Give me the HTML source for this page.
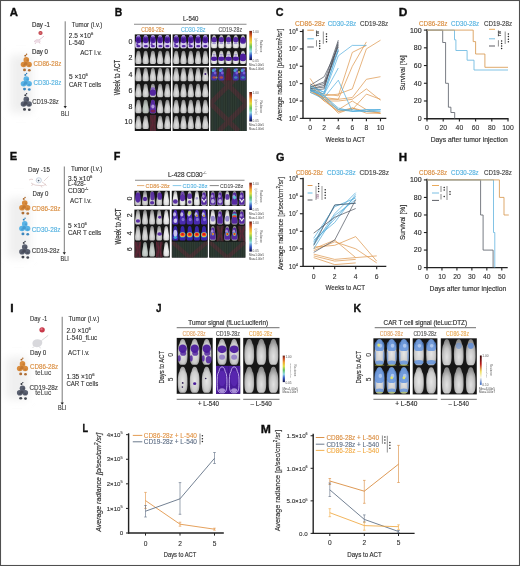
<!DOCTYPE html><html><head><meta charset="utf-8"><style>html,body{margin:0;padding:0;background:#fff;width:520px;height:566px;overflow:hidden;}body{position:relative;font-family:"Liberation Sans",sans-serif;}</style></head><body><svg width="520" height="566" viewBox="0 0 520 566" style="position:absolute;left:0;top:0;will-change:transform">
<defs>
<radialGradient id="mg" cx="0.5" cy="0.68" r="0.62"><stop offset="0" stop-color="#e2e2e2"/><stop offset="0.55" stop-color="#c6c6c6"/><stop offset="1" stop-color="#8c8c8c"/></radialGradient>
<radialGradient id="mgb" cx="0.5" cy="0.6" r="0.6"><stop offset="0" stop-color="#f4f4f4"/><stop offset="0.6" stop-color="#e2e2e2"/><stop offset="1" stop-color="#a0a0a0"/></radialGradient>
<linearGradient id="cb_rainbow" x1="0" y1="0" x2="0" y2="1"><stop offset="0" stop-color="#602010"/><stop offset="0.1" stop-color="#c04020"/><stop offset="0.25" stop-color="#f0a030"/><stop offset="0.4" stop-color="#e0e040"/><stop offset="0.55" stop-color="#60c060"/><stop offset="0.7" stop-color="#90d8e8"/><stop offset="0.85" stop-color="#3050c0"/><stop offset="1" stop-color="#101040"/></linearGradient>
<linearGradient id="cb_heat" x1="0" y1="0" x2="0" y2="1"><stop offset="0" stop-color="#200000"/><stop offset="0.3" stop-color="#c02020"/><stop offset="0.6" stop-color="#f0e060"/><stop offset="0.8" stop-color="#f8f8f8"/><stop offset="1" stop-color="#70a0e0"/></linearGradient>
<radialGradient id="shadow" cx="0.5" cy="0.5" r="0.5"><stop offset="0" stop-color="#f1f1f1"/><stop offset="0.6" stop-color="#f6f6f6"/><stop offset="1" stop-color="#ffffff" stop-opacity="0"/></radialGradient>
<filter id="bl" x="-5%" y="-5%" width="110%" height="110%"><feGaussianBlur stdDeviation="0.4"/></filter>
<filter id="sh" x="-60%" y="-30%" width="220%" height="160%"><feGaussianBlur stdDeviation="4.5"/></filter>
<filter id="gb" x="0" y="0" width="100%" height="100%" filterUnits="userSpaceOnUse"><feGaussianBlur stdDeviation="0.3"/></filter>
<radialGradient id="mgj" cx="0.5" cy="0.55" r="0.62"><stop offset="0" stop-color="#e6e6e6"/><stop offset="0.6" stop-color="#cdcdcd"/><stop offset="1" stop-color="#8e8e8e"/></radialGradient>
</defs>
<g font-family='"Liberation Sans", sans-serif' filter="url(#gb)">
<text x="9.8" y="15.8" font-size="11" fill="#111" stroke="#111" stroke-width="0.35" font-weight="bold" textLength="8.2" lengthAdjust="spacingAndGlyphs" >A</text>
<rect x="10" y="55" width="22" height="58" rx="4" fill="#efefef" filter="url(#sh)"/>
<text x="32" y="26.5" font-size="7" fill="#2e2e2e" stroke="#2e2e2e" stroke-width="0.16" textLength="18" lengthAdjust="spacingAndGlyphs" >Day -1</text>
<ellipse cx="40.50" cy="33.00" rx="2.10" ry="1.90" fill="#c0404a" opacity="1"/>
<ellipse cx="40.50" cy="33.00" rx="1.20" ry="1.00" fill="#d86a70" opacity="1"/>
<path d="M34,42 Q36,39 39,40 Q42,38 44,36 M36,42.5 L35,44 M39,41.5 L40,43.5" stroke="#d8b8c8" stroke-width="0.8" fill="none"/>
<ellipse cx="37.50" cy="41.20" rx="3.20" ry="1.60" fill="#ead6e0" opacity="0.8"/>
<text x="32" y="53.5" font-size="7" fill="#2e2e2e" stroke="#2e2e2e" stroke-width="0.16" textLength="16" lengthAdjust="spacingAndGlyphs" >Day 0</text>
<ellipse cx="25.30" cy="55.70" rx="1.00" ry="0.90" fill="#a86020" opacity="1"/>
<ellipse cx="26.60" cy="54.30" rx="0.70" ry="0.70" fill="#a86020" opacity="1"/>
<ellipse cx="26.30" cy="59.90" rx="2.80" ry="2.80" fill="#d98c3e" opacity="1"/>
<ellipse cx="23.60" cy="64.50" rx="2.90" ry="2.80" fill="#d98c3e" opacity="1"/>
<ellipse cx="29.00" cy="64.50" rx="2.90" ry="2.80" fill="#d98c3e" opacity="1"/>
<ellipse cx="26.30" cy="62.90" rx="2.40" ry="2.30" fill="#d98c3e" opacity="1"/>
<ellipse cx="25.70" cy="63.70" rx="1.80" ry="1.60" fill="#a86020" opacity="0.45"/>
<ellipse cx="27.50" cy="60.30" rx="1.20" ry="1.10" fill="#a86020" opacity="0.35"/>
<ellipse cx="23.80" cy="65.30" rx="1.20" ry="1.10" fill="#a86020" opacity="0.35"/>
<ellipse cx="29.20" cy="65.60" rx="1.20" ry="1.10" fill="#a86020" opacity="0.35"/>
<ellipse cx="24.50" cy="69.90" rx="1.50" ry="1.30" fill="#a86020" opacity="0.9"/>
<ellipse cx="29.30" cy="70.30" rx="1.40" ry="1.30" fill="#a86020" opacity="0.9"/>
<text x="33.5" y="65.6" font-size="7.2" fill="#d98c3e" stroke="#d98c3e" stroke-width="0.16" textLength="27.8" lengthAdjust="spacingAndGlyphs" >CD86-28z</text>
<ellipse cx="25.30" cy="74.90" rx="1.00" ry="0.90" fill="#2a7cb8" opacity="1"/>
<ellipse cx="26.60" cy="73.50" rx="0.70" ry="0.70" fill="#2a7cb8" opacity="1"/>
<ellipse cx="26.30" cy="79.10" rx="2.80" ry="2.80" fill="#5ab4e6" opacity="1"/>
<ellipse cx="23.60" cy="83.70" rx="2.90" ry="2.80" fill="#5ab4e6" opacity="1"/>
<ellipse cx="29.00" cy="83.70" rx="2.90" ry="2.80" fill="#5ab4e6" opacity="1"/>
<ellipse cx="26.30" cy="82.10" rx="2.40" ry="2.30" fill="#5ab4e6" opacity="1"/>
<ellipse cx="25.70" cy="82.90" rx="1.80" ry="1.60" fill="#2a7cb8" opacity="0.45"/>
<ellipse cx="27.50" cy="79.50" rx="1.20" ry="1.10" fill="#2a7cb8" opacity="0.35"/>
<ellipse cx="23.80" cy="84.50" rx="1.20" ry="1.10" fill="#2a7cb8" opacity="0.35"/>
<ellipse cx="29.20" cy="84.80" rx="1.20" ry="1.10" fill="#2a7cb8" opacity="0.35"/>
<ellipse cx="24.50" cy="89.10" rx="1.50" ry="1.30" fill="#2a7cb8" opacity="0.9"/>
<ellipse cx="29.30" cy="89.50" rx="1.40" ry="1.30" fill="#2a7cb8" opacity="0.9"/>
<text x="33.5" y="85.0" font-size="7.2" fill="#55b2e0" stroke="#55b2e0" stroke-width="0.16" textLength="27.8" lengthAdjust="spacingAndGlyphs" >CD30-28z</text>
<ellipse cx="25.30" cy="95.20" rx="1.00" ry="0.90" fill="#30343e" opacity="1"/>
<ellipse cx="26.60" cy="93.80" rx="0.70" ry="0.70" fill="#30343e" opacity="1"/>
<ellipse cx="26.30" cy="99.40" rx="2.80" ry="2.80" fill="#5a6070" opacity="1"/>
<ellipse cx="23.60" cy="104.00" rx="2.90" ry="2.80" fill="#5a6070" opacity="1"/>
<ellipse cx="29.00" cy="104.00" rx="2.90" ry="2.80" fill="#5a6070" opacity="1"/>
<ellipse cx="26.30" cy="102.40" rx="2.40" ry="2.30" fill="#5a6070" opacity="1"/>
<ellipse cx="25.70" cy="103.20" rx="1.80" ry="1.60" fill="#30343e" opacity="0.45"/>
<ellipse cx="27.50" cy="99.80" rx="1.20" ry="1.10" fill="#30343e" opacity="0.35"/>
<ellipse cx="23.80" cy="104.80" rx="1.20" ry="1.10" fill="#30343e" opacity="0.35"/>
<ellipse cx="29.20" cy="105.10" rx="1.20" ry="1.10" fill="#30343e" opacity="0.35"/>
<ellipse cx="24.50" cy="109.40" rx="1.50" ry="1.30" fill="#30343e" opacity="0.9"/>
<ellipse cx="29.30" cy="109.80" rx="1.40" ry="1.30" fill="#30343e" opacity="0.9"/>
<text x="32.3" y="103.8" font-size="7.2" fill="#444" stroke="#444" stroke-width="0.16" textLength="26.5" lengthAdjust="spacingAndGlyphs" >CD19-28z</text>
<line x1="65.2" y1="21.3" x2="65.2" y2="106.6" stroke="#6a6a6a" stroke-width="0.9" />
<path d="M63.6,106.0 L66.8,106.0 L65.2,108.6 Z" fill="#222"/>
<text x="71.7" y="26.7" font-size="6.6" fill="#2e2e2e" stroke="#2e2e2e" stroke-width="0.1" textLength="30.6" lengthAdjust="spacingAndGlyphs" >Tumor (i.v.)</text>
<text x="68.8" y="38.1" font-size="6.6" fill="#2e2e2e" stroke="#2e2e2e" stroke-width="0.1" >2.5 ×10<tspan font-size="4.2" dy="-2.8">6</tspan></text>
<text x="68.8" y="45.1" font-size="6.6" fill="#2e2e2e" stroke="#2e2e2e" stroke-width="0.1" textLength="15.7" lengthAdjust="spacingAndGlyphs" >L-540</text>
<text x="80.2" y="54.9" font-size="6.6" fill="#2e2e2e" stroke="#2e2e2e" stroke-width="0.1" textLength="21.6" lengthAdjust="spacingAndGlyphs" >ACT i.v.</text>
<text x="68.9" y="79.1" font-size="6.6" fill="#2e2e2e" stroke="#2e2e2e" stroke-width="0.1" >5 ×10<tspan font-size="4.2" dy="-2.8">6</tspan></text>
<text x="68.9" y="86.8" font-size="6.6" fill="#2e2e2e" stroke="#2e2e2e" stroke-width="0.1" textLength="32.3" lengthAdjust="spacingAndGlyphs" >CAR T cells</text>
<text x="61" y="115.7" font-size="6.6" fill="#2e2e2e" stroke="#2e2e2e" stroke-width="0.1" textLength="8.2" lengthAdjust="spacingAndGlyphs" >BLI</text>
<text x="114.7" y="16" font-size="11" fill="#111" stroke="#111" stroke-width="0.35" font-weight="bold" textLength="7.5" lengthAdjust="spacingAndGlyphs" >B</text>
<text x="183" y="21.2" font-size="7.2" fill="#2e2e2e" stroke="#2e2e2e" stroke-width="0.16" textLength="15.5" lengthAdjust="spacingAndGlyphs" >L-540</text>
<line x1="134" y1="24.3" x2="246.5" y2="24.3" stroke="#8a8a8a" stroke-width="1.1" />
<text x="141.2" y="31.8" font-size="6.3" fill="#d98c3e" stroke="#d98c3e" stroke-width="0.1" textLength="23" lengthAdjust="spacingAndGlyphs" >CD86-28z</text>
<text x="181" y="31.8" font-size="6.3" fill="#55b2e0" stroke="#55b2e0" stroke-width="0.1" textLength="24.5" lengthAdjust="spacingAndGlyphs" >CD30-28z</text>
<text x="218.5" y="31.8" font-size="6.3" fill="#505050" stroke="#505050" stroke-width="0.1" textLength="23.5" lengthAdjust="spacingAndGlyphs" >CD19-28z</text>
<text x="132.3" y="43.6" font-size="7" fill="#2e2e2e" stroke="#2e2e2e" stroke-width="0.16" text-anchor="end" >0</text>
<text x="132.3" y="60.1" font-size="7" fill="#2e2e2e" stroke="#2e2e2e" stroke-width="0.16" text-anchor="end" >2</text>
<text x="132.3" y="77.19999999999999" font-size="7" fill="#2e2e2e" stroke="#2e2e2e" stroke-width="0.16" text-anchor="end" >4</text>
<text x="132.3" y="93.39999999999999" font-size="7" fill="#2e2e2e" stroke="#2e2e2e" stroke-width="0.16" text-anchor="end" >6</text>
<text x="132.3" y="108.89999999999999" font-size="7" fill="#2e2e2e" stroke="#2e2e2e" stroke-width="0.16" text-anchor="end" >8</text>
<text x="132.3" y="124.39999999999999" font-size="7" fill="#2e2e2e" stroke="#2e2e2e" stroke-width="0.16" text-anchor="end" >10</text>
<text x="120.2" y="77.6" font-size="8.4" fill="#2e2e2e" stroke="#2e2e2e" stroke-width="0.16" text-anchor="middle" textLength="35.5" lengthAdjust="spacingAndGlyphs" transform="rotate(-90 120.2 77.6)" >Week to ACT</text>
<g filter="url(#bl)">
<rect x="134.8" y="34.4" width="36.19999999999999" height="31.500000000000007" fill="#151515" />
<path d="M138.42,35.00 C139.96,35.00 140.34,36.32 140.47,38.31 C140.72,40.95 141.62,43.20 141.62,46.11 Q141.62,48.23 140.34,48.23 L136.50,48.23 Q135.22,48.23 135.22,46.11 C135.22,43.20 136.12,40.95 136.37,38.31 C136.50,36.32 136.88,35.00 138.42,35.00 Z" fill="url(#mg)"/>
<path d="M138.42,35.00 C139.96,35.00 140.34,36.32 140.47,38.31 C140.72,40.95 141.62,43.20 141.62,46.11 Q141.62,48.23 140.34,48.23 L136.50,48.23 Q135.22,48.23 135.22,46.11 C135.22,43.20 136.12,40.95 136.37,38.31 C136.50,36.32 136.88,35.00 138.42,35.00 Z" fill="#d4c8ee"/>
<ellipse cx="138.42" cy="39.76" rx="2.82" ry="3.57" fill="#4b1c9c" opacity="1"/>
<ellipse cx="138.12" cy="39.76" rx="1.41" ry="1.59" fill="#3a1080" opacity="0.8"/>
<ellipse cx="138.42" cy="36.32" rx="1.92" ry="1.06" fill="#8a70c8" opacity="0.8"/>
<ellipse cx="138.42" cy="46.11" rx="2.05" ry="1.19" fill="#4b1c9c" opacity="0.95"/>
<ellipse cx="137.22" cy="44.26" rx="0.96" ry="1.32" fill="#4b1c9c" opacity="0.8"/>
<path d="M145.66,35.00 C147.20,35.00 147.58,36.32 147.71,38.31 C147.96,40.95 148.86,43.20 148.86,46.11 Q148.86,48.23 147.58,48.23 L143.74,48.23 Q142.46,48.23 142.46,46.11 C142.46,43.20 143.36,40.95 143.61,38.31 C143.74,36.32 144.12,35.00 145.66,35.00 Z" fill="url(#mg)"/>
<path d="M145.66,35.00 C147.20,35.00 147.58,36.32 147.71,38.31 C147.96,40.95 148.86,43.20 148.86,46.11 Q148.86,48.23 147.58,48.23 L143.74,48.23 Q142.46,48.23 142.46,46.11 C142.46,43.20 143.36,40.95 143.61,38.31 C143.74,36.32 144.12,35.00 145.66,35.00 Z" fill="#d4c8ee"/>
<ellipse cx="145.66" cy="39.76" rx="2.82" ry="3.57" fill="#4b1c9c" opacity="1"/>
<ellipse cx="145.36" cy="39.76" rx="1.41" ry="1.59" fill="#3a1080" opacity="0.8"/>
<ellipse cx="145.66" cy="36.32" rx="1.92" ry="1.06" fill="#8a70c8" opacity="0.8"/>
<ellipse cx="145.86" cy="46.11" rx="2.05" ry="1.19" fill="#4b1c9c" opacity="0.95"/>
<path d="M152.90,35.00 C154.44,35.00 154.82,36.32 154.95,38.31 C155.20,40.95 156.10,43.20 156.10,46.11 Q156.10,48.23 154.82,48.23 L150.98,48.23 Q149.70,48.23 149.70,46.11 C149.70,43.20 150.60,40.95 150.85,38.31 C150.98,36.32 151.36,35.00 152.90,35.00 Z" fill="url(#mg)"/>
<path d="M152.90,35.00 C154.44,35.00 154.82,36.32 154.95,38.31 C155.20,40.95 156.10,43.20 156.10,46.11 Q156.10,48.23 154.82,48.23 L150.98,48.23 Q149.70,48.23 149.70,46.11 C149.70,43.20 150.60,40.95 150.85,38.31 C150.98,36.32 151.36,35.00 152.90,35.00 Z" fill="#d4c8ee"/>
<ellipse cx="152.90" cy="39.76" rx="2.82" ry="3.57" fill="#4b1c9c" opacity="1"/>
<ellipse cx="152.60" cy="39.76" rx="1.41" ry="1.59" fill="#3a1080" opacity="0.8"/>
<ellipse cx="152.90" cy="36.32" rx="1.92" ry="1.06" fill="#8a70c8" opacity="0.8"/>
<ellipse cx="152.90" cy="46.11" rx="2.05" ry="1.19" fill="#4b1c9c" opacity="0.95"/>
<ellipse cx="151.70" cy="44.26" rx="0.96" ry="1.32" fill="#4b1c9c" opacity="0.8"/>
<path d="M160.14,35.00 C161.68,35.00 162.06,36.32 162.19,38.31 C162.44,40.95 163.34,43.20 163.34,46.11 Q163.34,48.23 162.06,48.23 L158.22,48.23 Q156.94,48.23 156.94,46.11 C156.94,43.20 157.84,40.95 158.09,38.31 C158.22,36.32 158.60,35.00 160.14,35.00 Z" fill="url(#mg)"/>
<path d="M160.14,35.00 C161.68,35.00 162.06,36.32 162.19,38.31 C162.44,40.95 163.34,43.20 163.34,46.11 Q163.34,48.23 162.06,48.23 L158.22,48.23 Q156.94,48.23 156.94,46.11 C156.94,43.20 157.84,40.95 158.09,38.31 C158.22,36.32 158.60,35.00 160.14,35.00 Z" fill="#d4c8ee"/>
<ellipse cx="160.14" cy="39.76" rx="2.82" ry="3.57" fill="#4b1c9c" opacity="1"/>
<ellipse cx="159.84" cy="39.76" rx="1.41" ry="1.59" fill="#3a1080" opacity="0.8"/>
<ellipse cx="160.14" cy="36.32" rx="1.92" ry="1.06" fill="#8a70c8" opacity="0.8"/>
<ellipse cx="160.34" cy="46.11" rx="2.05" ry="1.19" fill="#4b1c9c" opacity="0.95"/>
<path d="M167.38,35.00 C168.92,35.00 169.30,36.32 169.43,38.31 C169.68,40.95 170.58,43.20 170.58,46.11 Q170.58,48.23 169.30,48.23 L165.46,48.23 Q164.18,48.23 164.18,46.11 C164.18,43.20 165.08,40.95 165.33,38.31 C165.46,36.32 165.84,35.00 167.38,35.00 Z" fill="url(#mg)"/>
<path d="M167.38,35.00 C168.92,35.00 169.30,36.32 169.43,38.31 C169.68,40.95 170.58,43.20 170.58,46.11 Q170.58,48.23 169.30,48.23 L165.46,48.23 Q164.18,48.23 164.18,46.11 C164.18,43.20 165.08,40.95 165.33,38.31 C165.46,36.32 165.84,35.00 167.38,35.00 Z" fill="#d4c8ee"/>
<ellipse cx="167.38" cy="39.76" rx="2.82" ry="3.57" fill="#4b1c9c" opacity="1"/>
<ellipse cx="167.08" cy="39.76" rx="1.41" ry="1.59" fill="#3a1080" opacity="0.8"/>
<ellipse cx="167.38" cy="36.32" rx="1.92" ry="1.06" fill="#8a70c8" opacity="0.8"/>
<ellipse cx="167.38" cy="46.11" rx="2.05" ry="1.19" fill="#4b1c9c" opacity="0.95"/>
<path d="M138.42,50.75 C139.96,50.75 140.34,52.07 140.47,54.06 C140.72,56.70 141.62,58.95 141.62,61.86 Q141.62,63.98 140.34,63.98 L136.50,63.98 Q135.22,63.98 135.22,61.86 C135.22,58.95 136.12,56.70 136.37,54.06 C136.50,52.07 136.88,50.75 138.42,50.75 Z" fill="url(#mg)"/>
<path d="M145.66,50.75 C147.20,50.75 147.58,52.07 147.71,54.06 C147.96,56.70 148.86,58.95 148.86,61.86 Q148.86,63.98 147.58,63.98 L143.74,63.98 Q142.46,63.98 142.46,61.86 C142.46,58.95 143.36,56.70 143.61,54.06 C143.74,52.07 144.12,50.75 145.66,50.75 Z" fill="url(#mg)"/>
<path d="M152.90,50.75 C154.44,50.75 154.82,52.07 154.95,54.06 C155.20,56.70 156.10,58.95 156.10,61.86 Q156.10,63.98 154.82,63.98 L150.98,63.98 Q149.70,63.98 149.70,61.86 C149.70,58.95 150.60,56.70 150.85,54.06 C150.98,52.07 151.36,50.75 152.90,50.75 Z" fill="url(#mg)"/>
<path d="M160.14,50.75 C161.68,50.75 162.06,52.07 162.19,54.06 C162.44,56.70 163.34,58.95 163.34,61.86 Q163.34,63.98 162.06,63.98 L158.22,63.98 Q156.94,63.98 156.94,61.86 C156.94,58.95 157.84,56.70 158.09,54.06 C158.22,52.07 158.60,50.75 160.14,50.75 Z" fill="url(#mg)"/>
<path d="M167.38,50.75 C168.92,50.75 169.30,52.07 169.43,54.06 C169.68,56.70 170.58,58.95 170.58,61.86 Q170.58,63.98 169.30,63.98 L165.46,63.98 Q164.18,63.98 164.18,61.86 C164.18,58.95 165.08,56.70 165.33,54.06 C165.46,52.07 165.84,50.75 167.38,50.75 Z" fill="url(#mg)"/>
<rect x="172.6" y="34.4" width="36.400000000000006" height="31.500000000000007" fill="#151515" />
<path d="M176.24,35.00 C177.78,35.00 178.16,36.32 178.29,38.31 C178.54,40.95 179.44,43.20 179.44,46.11 Q179.44,48.23 178.16,48.23 L174.32,48.23 Q173.04,48.23 173.04,46.11 C173.04,43.20 173.94,40.95 174.19,38.31 C174.32,36.32 174.70,35.00 176.24,35.00 Z" fill="url(#mg)"/>
<path d="M176.24,35.00 C177.78,35.00 178.16,36.32 178.29,38.31 C178.54,40.95 179.44,43.20 179.44,46.11 Q179.44,48.23 178.16,48.23 L174.32,48.23 Q173.04,48.23 173.04,46.11 C173.04,43.20 173.94,40.95 174.19,38.31 C174.32,36.32 174.70,35.00 176.24,35.00 Z" fill="#d4c8ee"/>
<ellipse cx="176.24" cy="39.76" rx="2.82" ry="3.57" fill="#4b1c9c" opacity="1"/>
<ellipse cx="175.94" cy="39.76" rx="1.41" ry="1.59" fill="#3a1080" opacity="0.8"/>
<ellipse cx="176.24" cy="36.32" rx="1.92" ry="1.06" fill="#8a70c8" opacity="0.8"/>
<ellipse cx="176.24" cy="46.11" rx="2.05" ry="1.19" fill="#4b1c9c" opacity="0.95"/>
<ellipse cx="175.04" cy="44.26" rx="0.96" ry="1.32" fill="#4b1c9c" opacity="0.8"/>
<path d="M183.52,35.00 C185.06,35.00 185.44,36.32 185.57,38.31 C185.82,40.95 186.72,43.20 186.72,46.11 Q186.72,48.23 185.44,48.23 L181.60,48.23 Q180.32,48.23 180.32,46.11 C180.32,43.20 181.22,40.95 181.47,38.31 C181.60,36.32 181.98,35.00 183.52,35.00 Z" fill="url(#mg)"/>
<path d="M183.52,35.00 C185.06,35.00 185.44,36.32 185.57,38.31 C185.82,40.95 186.72,43.20 186.72,46.11 Q186.72,48.23 185.44,48.23 L181.60,48.23 Q180.32,48.23 180.32,46.11 C180.32,43.20 181.22,40.95 181.47,38.31 C181.60,36.32 181.98,35.00 183.52,35.00 Z" fill="#d4c8ee"/>
<ellipse cx="183.52" cy="39.76" rx="2.82" ry="3.57" fill="#4b1c9c" opacity="1"/>
<ellipse cx="183.22" cy="39.76" rx="1.41" ry="1.59" fill="#3a1080" opacity="0.8"/>
<ellipse cx="183.52" cy="36.32" rx="1.92" ry="1.06" fill="#8a70c8" opacity="0.8"/>
<ellipse cx="183.72" cy="46.11" rx="2.05" ry="1.19" fill="#4b1c9c" opacity="0.95"/>
<path d="M190.80,35.00 C192.34,35.00 192.72,36.32 192.85,38.31 C193.10,40.95 194.00,43.20 194.00,46.11 Q194.00,48.23 192.72,48.23 L188.88,48.23 Q187.60,48.23 187.60,46.11 C187.60,43.20 188.50,40.95 188.75,38.31 C188.88,36.32 189.26,35.00 190.80,35.00 Z" fill="url(#mg)"/>
<path d="M190.80,35.00 C192.34,35.00 192.72,36.32 192.85,38.31 C193.10,40.95 194.00,43.20 194.00,46.11 Q194.00,48.23 192.72,48.23 L188.88,48.23 Q187.60,48.23 187.60,46.11 C187.60,43.20 188.50,40.95 188.75,38.31 C188.88,36.32 189.26,35.00 190.80,35.00 Z" fill="#d4c8ee"/>
<ellipse cx="190.80" cy="39.76" rx="2.82" ry="3.57" fill="#4b1c9c" opacity="1"/>
<ellipse cx="190.50" cy="39.76" rx="1.41" ry="1.59" fill="#3a1080" opacity="0.8"/>
<ellipse cx="190.80" cy="36.32" rx="1.92" ry="1.06" fill="#8a70c8" opacity="0.8"/>
<ellipse cx="190.80" cy="46.11" rx="2.05" ry="1.19" fill="#4b1c9c" opacity="0.95"/>
<ellipse cx="189.60" cy="44.26" rx="0.96" ry="1.32" fill="#4b1c9c" opacity="0.8"/>
<path d="M198.08,35.00 C199.62,35.00 200.00,36.32 200.13,38.31 C200.38,40.95 201.28,43.20 201.28,46.11 Q201.28,48.23 200.00,48.23 L196.16,48.23 Q194.88,48.23 194.88,46.11 C194.88,43.20 195.78,40.95 196.03,38.31 C196.16,36.32 196.54,35.00 198.08,35.00 Z" fill="url(#mg)"/>
<path d="M198.08,35.00 C199.62,35.00 200.00,36.32 200.13,38.31 C200.38,40.95 201.28,43.20 201.28,46.11 Q201.28,48.23 200.00,48.23 L196.16,48.23 Q194.88,48.23 194.88,46.11 C194.88,43.20 195.78,40.95 196.03,38.31 C196.16,36.32 196.54,35.00 198.08,35.00 Z" fill="#d4c8ee"/>
<ellipse cx="198.08" cy="39.76" rx="2.82" ry="3.57" fill="#4b1c9c" opacity="1"/>
<ellipse cx="197.78" cy="39.76" rx="1.41" ry="1.59" fill="#3a1080" opacity="0.8"/>
<ellipse cx="198.08" cy="36.32" rx="1.92" ry="1.06" fill="#8a70c8" opacity="0.8"/>
<ellipse cx="198.28" cy="46.11" rx="2.05" ry="1.19" fill="#4b1c9c" opacity="0.95"/>
<path d="M205.36,35.00 C206.90,35.00 207.28,36.32 207.41,38.31 C207.66,40.95 208.56,43.20 208.56,46.11 Q208.56,48.23 207.28,48.23 L203.44,48.23 Q202.16,48.23 202.16,46.11 C202.16,43.20 203.06,40.95 203.31,38.31 C203.44,36.32 203.82,35.00 205.36,35.00 Z" fill="url(#mg)"/>
<path d="M205.36,35.00 C206.90,35.00 207.28,36.32 207.41,38.31 C207.66,40.95 208.56,43.20 208.56,46.11 Q208.56,48.23 207.28,48.23 L203.44,48.23 Q202.16,48.23 202.16,46.11 C202.16,43.20 203.06,40.95 203.31,38.31 C203.44,36.32 203.82,35.00 205.36,35.00 Z" fill="#d4c8ee"/>
<ellipse cx="205.36" cy="39.76" rx="2.82" ry="3.57" fill="#4b1c9c" opacity="1"/>
<ellipse cx="205.06" cy="39.76" rx="1.41" ry="1.59" fill="#3a1080" opacity="0.8"/>
<ellipse cx="205.36" cy="36.32" rx="1.92" ry="1.06" fill="#8a70c8" opacity="0.8"/>
<ellipse cx="205.36" cy="46.11" rx="2.05" ry="1.19" fill="#4b1c9c" opacity="0.95"/>
<path d="M176.24,50.75 C177.78,50.75 178.16,52.07 178.29,54.06 C178.54,56.70 179.44,58.95 179.44,61.86 Q179.44,63.98 178.16,63.98 L174.32,63.98 Q173.04,63.98 173.04,61.86 C173.04,58.95 173.94,56.70 174.19,54.06 C174.32,52.07 174.70,50.75 176.24,50.75 Z" fill="url(#mg)"/>
<path d="M183.52,50.75 C185.06,50.75 185.44,52.07 185.57,54.06 C185.82,56.70 186.72,58.95 186.72,61.86 Q186.72,63.98 185.44,63.98 L181.60,63.98 Q180.32,63.98 180.32,61.86 C180.32,58.95 181.22,56.70 181.47,54.06 C181.60,52.07 181.98,50.75 183.52,50.75 Z" fill="url(#mg)"/>
<path d="M190.80,50.75 C192.34,50.75 192.72,52.07 192.85,54.06 C193.10,56.70 194.00,58.95 194.00,61.86 Q194.00,63.98 192.72,63.98 L188.88,63.98 Q187.60,63.98 187.60,61.86 C187.60,58.95 188.50,56.70 188.75,54.06 C188.88,52.07 189.26,50.75 190.80,50.75 Z" fill="url(#mg)"/>
<path d="M198.08,50.75 C199.62,50.75 200.00,52.07 200.13,54.06 C200.38,56.70 201.28,58.95 201.28,61.86 Q201.28,63.98 200.00,63.98 L196.16,63.98 Q194.88,63.98 194.88,61.86 C194.88,58.95 195.78,56.70 196.03,54.06 C196.16,52.07 196.54,50.75 198.08,50.75 Z" fill="url(#mg)"/>
<path d="M205.36,50.75 C206.90,50.75 207.28,52.07 207.41,54.06 C207.66,56.70 208.56,58.95 208.56,61.86 Q208.56,63.98 207.28,63.98 L203.44,63.98 Q202.16,63.98 202.16,61.86 C202.16,58.95 203.06,56.70 203.31,54.06 C203.44,52.07 203.82,50.75 205.36,50.75 Z" fill="url(#mg)"/>
<rect x="210.5" y="34.4" width="36.099999999999994" height="31.500000000000007" fill="#151515" />
<path d="M214.11,35.00 C215.65,35.00 216.03,36.32 216.16,38.31 C216.41,40.95 217.31,43.20 217.31,46.11 Q217.31,48.23 216.03,48.23 L212.19,48.23 Q210.91,48.23 210.91,46.11 C210.91,43.20 211.81,40.95 212.06,38.31 C212.19,36.32 212.57,35.00 214.11,35.00 Z" fill="url(#mgb)"/>
<ellipse cx="214.11" cy="39.63" rx="2.69" ry="2.65" fill="#4b1c9c" opacity="0.95"/>
<ellipse cx="214.11" cy="43.20" rx="1.92" ry="1.06" fill="#7060c0" opacity="0.6"/>
<path d="M221.33,35.00 C222.87,35.00 223.25,36.32 223.38,38.31 C223.63,40.95 224.53,43.20 224.53,46.11 Q224.53,48.23 223.25,48.23 L219.41,48.23 Q218.13,48.23 218.13,46.11 C218.13,43.20 219.03,40.95 219.28,38.31 C219.41,36.32 219.79,35.00 221.33,35.00 Z" fill="url(#mgb)"/>
<ellipse cx="221.33" cy="39.63" rx="2.69" ry="2.65" fill="#4b1c9c" opacity="0.95"/>
<ellipse cx="221.33" cy="43.20" rx="1.92" ry="1.06" fill="#7060c0" opacity="0.6"/>
<path d="M228.55,35.00 C230.09,35.00 230.47,36.32 230.60,38.31 C230.85,40.95 231.75,43.20 231.75,46.11 Q231.75,48.23 230.47,48.23 L226.63,48.23 Q225.35,48.23 225.35,46.11 C225.35,43.20 226.25,40.95 226.50,38.31 C226.63,36.32 227.01,35.00 228.55,35.00 Z" fill="url(#mgb)"/>
<ellipse cx="228.55" cy="39.63" rx="2.69" ry="2.65" fill="#4b1c9c" opacity="0.95"/>
<ellipse cx="228.55" cy="43.20" rx="1.92" ry="1.06" fill="#7060c0" opacity="0.6"/>
<path d="M235.77,35.00 C237.31,35.00 237.69,36.32 237.82,38.31 C238.07,40.95 238.97,43.20 238.97,46.11 Q238.97,48.23 237.69,48.23 L233.85,48.23 Q232.57,48.23 232.57,46.11 C232.57,43.20 233.47,40.95 233.72,38.31 C233.85,36.32 234.23,35.00 235.77,35.00 Z" fill="url(#mgb)"/>
<ellipse cx="235.77" cy="39.63" rx="2.69" ry="2.65" fill="#4b1c9c" opacity="0.95"/>
<ellipse cx="235.77" cy="43.20" rx="1.92" ry="1.06" fill="#7060c0" opacity="0.6"/>
<path d="M242.99,35.00 C244.53,35.00 244.91,36.32 245.04,38.31 C245.29,40.95 246.19,43.20 246.19,46.11 Q246.19,48.23 244.91,48.23 L241.07,48.23 Q239.79,48.23 239.79,46.11 C239.79,43.20 240.69,40.95 240.94,38.31 C241.07,36.32 241.45,35.00 242.99,35.00 Z" fill="url(#mgb)"/>
<ellipse cx="242.99" cy="39.63" rx="2.69" ry="2.65" fill="#4b1c9c" opacity="0.95"/>
<ellipse cx="242.99" cy="43.20" rx="1.92" ry="1.06" fill="#7060c0" opacity="0.6"/>
<ellipse cx="242.99" cy="40.95" rx="2.88" ry="2.65" fill="#4b1c9c" opacity="0.95"/>
<path d="M214.11,50.75 C215.65,50.75 216.03,52.07 216.16,54.06 C216.41,56.70 217.31,58.95 217.31,61.86 Q217.31,63.98 216.03,63.98 L212.19,63.98 Q210.91,63.98 210.91,61.86 C210.91,58.95 211.81,56.70 212.06,54.06 C212.19,52.07 212.57,50.75 214.11,50.75 Z" fill="url(#mgb)"/>
<ellipse cx="214.11" cy="58.69" rx="3.20" ry="2.25" fill="#4b1c9c" opacity="1"/>
<ellipse cx="214.11" cy="54.72" rx="1.60" ry="1.06" fill="#8070c0" opacity="0.6"/>
<path d="M221.33,50.75 C222.87,50.75 223.25,52.07 223.38,54.06 C223.63,56.70 224.53,58.95 224.53,61.86 Q224.53,63.98 223.25,63.98 L219.41,63.98 Q218.13,63.98 218.13,61.86 C218.13,58.95 219.03,56.70 219.28,54.06 C219.41,52.07 219.79,50.75 221.33,50.75 Z" fill="url(#mgb)"/>
<ellipse cx="221.33" cy="58.69" rx="3.20" ry="2.25" fill="#4b1c9c" opacity="1"/>
<ellipse cx="221.33" cy="54.72" rx="1.60" ry="1.06" fill="#8070c0" opacity="0.6"/>
<path d="M228.55,50.75 C230.09,50.75 230.47,52.07 230.60,54.06 C230.85,56.70 231.75,58.95 231.75,61.86 Q231.75,63.98 230.47,63.98 L226.63,63.98 Q225.35,63.98 225.35,61.86 C225.35,58.95 226.25,56.70 226.50,54.06 C226.63,52.07 227.01,50.75 228.55,50.75 Z" fill="url(#mgb)"/>
<ellipse cx="228.55" cy="58.69" rx="3.20" ry="2.25" fill="#4b1c9c" opacity="1"/>
<ellipse cx="228.55" cy="54.72" rx="1.60" ry="1.06" fill="#8070c0" opacity="0.6"/>
<path d="M235.77,50.75 C237.31,50.75 237.69,52.07 237.82,54.06 C238.07,56.70 238.97,58.95 238.97,61.86 Q238.97,63.98 237.69,63.98 L233.85,63.98 Q232.57,63.98 232.57,61.86 C232.57,58.95 233.47,56.70 233.72,54.06 C233.85,52.07 234.23,50.75 235.77,50.75 Z" fill="url(#mgb)"/>
<ellipse cx="235.77" cy="58.69" rx="3.20" ry="2.25" fill="#4b1c9c" opacity="1"/>
<ellipse cx="235.77" cy="54.72" rx="1.60" ry="1.06" fill="#8070c0" opacity="0.6"/>
<path d="M242.99,50.75 C244.53,50.75 244.91,52.07 245.04,54.06 C245.29,56.70 246.19,58.95 246.19,61.86 Q246.19,63.98 244.91,63.98 L241.07,63.98 Q239.79,63.98 239.79,61.86 C239.79,58.95 240.69,56.70 240.94,54.06 C241.07,52.07 241.45,50.75 242.99,50.75 Z" fill="url(#mgb)"/>
<ellipse cx="242.99" cy="58.69" rx="3.20" ry="2.25" fill="#4b1c9c" opacity="1"/>
<ellipse cx="242.99" cy="54.72" rx="1.60" ry="1.06" fill="#8070c0" opacity="0.6"/>
<ellipse cx="242.99" cy="57.37" rx="3.20" ry="3.97" fill="#4b1c9c" opacity="1"/>
<rect x="134.8" y="67.3" width="36.19999999999999" height="63.7" fill="#151515" />
<path d="M138.42,67.90 C139.96,67.90 140.34,69.24 140.47,71.24 C140.72,73.92 141.62,76.19 141.62,79.14 Q141.62,81.28 140.34,81.28 L136.50,81.28 Q135.22,81.28 135.22,79.14 C135.22,76.19 136.12,73.92 136.37,71.24 C136.50,69.24 136.88,67.90 138.42,67.90 Z" fill="url(#mg)"/>
<path d="M145.66,67.90 C147.20,67.90 147.58,69.24 147.71,71.24 C147.96,73.92 148.86,76.19 148.86,79.14 Q148.86,81.28 147.58,81.28 L143.74,81.28 Q142.46,81.28 142.46,79.14 C142.46,76.19 143.36,73.92 143.61,71.24 C143.74,69.24 144.12,67.90 145.66,67.90 Z" fill="url(#mg)"/>
<path d="M152.90,67.90 C154.44,67.90 154.82,69.24 154.95,71.24 C155.20,73.92 156.10,76.19 156.10,79.14 Q156.10,81.28 154.82,81.28 L150.98,81.28 Q149.70,81.28 149.70,79.14 C149.70,76.19 150.60,73.92 150.85,71.24 C150.98,69.24 151.36,67.90 152.90,67.90 Z" fill="url(#mg)"/>
<path d="M160.14,67.90 C161.68,67.90 162.06,69.24 162.19,71.24 C162.44,73.92 163.34,76.19 163.34,79.14 Q163.34,81.28 162.06,81.28 L158.22,81.28 Q156.94,81.28 156.94,79.14 C156.94,76.19 157.84,73.92 158.09,71.24 C158.22,69.24 158.60,67.90 160.14,67.90 Z" fill="url(#mg)"/>
<path d="M167.38,67.90 C168.92,67.90 169.30,69.24 169.43,71.24 C169.68,73.92 170.58,76.19 170.58,79.14 Q170.58,81.28 169.30,81.28 L165.46,81.28 Q164.18,81.28 164.18,79.14 C164.18,76.19 165.08,73.92 165.33,71.24 C165.46,69.24 165.84,67.90 167.38,67.90 Z" fill="url(#mg)"/>
<path d="M138.42,83.82 C139.96,83.82 140.34,85.16 140.47,87.17 C140.72,89.84 141.62,92.12 141.62,95.06 Q141.62,97.20 140.34,97.20 L136.50,97.20 Q135.22,97.20 135.22,95.06 C135.22,92.12 136.12,89.84 136.37,87.17 C136.50,85.16 136.88,83.82 138.42,83.82 Z" fill="url(#mg)"/>
<path d="M145.66,83.82 C147.20,83.82 147.58,85.16 147.71,87.17 C147.96,89.84 148.86,92.12 148.86,95.06 Q148.86,97.20 147.58,97.20 L143.74,97.20 Q142.46,97.20 142.46,95.06 C142.46,92.12 143.36,89.84 143.61,87.17 C143.74,85.16 144.12,83.82 145.66,83.82 Z" fill="url(#mg)"/>
<path d="M152.90,83.82 C154.44,83.82 154.82,85.16 154.95,87.17 C155.20,89.84 156.10,92.12 156.10,95.06 Q156.10,97.20 154.82,97.20 L150.98,97.20 Q149.70,97.20 149.70,95.06 C149.70,92.12 150.60,89.84 150.85,87.17 C150.98,85.16 151.36,83.82 152.90,83.82 Z" fill="url(#mg)"/>
<ellipse cx="152.90" cy="92.52" rx="3.20" ry="3.34" fill="#4b1c9c" opacity="0.95"/>
<ellipse cx="152.90" cy="88.51" rx="2.24" ry="1.34" fill="#6a3cc0" opacity="0.7"/>
<path d="M160.14,83.82 C161.68,83.82 162.06,85.16 162.19,87.17 C162.44,89.84 163.34,92.12 163.34,95.06 Q163.34,97.20 162.06,97.20 L158.22,97.20 Q156.94,97.20 156.94,95.06 C156.94,92.12 157.84,89.84 158.09,87.17 C158.22,85.16 158.60,83.82 160.14,83.82 Z" fill="url(#mg)"/>
<path d="M167.38,83.82 C168.92,83.82 169.30,85.16 169.43,87.17 C169.68,89.84 170.58,92.12 170.58,95.06 Q170.58,97.20 169.30,97.20 L165.46,97.20 Q164.18,97.20 164.18,95.06 C164.18,92.12 165.08,89.84 165.33,87.17 C165.46,85.16 165.84,83.82 167.38,83.82 Z" fill="url(#mg)"/>
<path d="M138.42,99.75 C139.96,99.75 140.34,101.09 140.47,103.09 C140.72,105.77 141.62,108.04 141.62,110.99 Q141.62,113.13 140.34,113.13 L136.50,113.13 Q135.22,113.13 135.22,110.99 C135.22,108.04 136.12,105.77 136.37,103.09 C136.50,101.09 136.88,99.75 138.42,99.75 Z" fill="url(#mg)"/>
<path d="M145.66,99.75 C147.20,99.75 147.58,101.09 147.71,103.09 C147.96,105.77 148.86,108.04 148.86,110.99 Q148.86,113.13 147.58,113.13 L143.74,113.13 Q142.46,113.13 142.46,110.99 C142.46,108.04 143.36,105.77 143.61,103.09 C143.74,101.09 144.12,99.75 145.66,99.75 Z" fill="url(#mg)"/>
<path d="M145.66,99.75 C147.20,99.75 147.58,101.09 147.71,103.09 C147.96,105.77 148.86,108.04 148.86,110.99 Q148.86,113.13 147.58,113.13 L143.74,113.13 Q142.46,113.13 142.46,110.99 C142.46,108.04 143.36,105.77 143.61,103.09 C143.74,101.09 144.12,99.75 145.66,99.75 Z" fill="#9ab0a0" opacity="0.35"/>
<path d="M152.90,99.75 C154.44,99.75 154.82,101.09 154.95,103.09 C155.20,105.77 156.10,108.04 156.10,110.99 Q156.10,113.13 154.82,113.13 L150.98,113.13 Q149.70,113.13 149.70,110.99 C149.70,108.04 150.60,105.77 150.85,103.09 C150.98,101.09 151.36,99.75 152.90,99.75 Z" fill="url(#mg)"/>
<path d="M152.90,99.75 C154.44,99.75 154.82,101.09 154.95,103.09 C155.20,105.77 156.10,108.04 156.10,110.99 Q156.10,113.13 154.82,113.13 L150.98,113.13 Q149.70,113.13 149.70,110.99 C149.70,108.04 150.60,105.77 150.85,103.09 C150.98,101.09 151.36,99.75 152.90,99.75 Z" fill="#4b1c9c" opacity="0.9"/>
<ellipse cx="152.90" cy="106.44" rx="1.60" ry="2.01" fill="#c8b8e8" opacity="0.8"/>
<ellipse cx="152.90" cy="111.12" rx="2.56" ry="1.34" fill="#802040" opacity="0.8"/>
<path d="M160.14,99.75 C161.68,99.75 162.06,101.09 162.19,103.09 C162.44,105.77 163.34,108.04 163.34,110.99 Q163.34,113.13 162.06,113.13 L158.22,113.13 Q156.94,113.13 156.94,110.99 C156.94,108.04 157.84,105.77 158.09,103.09 C158.22,101.09 158.60,99.75 160.14,99.75 Z" fill="url(#mg)"/>
<path d="M167.38,99.75 C168.92,99.75 169.30,101.09 169.43,103.09 C169.68,105.77 170.58,108.04 170.58,110.99 Q170.58,113.13 169.30,113.13 L165.46,113.13 Q164.18,113.13 164.18,110.99 C164.18,108.04 165.08,105.77 165.33,103.09 C165.46,101.09 165.84,99.75 167.38,99.75 Z" fill="url(#mg)"/>
<path d="M138.42,115.67 C139.96,115.67 140.34,117.01 140.47,119.02 C140.72,121.69 141.62,123.97 141.62,126.91 Q141.62,129.05 140.34,129.05 L136.50,129.05 Q135.22,129.05 135.22,126.91 C135.22,123.97 136.12,121.69 136.37,119.02 C136.50,117.01 136.88,115.67 138.42,115.67 Z" fill="url(#mg)"/>
<path d="M145.66,115.67 C147.20,115.67 147.58,117.01 147.71,119.02 C147.96,121.69 148.86,123.97 148.86,126.91 Q148.86,129.05 147.58,129.05 L143.74,129.05 Q142.46,129.05 142.46,126.91 C142.46,123.97 143.36,121.69 143.61,119.02 C143.74,117.01 144.12,115.67 145.66,115.67 Z" fill="url(#mg)"/>
<rect x="149.88" y="115.075" width="6.039999999999997" height="15.925" fill="#4a2230" />
<clipPath id="dc1"><rect x="149.88" y="115.08" width="6.04" height="15.93"/></clipPath>
<g clip-path="url(#dc1)">
<rect x="149.88" y="115.075" width="6.039999999999997" height="15.925" fill="#2e3a33" />
<path d="M131.8,115.1 L137.8,131.0 M131.8,115.1 L125.7,131.0 M137.8,115.1 L143.8,131.0 M137.8,115.1 L131.8,131.0 M143.8,115.1 L149.9,131.0 M143.8,115.1 L137.8,131.0 M149.9,115.1 L155.9,131.0 M149.9,115.1 L143.8,131.0 M155.9,115.1 L162.0,131.0 M155.9,115.1 L149.9,131.0 M162.0,115.1 L168.0,131.0 M162.0,115.1 L155.9,131.0 M168.0,115.1 L174.0,131.0 M168.0,115.1 L162.0,131.0 M174.0,115.1 L180.1,131.0 M174.0,115.1 L168.0,131.0" stroke="#74243a" stroke-width="1.60" fill="none" opacity="0.5"/>
<rect x="150.68" y="115.08" width="0.7" height="15.93" fill="#1c2420" opacity="0.45"/>
<rect x="152.98" y="115.08" width="0.7" height="15.93" fill="#1c2420" opacity="0.45"/>
<rect x="155.28" y="115.08" width="0.7" height="15.93" fill="#1c2420" opacity="0.45"/>
</g>
<rect x="149.88" y="115.08" width="6.04" height="15.93" fill="#6a1e34" opacity="0.5"/>
<path d="M160.14,115.67 C161.68,115.67 162.06,117.01 162.19,119.02 C162.44,121.69 163.34,123.97 163.34,126.91 Q163.34,129.05 162.06,129.05 L158.22,129.05 Q156.94,129.05 156.94,126.91 C156.94,123.97 157.84,121.69 158.09,119.02 C158.22,117.01 158.60,115.67 160.14,115.67 Z" fill="url(#mg)"/>
<path d="M167.38,115.67 C168.92,115.67 169.30,117.01 169.43,119.02 C169.68,121.69 170.58,123.97 170.58,126.91 Q170.58,129.05 169.30,129.05 L165.46,129.05 Q164.18,129.05 164.18,126.91 C164.18,123.97 165.08,121.69 165.33,119.02 C165.46,117.01 165.84,115.67 167.38,115.67 Z" fill="url(#mg)"/>
<rect x="172.6" y="67.3" width="36.400000000000006" height="63.7" fill="#151515" />
<path d="M176.24,67.90 C177.78,67.90 178.16,69.24 178.29,71.24 C178.54,73.92 179.44,76.19 179.44,79.14 Q179.44,81.28 178.16,81.28 L174.32,81.28 Q173.04,81.28 173.04,79.14 C173.04,76.19 173.94,73.92 174.19,71.24 C174.32,69.24 174.70,67.90 176.24,67.90 Z" fill="url(#mg)"/>
<path d="M183.52,67.90 C185.06,67.90 185.44,69.24 185.57,71.24 C185.82,73.92 186.72,76.19 186.72,79.14 Q186.72,81.28 185.44,81.28 L181.60,81.28 Q180.32,81.28 180.32,79.14 C180.32,76.19 181.22,73.92 181.47,71.24 C181.60,69.24 181.98,67.90 183.52,67.90 Z" fill="url(#mg)"/>
<path d="M190.80,67.90 C192.34,67.90 192.72,69.24 192.85,71.24 C193.10,73.92 194.00,76.19 194.00,79.14 Q194.00,81.28 192.72,81.28 L188.88,81.28 Q187.60,81.28 187.60,79.14 C187.60,76.19 188.50,73.92 188.75,71.24 C188.88,69.24 189.26,67.90 190.80,67.90 Z" fill="url(#mg)"/>
<path d="M198.08,67.90 C199.62,67.90 200.00,69.24 200.13,71.24 C200.38,73.92 201.28,76.19 201.28,79.14 Q201.28,81.28 200.00,81.28 L196.16,81.28 Q194.88,81.28 194.88,79.14 C194.88,76.19 195.78,73.92 196.03,71.24 C196.16,69.24 196.54,67.90 198.08,67.90 Z" fill="url(#mg)"/>
<path d="M205.36,67.90 C206.90,67.90 207.28,69.24 207.41,71.24 C207.66,73.92 208.56,76.19 208.56,79.14 Q208.56,81.28 207.28,81.28 L203.44,81.28 Q202.16,81.28 202.16,79.14 C202.16,76.19 203.06,73.92 203.31,71.24 C203.44,69.24 203.82,67.90 205.36,67.90 Z" fill="url(#mg)"/>
<ellipse cx="205.36" cy="73.92" rx="1.00" ry="1.00" fill="#3a1a70" opacity="1"/>
<path d="M176.24,83.82 C177.78,83.82 178.16,85.16 178.29,87.17 C178.54,89.84 179.44,92.12 179.44,95.06 Q179.44,97.20 178.16,97.20 L174.32,97.20 Q173.04,97.20 173.04,95.06 C173.04,92.12 173.94,89.84 174.19,87.17 C174.32,85.16 174.70,83.82 176.24,83.82 Z" fill="url(#mg)"/>
<path d="M183.52,83.82 C185.06,83.82 185.44,85.16 185.57,87.17 C185.82,89.84 186.72,92.12 186.72,95.06 Q186.72,97.20 185.44,97.20 L181.60,97.20 Q180.32,97.20 180.32,95.06 C180.32,92.12 181.22,89.84 181.47,87.17 C181.60,85.16 181.98,83.82 183.52,83.82 Z" fill="url(#mg)"/>
<path d="M190.80,83.82 C192.34,83.82 192.72,85.16 192.85,87.17 C193.10,89.84 194.00,92.12 194.00,95.06 Q194.00,97.20 192.72,97.20 L188.88,97.20 Q187.60,97.20 187.60,95.06 C187.60,92.12 188.50,89.84 188.75,87.17 C188.88,85.16 189.26,83.82 190.80,83.82 Z" fill="url(#mg)"/>
<path d="M198.08,83.82 C199.62,83.82 200.00,85.16 200.13,87.17 C200.38,89.84 201.28,92.12 201.28,95.06 Q201.28,97.20 200.00,97.20 L196.16,97.20 Q194.88,97.20 194.88,95.06 C194.88,92.12 195.78,89.84 196.03,87.17 C196.16,85.16 196.54,83.82 198.08,83.82 Z" fill="url(#mg)"/>
<path d="M205.36,83.82 C206.90,83.82 207.28,85.16 207.41,87.17 C207.66,89.84 208.56,92.12 208.56,95.06 Q208.56,97.20 207.28,97.20 L203.44,97.20 Q202.16,97.20 202.16,95.06 C202.16,92.12 203.06,89.84 203.31,87.17 C203.44,85.16 203.82,83.82 205.36,83.82 Z" fill="url(#mg)"/>
<path d="M176.24,99.75 C177.78,99.75 178.16,101.09 178.29,103.09 C178.54,105.77 179.44,108.04 179.44,110.99 Q179.44,113.13 178.16,113.13 L174.32,113.13 Q173.04,113.13 173.04,110.99 C173.04,108.04 173.94,105.77 174.19,103.09 C174.32,101.09 174.70,99.75 176.24,99.75 Z" fill="url(#mg)"/>
<path d="M183.52,99.75 C185.06,99.75 185.44,101.09 185.57,103.09 C185.82,105.77 186.72,108.04 186.72,110.99 Q186.72,113.13 185.44,113.13 L181.60,113.13 Q180.32,113.13 180.32,110.99 C180.32,108.04 181.22,105.77 181.47,103.09 C181.60,101.09 181.98,99.75 183.52,99.75 Z" fill="url(#mg)"/>
<path d="M190.80,99.75 C192.34,99.75 192.72,101.09 192.85,103.09 C193.10,105.77 194.00,108.04 194.00,110.99 Q194.00,113.13 192.72,113.13 L188.88,113.13 Q187.60,113.13 187.60,110.99 C187.60,108.04 188.50,105.77 188.75,103.09 C188.88,101.09 189.26,99.75 190.80,99.75 Z" fill="url(#mg)"/>
<path d="M198.08,99.75 C199.62,99.75 200.00,101.09 200.13,103.09 C200.38,105.77 201.28,108.04 201.28,110.99 Q201.28,113.13 200.00,113.13 L196.16,113.13 Q194.88,113.13 194.88,110.99 C194.88,108.04 195.78,105.77 196.03,103.09 C196.16,101.09 196.54,99.75 198.08,99.75 Z" fill="url(#mg)"/>
<path d="M205.36,99.75 C206.90,99.75 207.28,101.09 207.41,103.09 C207.66,105.77 208.56,108.04 208.56,110.99 Q208.56,113.13 207.28,113.13 L203.44,113.13 Q202.16,113.13 202.16,110.99 C202.16,108.04 203.06,105.77 203.31,103.09 C203.44,101.09 203.82,99.75 205.36,99.75 Z" fill="url(#mg)"/>
<path d="M176.24,115.67 C177.78,115.67 178.16,117.01 178.29,119.02 C178.54,121.69 179.44,123.97 179.44,126.91 Q179.44,129.05 178.16,129.05 L174.32,129.05 Q173.04,129.05 173.04,126.91 C173.04,123.97 173.94,121.69 174.19,119.02 C174.32,117.01 174.70,115.67 176.24,115.67 Z" fill="url(#mg)"/>
<path d="M183.52,115.67 C185.06,115.67 185.44,117.01 185.57,119.02 C185.82,121.69 186.72,123.97 186.72,126.91 Q186.72,129.05 185.44,129.05 L181.60,129.05 Q180.32,129.05 180.32,126.91 C180.32,123.97 181.22,121.69 181.47,119.02 C181.60,117.01 181.98,115.67 183.52,115.67 Z" fill="url(#mg)"/>
<path d="M190.80,115.67 C192.34,115.67 192.72,117.01 192.85,119.02 C193.10,121.69 194.00,123.97 194.00,126.91 Q194.00,129.05 192.72,129.05 L188.88,129.05 Q187.60,129.05 187.60,126.91 C187.60,123.97 188.50,121.69 188.75,119.02 C188.88,117.01 189.26,115.67 190.80,115.67 Z" fill="url(#mg)"/>
<path d="M198.08,115.67 C199.62,115.67 200.00,117.01 200.13,119.02 C200.38,121.69 201.28,123.97 201.28,126.91 Q201.28,129.05 200.00,129.05 L196.16,129.05 Q194.88,129.05 194.88,126.91 C194.88,123.97 195.78,121.69 196.03,119.02 C196.16,117.01 196.54,115.67 198.08,115.67 Z" fill="url(#mg)"/>
<path d="M205.36,115.67 C206.90,115.67 207.28,117.01 207.41,119.02 C207.66,121.69 208.56,123.97 208.56,126.91 Q208.56,129.05 207.28,129.05 L203.44,129.05 Q202.16,129.05 202.16,126.91 C202.16,123.97 203.06,121.69 203.31,119.02 C203.44,117.01 203.82,115.67 205.36,115.67 Z" fill="url(#mg)"/>
<rect x="210.5" y="67.3" width="36.1" height="63.7" fill="#151515" />
<clipPath id="dc2"><rect x="210.50" y="67.30" width="36.10" height="63.70"/></clipPath>
<g clip-path="url(#dc2)">
<rect x="210.5" y="67.3" width="36.1" height="63.7" fill="#2e3a33" />
<path d="M102.2,67.3 L166.1,131.0 M102.2,67.3 L38.3,131.0 M138.3,67.3 L202.2,131.0 M138.3,67.3 L74.4,131.0 M174.4,67.3 L238.3,131.0 M174.4,67.3 L110.5,131.0 M210.5,67.3 L274.4,131.0 M210.5,67.3 L146.6,131.0 M246.6,67.3 L310.5,131.0 M246.6,67.3 L182.7,131.0 M282.7,67.3 L346.6,131.0 M282.7,67.3 L218.8,131.0 M318.8,67.3 L382.7,131.0 M318.8,67.3 L254.9,131.0 M354.9,67.3 L418.8,131.0 M354.9,67.3 L291.0,131.0" stroke="#74243a" stroke-width="5.00" fill="none" opacity="0.38"/>
<rect x="211.30" y="67.30" width="0.7" height="63.70" fill="#1c2420" opacity="0.45"/>
<rect x="213.60" y="67.30" width="0.7" height="63.70" fill="#1c2420" opacity="0.45"/>
<rect x="215.90" y="67.30" width="0.7" height="63.70" fill="#1c2420" opacity="0.45"/>
<rect x="218.20" y="67.30" width="0.7" height="63.70" fill="#1c2420" opacity="0.45"/>
<rect x="220.50" y="67.30" width="0.7" height="63.70" fill="#1c2420" opacity="0.45"/>
<rect x="222.80" y="67.30" width="0.7" height="63.70" fill="#1c2420" opacity="0.45"/>
<rect x="225.10" y="67.30" width="0.7" height="63.70" fill="#1c2420" opacity="0.45"/>
<rect x="227.40" y="67.30" width="0.7" height="63.70" fill="#1c2420" opacity="0.45"/>
<rect x="229.70" y="67.30" width="0.7" height="63.70" fill="#1c2420" opacity="0.45"/>
<rect x="232.00" y="67.30" width="0.7" height="63.70" fill="#1c2420" opacity="0.45"/>
<rect x="234.30" y="67.30" width="0.7" height="63.70" fill="#1c2420" opacity="0.45"/>
<rect x="236.60" y="67.30" width="0.7" height="63.70" fill="#1c2420" opacity="0.45"/>
<rect x="238.90" y="67.30" width="0.7" height="63.70" fill="#1c2420" opacity="0.45"/>
<rect x="241.20" y="67.30" width="0.7" height="63.70" fill="#1c2420" opacity="0.45"/>
<rect x="243.50" y="67.30" width="0.7" height="63.70" fill="#1c2420" opacity="0.45"/>
<rect x="245.80" y="67.30" width="0.7" height="63.70" fill="#1c2420" opacity="0.45"/>
</g>
<path d="M214.11,68.00 C215.60,68.00 215.97,69.25 216.09,71.12 C216.34,73.62 217.21,75.75 217.21,78.50 Q217.21,80.50 215.97,80.50 L212.25,80.50 Q211.01,80.50 211.01,78.50 C211.01,75.75 211.88,73.62 212.13,71.12 C212.25,69.25 212.62,68.00 214.11,68.00 Z" fill="#4030a8" opacity="0.95"/>
<ellipse cx="213.31" cy="70.50" rx="1.50" ry="1.60" fill="#50b8e0" opacity="0.85"/>
<ellipse cx="215.11" cy="73.00" rx="1.40" ry="1.40" fill="#8060d8" opacity="0.9"/>
<ellipse cx="214.11" cy="77.50" rx="1.80" ry="1.20" fill="#d05030" opacity="0.75"/>
<ellipse cx="215.31" cy="69.50" rx="1.00" ry="1.00" fill="#a0a0f0" opacity="0.7"/>
<path d="M221.33,68.00 C222.82,68.00 223.19,69.25 223.31,71.12 C223.56,73.62 224.43,75.75 224.43,78.50 Q224.43,80.50 223.19,80.50 L219.47,80.50 Q218.23,80.50 218.23,78.50 C218.23,75.75 219.10,73.62 219.35,71.12 C219.47,69.25 219.84,68.00 221.33,68.00 Z" fill="#4030a8" opacity="0.95"/>
<ellipse cx="220.53" cy="70.50" rx="1.50" ry="1.60" fill="#50b8e0" opacity="0.85"/>
<ellipse cx="222.33" cy="73.00" rx="1.40" ry="1.40" fill="#8060d8" opacity="0.9"/>
<ellipse cx="221.33" cy="77.50" rx="1.80" ry="1.20" fill="#d05030" opacity="0.75"/>
<ellipse cx="222.53" cy="69.50" rx="1.00" ry="1.00" fill="#a0a0f0" opacity="0.7"/>
<path d="M228.55,68.00 C230.04,68.00 230.41,69.25 230.53,71.12 C230.78,73.62 231.65,75.75 231.65,78.50 Q231.65,80.50 230.41,80.50 L226.69,80.50 Q225.45,80.50 225.45,78.50 C225.45,75.75 226.32,73.62 226.57,71.12 C226.69,69.25 227.06,68.00 228.55,68.00 Z" fill="#6a1a30" opacity="0.8"/>
<path d="M235.77,68.00 C237.26,68.00 237.63,69.25 237.75,71.12 C238.00,73.62 238.87,75.75 238.87,78.50 Q238.87,80.50 237.63,80.50 L233.91,80.50 Q232.67,80.50 232.67,78.50 C232.67,75.75 233.54,73.62 233.79,71.12 C233.91,69.25 234.28,68.00 235.77,68.00 Z" fill="#4030a8" opacity="0.95"/>
<ellipse cx="234.97" cy="70.50" rx="1.50" ry="1.60" fill="#50b8e0" opacity="0.85"/>
<ellipse cx="236.77" cy="73.00" rx="1.40" ry="1.40" fill="#8060d8" opacity="0.9"/>
<ellipse cx="235.77" cy="77.50" rx="1.80" ry="1.20" fill="#40a0c0" opacity="0.75"/>
<ellipse cx="236.97" cy="69.50" rx="1.00" ry="1.00" fill="#a0a0f0" opacity="0.7"/>
<path d="M242.99,68.00 C244.48,68.00 244.85,69.25 244.97,71.12 C245.22,73.62 246.09,75.75 246.09,78.50 Q246.09,80.50 244.85,80.50 L241.13,80.50 Q239.89,80.50 239.89,78.50 C239.89,75.75 240.76,73.62 241.01,71.12 C241.13,69.25 241.50,68.00 242.99,68.00 Z" fill="#4030a8" opacity="0.95"/>
<ellipse cx="242.19" cy="70.50" rx="1.50" ry="1.60" fill="#50b8e0" opacity="0.85"/>
<ellipse cx="243.99" cy="73.00" rx="1.40" ry="1.40" fill="#8060d8" opacity="0.9"/>
<ellipse cx="242.99" cy="77.50" rx="1.80" ry="1.20" fill="#40a0c0" opacity="0.75"/>
<ellipse cx="244.19" cy="69.50" rx="1.00" ry="1.00" fill="#a0a0f0" opacity="0.7"/>
<ellipse cx="216.50" cy="77.50" rx="1.00" ry="1.00" fill="#d0c040" opacity="0.7"/>
<ellipse cx="239.00" cy="72.00" rx="1.00" ry="1.00" fill="#e0e060" opacity="0.7"/>
</g>
<rect x="249.3" y="30.9" width="2.7" height="29.2" fill="url(#cb_rainbow)" />
<rect x="249.3" y="92" width="2.7" height="29.5" fill="url(#cb_rainbow)" />
<text x="252.6" y="33.0" font-size="3.2" fill="#555" >1.00</text>
<text x="252.6" y="61.5" font-size="3.2" fill="#555" >0.05</text>
<text x="259.5" y="46.0" font-size="3.0" fill="#555" text-anchor="middle" transform="rotate(90 259.5 46.0)" >Radiance</text>
<text x="254.5" y="46.0" font-size="2.6" fill="#999" text-anchor="middle" transform="rotate(90 254.5 46.0)" >(p/sec/cm²/sr)</text>
<text x="249" y="65.5" font-size="2.8" fill="#444" textLength="15" lengthAdjust="spacingAndGlyphs" >Min=1.00e5</text>
<text x="249" y="69.5" font-size="2.8" fill="#444" textLength="15" lengthAdjust="spacingAndGlyphs" >Max=1.00e6</text>
<text x="252.6" y="94.0" font-size="3.2" fill="#555" >1.00</text>
<text x="252.6" y="122.0" font-size="3.2" fill="#555" >0.05</text>
<text x="259.5" y="106.75" font-size="3.0" fill="#555" text-anchor="middle" transform="rotate(90 259.5 106.75)" >Radiance</text>
<text x="254.5" y="106.75" font-size="2.6" fill="#999" text-anchor="middle" transform="rotate(90 254.5 106.75)" >(p/sec/cm²/sr)</text>
<text x="249" y="126.0" font-size="2.8" fill="#444" textLength="15" lengthAdjust="spacingAndGlyphs" >Min=1.00e5</text>
<text x="249" y="130.0" font-size="2.8" fill="#444" textLength="15" lengthAdjust="spacingAndGlyphs" >Max=1.00e6</text>
<text x="275.8" y="16.3" font-size="11.5" fill="#111" stroke="#111" stroke-width="0.35" font-weight="bold" textLength="7.8" lengthAdjust="spacingAndGlyphs" >C</text>
<text x="295" y="25.5" font-size="7" fill="#d98c3e" stroke="#d98c3e" stroke-width="0.16" textLength="30" lengthAdjust="spacingAndGlyphs" >CD86-28z</text>
<text x="327.7" y="25.5" font-size="7" fill="#55b2e0" stroke="#55b2e0" stroke-width="0.16" textLength="28.5" lengthAdjust="spacingAndGlyphs" >CD30-28z</text>
<text x="360" y="25.5" font-size="7" fill="#444" stroke="#444" stroke-width="0.16" textLength="28" lengthAdjust="spacingAndGlyphs" >CD19-28z</text>
<line x1="303.0" y1="29.2" x2="303.0" y2="119.1" stroke="#222" stroke-width="1.4" />
<line x1="302.3" y1="118.4" x2="386.3" y2="118.4" stroke="#222" stroke-width="1.4" />
<line x1="299.8" y1="118.4" x2="303.0" y2="118.4" stroke="#222" stroke-width="1.1" />
<text x="297.9" y="120.7" font-size="6.3" fill="#2e2e2e" stroke="#2e2e2e" stroke-width="0.1" text-anchor="end" >10<tspan font-size="3.91" dy="-2.65">3</tspan></text>
<line x1="299.8" y1="101.02000000000001" x2="303.0" y2="101.02000000000001" stroke="#222" stroke-width="1.1" />
<text x="297.9" y="103.32000000000001" font-size="6.3" fill="#2e2e2e" stroke="#2e2e2e" stroke-width="0.1" text-anchor="end" >10<tspan font-size="3.91" dy="-2.65">4</tspan></text>
<line x1="299.8" y1="83.64000000000001" x2="303.0" y2="83.64000000000001" stroke="#222" stroke-width="1.1" />
<text x="297.9" y="85.94000000000001" font-size="6.3" fill="#2e2e2e" stroke="#2e2e2e" stroke-width="0.1" text-anchor="end" >10<tspan font-size="3.91" dy="-2.65">5</tspan></text>
<line x1="299.8" y1="66.26" x2="303.0" y2="66.26" stroke="#222" stroke-width="1.1" />
<text x="297.9" y="68.56" font-size="6.3" fill="#2e2e2e" stroke="#2e2e2e" stroke-width="0.1" text-anchor="end" >10<tspan font-size="3.91" dy="-2.65">6</tspan></text>
<line x1="299.8" y1="48.88000000000001" x2="303.0" y2="48.88000000000001" stroke="#222" stroke-width="1.1" />
<text x="297.9" y="51.18000000000001" font-size="6.3" fill="#2e2e2e" stroke="#2e2e2e" stroke-width="0.1" text-anchor="end" >10<tspan font-size="3.91" dy="-2.65">7</tspan></text>
<line x1="299.8" y1="31.500000000000014" x2="303.0" y2="31.500000000000014" stroke="#222" stroke-width="1.1" />
<text x="297.9" y="33.80000000000001" font-size="6.3" fill="#2e2e2e" stroke="#2e2e2e" stroke-width="0.1" text-anchor="end" >10<tspan font-size="3.91" dy="-2.65">8</tspan></text>
<line x1="310.1" y1="118.4" x2="310.1" y2="121.3" stroke="#222" stroke-width="1.1" />
<text x="310.1" y="130" font-size="6.8" fill="#2e2e2e" stroke="#2e2e2e" stroke-width="0.1" text-anchor="middle" >0</text>
<line x1="324.18" y1="118.4" x2="324.18" y2="121.3" stroke="#222" stroke-width="1.1" />
<text x="324.18" y="130" font-size="6.8" fill="#2e2e2e" stroke="#2e2e2e" stroke-width="0.1" text-anchor="middle" >2</text>
<line x1="338.26000000000005" y1="118.4" x2="338.26000000000005" y2="121.3" stroke="#222" stroke-width="1.1" />
<text x="338.26000000000005" y="130" font-size="6.8" fill="#2e2e2e" stroke="#2e2e2e" stroke-width="0.1" text-anchor="middle" >4</text>
<line x1="352.34000000000003" y1="118.4" x2="352.34000000000003" y2="121.3" stroke="#222" stroke-width="1.1" />
<text x="352.34000000000003" y="130" font-size="6.8" fill="#2e2e2e" stroke="#2e2e2e" stroke-width="0.1" text-anchor="middle" >6</text>
<line x1="366.42" y1="118.4" x2="366.42" y2="121.3" stroke="#222" stroke-width="1.1" />
<text x="366.42" y="130" font-size="6.8" fill="#2e2e2e" stroke="#2e2e2e" stroke-width="0.1" text-anchor="middle" >8</text>
<line x1="380.5" y1="118.4" x2="380.5" y2="121.3" stroke="#222" stroke-width="1.1" />
<text x="380.5" y="130" font-size="6.8" fill="#2e2e2e" stroke="#2e2e2e" stroke-width="0.1" text-anchor="middle" >10</text>
<text x="345.3" y="141.6" font-size="7.6" fill="#2e2e2e" stroke="#2e2e2e" stroke-width="0.16" text-anchor="middle" textLength="39.6" lengthAdjust="spacingAndGlyphs" >Weeks to ACT</text>
<text x="282.3" y="74.8" font-size="7.6" fill="#2e2e2e" stroke="#2e2e2e" stroke-width="0.16" text-anchor="middle" textLength="92" lengthAdjust="spacingAndGlyphs" transform="rotate(-90 282.3 74.8)" >Average radiance [p/sec/cm<tspan font-size="4.8" dy="-2.8">2</tspan><tspan dy="2.8">/sr]</tspan></text>
<polyline points="310.1,78.4 324.2,99.3 338.3,113.2 352.3,108.0 366.4,113.2 380.5,113.2" fill="none" stroke="#dd9448" stroke-width="0.7" stroke-linejoin="round" opacity="1"/>
<polyline points="310.1,85.4 324.2,99.3 338.3,99.3 352.3,97.5 366.4,79.3 380.5,76.7" fill="none" stroke="#dd9448" stroke-width="0.7" stroke-linejoin="round" opacity="1"/>
<polyline points="310.1,90.6 324.2,97.5 338.3,99.3 352.3,66.3 366.4,41.9" fill="none" stroke="#dd9448" stroke-width="0.7" stroke-linejoin="round" opacity="1"/>
<polyline points="310.1,88.9 324.2,94.1 338.3,95.8 352.3,52.4 366.4,45.4" fill="none" stroke="#dd9448" stroke-width="0.7" stroke-linejoin="round" opacity="1"/>
<polyline points="310.1,87.1 324.2,101.0 338.3,101.0 352.3,99.3 366.4,88.9 380.5,100.2" fill="none" stroke="#dd9448" stroke-width="0.7" stroke-linejoin="round" opacity="1"/>
<polyline points="310.1,90.6 324.2,99.3 338.3,111.4 352.3,109.7 366.4,94.1 380.5,99.3" fill="none" stroke="#dd9448" stroke-width="0.7" stroke-linejoin="round" opacity="1"/>
<polyline points="310.1,92.3 324.2,97.5 338.3,109.7 352.3,101.0 366.4,109.7 380.5,113.2" fill="none" stroke="#dd9448" stroke-width="0.7" stroke-linejoin="round" opacity="1"/>
<polyline points="310.1,83.6 324.2,95.8 338.3,94.1 352.3,88.9 366.4,48.9 380.5,40.2" fill="none" stroke="#dd9448" stroke-width="0.7" stroke-linejoin="round" opacity="1"/>
<polyline points="310.1,88.9 324.2,101.0 338.3,111.4 352.3,108.0 366.4,111.4 380.5,113.2" fill="none" stroke="#dd9448" stroke-width="0.7" stroke-linejoin="round" opacity="1"/>
<polyline points="310.1,87.1 324.2,81.9 338.3,40.2" fill="none" stroke="#4a505c" stroke-width="0.7" stroke-linejoin="round" opacity="1"/>
<polyline points="310.1,88.9 324.2,85.4 338.3,43.7" fill="none" stroke="#4a505c" stroke-width="0.7" stroke-linejoin="round" opacity="1"/>
<polyline points="310.1,85.4 324.2,76.7 338.3,47.1" fill="none" stroke="#4a505c" stroke-width="0.7" stroke-linejoin="round" opacity="1"/>
<polyline points="310.1,90.6 324.2,88.9 338.3,41.9" fill="none" stroke="#4a505c" stroke-width="0.7" stroke-linejoin="round" opacity="1"/>
<polyline points="310.1,87.1 324.2,83.6 338.3,50.6" fill="none" stroke="#4a505c" stroke-width="0.7" stroke-linejoin="round" opacity="1"/>
<polyline points="310.1,88.9 324.2,87.1 338.3,45.4" fill="none" stroke="#4a505c" stroke-width="0.7" stroke-linejoin="round" opacity="1"/>
<polyline points="310.1,88.9 324.2,94.1 338.3,55.8 352.3,45.4 366.4,45.4" fill="none" stroke="#52aede" stroke-width="0.7" stroke-linejoin="round" opacity="1"/>
<polyline points="310.1,90.6 324.2,95.8 338.3,109.7 352.3,111.4 366.4,111.4 380.5,109.7" fill="none" stroke="#52aede" stroke-width="0.7" stroke-linejoin="round" opacity="1"/>
<polyline points="310.1,87.1 324.2,92.3 338.3,50.6" fill="none" stroke="#52aede" stroke-width="0.7" stroke-linejoin="round" opacity="1"/>
<polyline points="310.1,90.6 324.2,94.1 338.3,68.0" fill="none" stroke="#52aede" stroke-width="0.7" stroke-linejoin="round" opacity="1"/>
<polyline points="310.1,88.9 324.2,97.5 338.3,80.2 352.3,111.4 366.4,109.7 380.5,109.7" fill="none" stroke="#52aede" stroke-width="0.7" stroke-linejoin="round" opacity="1"/>
<polyline points="310.1,92.3 324.2,99.3 338.3,109.7 352.3,109.7 366.4,111.4 380.5,111.4" fill="none" stroke="#52aede" stroke-width="0.7" stroke-linejoin="round" opacity="1"/>
<polyline points="310.1,90.6 324.2,95.8 338.3,108.0 352.3,111.4 366.4,109.7 380.5,109.7" fill="none" stroke="#52aede" stroke-width="0.7" stroke-linejoin="round" opacity="1"/>
<polyline points="310.1,85.4 324.2,92.3 338.3,48.9" fill="none" stroke="#52aede" stroke-width="0.7" stroke-linejoin="round" opacity="1"/>
<line x1="307.3" y1="30.2" x2="313.8" y2="30.2" stroke="#d98c3e" stroke-width="0.9" />
<line x1="307.3" y1="38.8" x2="313.8" y2="38.8" stroke="#55b2e0" stroke-width="0.9" />
<line x1="307.3" y1="47.0" x2="313.8" y2="47.0" stroke="#4a4d55" stroke-width="0.9" />
<line x1="316.5" y1="30.3" x2="316.5" y2="36.4" stroke="#444" stroke-width="0.6" />
<text x="319.2" y="33.4" font-size="5" fill="#333" stroke="#333" stroke-width="0.1" text-anchor="middle" transform="rotate(-90 319.2 33.4)" >ns</text>
<line x1="316.5" y1="40.2" x2="316.5" y2="46.5" stroke="#444" stroke-width="0.6" />
<circle cx="319.70" cy="41.00" r="0.75" fill="#222"/>
<circle cx="319.70" cy="43.47" r="0.75" fill="#222"/>
<circle cx="319.70" cy="45.93" r="0.75" fill="#222"/>
<circle cx="319.70" cy="48.40" r="0.75" fill="#222"/>
<line x1="323.3" y1="31.5" x2="323.3" y2="43.9" stroke="#444" stroke-width="0.6" />
<circle cx="326.50" cy="34.00" r="0.75" fill="#222"/>
<circle cx="326.50" cy="36.60" r="0.75" fill="#222"/>
<circle cx="326.50" cy="39.20" r="0.75" fill="#222"/>
<circle cx="326.50" cy="41.80" r="0.75" fill="#222"/>
<text x="398.8" y="15.9" font-size="11" fill="#111" stroke="#111" stroke-width="0.35" font-weight="bold" textLength="8.6" lengthAdjust="spacingAndGlyphs" >D</text>
<text x="419" y="25.5" font-size="7" fill="#d98c3e" stroke="#d98c3e" stroke-width="0.16" textLength="28.5" lengthAdjust="spacingAndGlyphs" >CD86-28z</text>
<text x="451" y="25.5" font-size="7" fill="#55b2e0" stroke="#55b2e0" stroke-width="0.16" textLength="28" lengthAdjust="spacingAndGlyphs" >CD30-28z</text>
<text x="484" y="25.5" font-size="7" fill="#444" stroke="#444" stroke-width="0.16" textLength="28" lengthAdjust="spacingAndGlyphs" >CD19-28z</text>
<line x1="427.0" y1="29.3" x2="427.0" y2="119.4" stroke="#222" stroke-width="1.4" />
<line x1="426.3" y1="118.7" x2="508.5" y2="118.7" stroke="#222" stroke-width="1.4" />
<line x1="423.9" y1="118.7" x2="427.0" y2="118.7" stroke="#222" stroke-width="1.1" />
<text x="421.6" y="121.10000000000001" font-size="7" fill="#2e2e2e" stroke="#2e2e2e" stroke-width="0.16" text-anchor="end" >0</text>
<line x1="423.9" y1="100.98" x2="427.0" y2="100.98" stroke="#222" stroke-width="1.1" />
<text x="421.6" y="103.38000000000001" font-size="7" fill="#2e2e2e" stroke="#2e2e2e" stroke-width="0.16" text-anchor="end" >20</text>
<line x1="423.9" y1="83.26" x2="427.0" y2="83.26" stroke="#222" stroke-width="1.1" />
<text x="421.6" y="85.66000000000001" font-size="7" fill="#2e2e2e" stroke="#2e2e2e" stroke-width="0.16" text-anchor="end" >40</text>
<line x1="423.9" y1="65.53999999999999" x2="427.0" y2="65.53999999999999" stroke="#222" stroke-width="1.1" />
<text x="421.6" y="67.94" font-size="7" fill="#2e2e2e" stroke="#2e2e2e" stroke-width="0.16" text-anchor="end" >60</text>
<line x1="423.9" y1="47.82000000000001" x2="427.0" y2="47.82000000000001" stroke="#222" stroke-width="1.1" />
<text x="421.6" y="50.220000000000006" font-size="7" fill="#2e2e2e" stroke="#2e2e2e" stroke-width="0.16" text-anchor="end" >80</text>
<line x1="423.9" y1="30.10000000000001" x2="427.0" y2="30.10000000000001" stroke="#222" stroke-width="1.1" />
<text x="421.6" y="32.50000000000001" font-size="7" fill="#2e2e2e" stroke="#2e2e2e" stroke-width="0.16" text-anchor="end" >100</text>
<line x1="427.0" y1="118.6" x2="427.0" y2="121.5" stroke="#222" stroke-width="1.1" />
<text x="427.0" y="130" font-size="6.8" fill="#2e2e2e" stroke="#2e2e2e" stroke-width="0.1" text-anchor="middle" >0</text>
<line x1="443.2" y1="118.6" x2="443.2" y2="121.5" stroke="#222" stroke-width="1.1" />
<text x="443.2" y="130" font-size="6.8" fill="#2e2e2e" stroke="#2e2e2e" stroke-width="0.1" text-anchor="middle" >20</text>
<line x1="459.4" y1="118.6" x2="459.4" y2="121.5" stroke="#222" stroke-width="1.1" />
<text x="459.4" y="130" font-size="6.8" fill="#2e2e2e" stroke="#2e2e2e" stroke-width="0.1" text-anchor="middle" >40</text>
<line x1="475.6" y1="118.6" x2="475.6" y2="121.5" stroke="#222" stroke-width="1.1" />
<text x="475.6" y="130" font-size="6.8" fill="#2e2e2e" stroke="#2e2e2e" stroke-width="0.1" text-anchor="middle" >60</text>
<line x1="491.8" y1="118.6" x2="491.8" y2="121.5" stroke="#222" stroke-width="1.1" />
<text x="491.8" y="130" font-size="6.8" fill="#2e2e2e" stroke="#2e2e2e" stroke-width="0.1" text-anchor="middle" >80</text>
<line x1="508.0" y1="118.6" x2="508.0" y2="121.5" stroke="#222" stroke-width="1.1" />
<text x="508.0" y="130" font-size="6.8" fill="#2e2e2e" stroke="#2e2e2e" stroke-width="0.1" text-anchor="middle" >100</text>
<text x="469.2" y="141.7" font-size="7.8" fill="#2e2e2e" stroke="#2e2e2e" stroke-width="0.16" text-anchor="middle" textLength="77" lengthAdjust="spacingAndGlyphs" >Days after tumor injection</text>
<text x="405.2" y="73" font-size="7.8" fill="#2e2e2e" stroke="#2e2e2e" stroke-width="0.16" text-anchor="middle" textLength="35.2" lengthAdjust="spacingAndGlyphs" transform="rotate(-90 405.2 73)" >Survival [%]</text>
<polyline points="427.0,30.1 442.7,30.1 442.7,30.1 442.7,30.1 442.7,42.5 445.6,42.5 445.6,83.3 448.4,83.3 448.4,107.2 450.9,107.2 450.9,112.5 454.7,112.5 454.7,118.7" fill="none" stroke="#61656e" stroke-width="0.85" stroke-linejoin="round" />
<polyline points="427.0,30.1 454.5,30.1 454.5,30.1 454.5,30.1 454.5,39.8 455.9,39.8 455.9,50.5 467.1,50.5 467.1,60.2 474.0,60.2 474.0,70.0 508.0,70.0 508.0,70.0" fill="none" stroke="#6bb8e0" stroke-width="0.85" stroke-linejoin="round" />
<polyline points="427.0,30.1 472.0,30.1 472.0,30.1 472.0,30.1 472.0,30.1 473.2,30.1 473.2,41.6 475.6,41.6 475.6,54.0 484.9,54.0 484.9,67.3 508.0,67.3 508.0,67.3" fill="none" stroke="#d89a52" stroke-width="0.85" stroke-linejoin="round" />
<line x1="489" y1="29.3" x2="495" y2="29.3" stroke="#e8a04a" stroke-width="0.9" />
<line x1="489" y1="38.8" x2="495" y2="38.8" stroke="#6bb8e0" stroke-width="0.9" />
<line x1="489" y1="46.0" x2="495" y2="46.0" stroke="#4a4d55" stroke-width="0.9" />
<line x1="498.4" y1="30.3" x2="498.4" y2="36.4" stroke="#444" stroke-width="0.6" />
<text x="501.1" y="33.4" font-size="5" fill="#333" stroke="#333" stroke-width="0.1" text-anchor="middle" transform="rotate(-90 501.1 33.4)" >ns</text>
<line x1="498.4" y1="40.2" x2="498.4" y2="46.5" stroke="#444" stroke-width="0.6" />
<circle cx="501.60" cy="41.00" r="0.75" fill="#222"/>
<circle cx="501.60" cy="43.47" r="0.75" fill="#222"/>
<circle cx="501.60" cy="45.93" r="0.75" fill="#222"/>
<circle cx="501.60" cy="48.40" r="0.75" fill="#222"/>
<line x1="505.2" y1="31.5" x2="505.2" y2="43.9" stroke="#444" stroke-width="0.6" />
<circle cx="508.40" cy="34.00" r="0.75" fill="#222"/>
<circle cx="508.40" cy="36.60" r="0.75" fill="#222"/>
<circle cx="508.40" cy="39.20" r="0.75" fill="#222"/>
<circle cx="508.40" cy="41.80" r="0.75" fill="#222"/>
<text x="9.8" y="160.4" font-size="11" fill="#111" stroke="#111" stroke-width="0.35" font-weight="bold" textLength="7.4" lengthAdjust="spacingAndGlyphs" >E</text>
<rect x="8" y="198" width="22" height="60" rx="4" fill="#efefef" filter="url(#sh)"/>
<text x="28" y="171.5" font-size="6.6" fill="#2e2e2e" stroke="#2e2e2e" stroke-width="0.1" textLength="21.9" lengthAdjust="spacingAndGlyphs" >Day -15</text>
<path d="M29,180 Q31,178.5 33,179.5 M31,183 Q35,186 40,185.5 Q44,186.5 46,184 M42,182 Q45,183.5 46.5,186 M33,184 L31.5,186 M41,186 L42,187.5" stroke="#d8c0c0" stroke-width="0.7" fill="none"/>
<path d="M44,181 L48.5,176.5" stroke="#d8c8c8" stroke-width="0.7" fill="none"/>
<circle cx="38.8" cy="180.3" r="2.6" fill="#f6f9fc" stroke="#a8b8cc" stroke-width="0.6"/>
<ellipse cx="38.60" cy="180.60" rx="0.90" ry="0.80" fill="#556070" opacity="1"/>
<text x="32.6" y="196.3" font-size="6.6" fill="#2e2e2e" stroke="#2e2e2e" stroke-width="0.1" textLength="15.8" lengthAdjust="spacingAndGlyphs" >Day 0</text>
<ellipse cx="23.75" cy="198.90" rx="1.00" ry="0.90" fill="#a86020" opacity="1"/>
<ellipse cx="25.05" cy="197.50" rx="0.70" ry="0.70" fill="#a86020" opacity="1"/>
<ellipse cx="24.75" cy="203.10" rx="2.80" ry="2.80" fill="#d98c3e" opacity="1"/>
<ellipse cx="22.05" cy="207.70" rx="2.90" ry="2.80" fill="#d98c3e" opacity="1"/>
<ellipse cx="27.45" cy="207.70" rx="2.90" ry="2.80" fill="#d98c3e" opacity="1"/>
<ellipse cx="24.75" cy="206.10" rx="2.40" ry="2.30" fill="#d98c3e" opacity="1"/>
<ellipse cx="24.15" cy="206.90" rx="1.80" ry="1.60" fill="#a86020" opacity="0.45"/>
<ellipse cx="25.95" cy="203.50" rx="1.20" ry="1.10" fill="#a86020" opacity="0.35"/>
<ellipse cx="22.25" cy="208.50" rx="1.20" ry="1.10" fill="#a86020" opacity="0.35"/>
<ellipse cx="27.65" cy="208.80" rx="1.20" ry="1.10" fill="#a86020" opacity="0.35"/>
<ellipse cx="22.95" cy="213.10" rx="1.50" ry="1.30" fill="#a86020" opacity="0.9"/>
<ellipse cx="27.75" cy="213.50" rx="1.40" ry="1.30" fill="#a86020" opacity="0.9"/>
<text x="31.7" y="210.6" font-size="7.2" fill="#d98c3e" stroke="#d98c3e" stroke-width="0.16" textLength="28.8" lengthAdjust="spacingAndGlyphs" >CD86-28z</text>
<ellipse cx="23.75" cy="219.70" rx="1.00" ry="0.90" fill="#2a7cb8" opacity="1"/>
<ellipse cx="25.05" cy="218.30" rx="0.70" ry="0.70" fill="#2a7cb8" opacity="1"/>
<ellipse cx="24.75" cy="223.90" rx="2.80" ry="2.80" fill="#5ab4e6" opacity="1"/>
<ellipse cx="22.05" cy="228.50" rx="2.90" ry="2.80" fill="#5ab4e6" opacity="1"/>
<ellipse cx="27.45" cy="228.50" rx="2.90" ry="2.80" fill="#5ab4e6" opacity="1"/>
<ellipse cx="24.75" cy="226.90" rx="2.40" ry="2.30" fill="#5ab4e6" opacity="1"/>
<ellipse cx="24.15" cy="227.70" rx="1.80" ry="1.60" fill="#2a7cb8" opacity="0.45"/>
<ellipse cx="25.95" cy="224.30" rx="1.20" ry="1.10" fill="#2a7cb8" opacity="0.35"/>
<ellipse cx="22.25" cy="229.30" rx="1.20" ry="1.10" fill="#2a7cb8" opacity="0.35"/>
<ellipse cx="27.65" cy="229.60" rx="1.20" ry="1.10" fill="#2a7cb8" opacity="0.35"/>
<ellipse cx="22.95" cy="233.90" rx="1.50" ry="1.30" fill="#2a7cb8" opacity="0.9"/>
<ellipse cx="27.75" cy="234.30" rx="1.40" ry="1.30" fill="#2a7cb8" opacity="0.9"/>
<text x="31.7" y="232.1" font-size="7.2" fill="#55b2e0" stroke="#55b2e0" stroke-width="0.16" textLength="28.8" lengthAdjust="spacingAndGlyphs" >CD30-28z</text>
<ellipse cx="23.75" cy="242.90" rx="1.00" ry="0.90" fill="#30343e" opacity="1"/>
<ellipse cx="25.05" cy="241.50" rx="0.70" ry="0.70" fill="#30343e" opacity="1"/>
<ellipse cx="24.75" cy="247.10" rx="2.80" ry="2.80" fill="#5a6070" opacity="1"/>
<ellipse cx="22.05" cy="251.70" rx="2.90" ry="2.80" fill="#5a6070" opacity="1"/>
<ellipse cx="27.45" cy="251.70" rx="2.90" ry="2.80" fill="#5a6070" opacity="1"/>
<ellipse cx="24.75" cy="250.10" rx="2.40" ry="2.30" fill="#5a6070" opacity="1"/>
<ellipse cx="24.15" cy="250.90" rx="1.80" ry="1.60" fill="#30343e" opacity="0.45"/>
<ellipse cx="25.95" cy="247.50" rx="1.20" ry="1.10" fill="#30343e" opacity="0.35"/>
<ellipse cx="22.25" cy="252.50" rx="1.20" ry="1.10" fill="#30343e" opacity="0.35"/>
<ellipse cx="27.65" cy="252.80" rx="1.20" ry="1.10" fill="#30343e" opacity="0.35"/>
<ellipse cx="22.95" cy="257.10" rx="1.50" ry="1.30" fill="#30343e" opacity="0.9"/>
<ellipse cx="27.75" cy="257.50" rx="1.40" ry="1.30" fill="#30343e" opacity="0.9"/>
<text x="31.7" y="252.9" font-size="7.2" fill="#444" stroke="#444" stroke-width="0.16" textLength="27.8" lengthAdjust="spacingAndGlyphs" >CD19-28z</text>
<line x1="64.3" y1="166.5" x2="64.3" y2="252.8" stroke="#6a6a6a" stroke-width="0.9" />
<path d="M62.699999999999996,252.20000000000002 L65.89999999999999,252.20000000000002 L64.3,254.8 Z" fill="#222"/>
<text x="71" y="170.9" font-size="6.6" fill="#2e2e2e" stroke="#2e2e2e" stroke-width="0.1" textLength="31.3" lengthAdjust="spacingAndGlyphs" >Tumor (i.v.)</text>
<text x="67.9" y="180.7" font-size="6.6" fill="#2e2e2e" stroke="#2e2e2e" stroke-width="0.1" >3.5 ×10<tspan font-size="4.2" dy="-2.8">6</tspan></text>
<text x="67.9" y="186.4" font-size="6.6" fill="#2e2e2e" stroke="#2e2e2e" stroke-width="0.1" textLength="18" lengthAdjust="spacingAndGlyphs" >L-428-</text>
<text x="67.9" y="193.2" font-size="6.6" fill="#2e2e2e" stroke="#2e2e2e" stroke-width="0.1" >CD30<tspan font-size="3.8" dy="-3">-/-</tspan></text>
<text x="70.1" y="202.8" font-size="6.6" fill="#2e2e2e" stroke="#2e2e2e" stroke-width="0.1" textLength="21.6" lengthAdjust="spacingAndGlyphs" >ACT i.v.</text>
<text x="67.9" y="228.2" font-size="6.6" fill="#2e2e2e" stroke="#2e2e2e" stroke-width="0.1" >5 ×10<tspan font-size="4.2" dy="-2.8">6</tspan></text>
<text x="67.9" y="234.8" font-size="6.6" fill="#2e2e2e" stroke="#2e2e2e" stroke-width="0.1" textLength="33.3" lengthAdjust="spacingAndGlyphs" >CAR T cells</text>
<text x="60.5" y="261.0" font-size="6.6" fill="#2e2e2e" stroke="#2e2e2e" stroke-width="0.1" textLength="8.3" lengthAdjust="spacingAndGlyphs" >BLI</text>
<text x="113.8" y="160.4" font-size="11" fill="#111" stroke="#111" stroke-width="0.35" font-weight="bold" textLength="6.6" lengthAdjust="spacingAndGlyphs" >F</text>
<text x="168" y="177.3" font-size="7.0" fill="#2e2e2e" stroke="#2e2e2e" stroke-width="0.16" textLength="34.7" lengthAdjust="spacingAndGlyphs" >L-428 CD30</text>
<text x="203" y="174.3" font-size="3.8" fill="#2e2e2e" >-/-</text>
<line x1="135" y1="180.2" x2="244.5" y2="180.2" stroke="#8a8a8a" stroke-width="1.1" />
<line x1="137" y1="185.6" x2="144.3" y2="185.6" stroke="#d98c3e" stroke-width="0.7" />
<text x="145.5" y="187.6" font-size="6.0" fill="#d98c3e" stroke="#d98c3e" stroke-width="0.1" textLength="24.199999999999978" lengthAdjust="spacingAndGlyphs" >CD86-28z</text>
<line x1="172.7" y1="185.6" x2="181.3" y2="185.6" stroke="#55b2e0" stroke-width="0.7" />
<text x="182.5" y="187.6" font-size="6.0" fill="#55b2e0" stroke="#55b2e0" stroke-width="0.1" textLength="24.899999999999995" lengthAdjust="spacingAndGlyphs" >CD30-28z</text>
<line x1="209.7" y1="185.6" x2="218.9" y2="185.6" stroke="#505050" stroke-width="0.7" />
<text x="220.1" y="187.6" font-size="6.0" fill="#505050" stroke="#505050" stroke-width="0.1" textLength="23.099999999999984" lengthAdjust="spacingAndGlyphs" >CD19-28z</text>
<text x="131.6" y="198.6" font-size="7" fill="#2e2e2e" stroke="#2e2e2e" stroke-width="0.16" text-anchor="middle" transform="rotate(-90 131.6 198.6)" >0</text>
<text x="131.6" y="215.3" font-size="7" fill="#2e2e2e" stroke="#2e2e2e" stroke-width="0.16" text-anchor="middle" transform="rotate(-90 131.6 215.3)" >2</text>
<text x="131.6" y="233.2" font-size="7" fill="#2e2e2e" stroke="#2e2e2e" stroke-width="0.16" text-anchor="middle" transform="rotate(-90 131.6 233.2)" >4</text>
<text x="131.6" y="249.3" font-size="7" fill="#2e2e2e" stroke="#2e2e2e" stroke-width="0.16" text-anchor="middle" transform="rotate(-90 131.6 249.3)" >6</text>
<text x="121.5" y="226.4" font-size="8.2" fill="#2e2e2e" stroke="#2e2e2e" stroke-width="0.16" text-anchor="middle" textLength="36" lengthAdjust="spacingAndGlyphs" transform="rotate(-90 121.5 226.4)" >Week to ACT</text>
<g filter="url(#bl)">
<rect x="134.4" y="190.8" width="35.400000000000006" height="15.199999999999989" fill="#151515" />
<path d="M137.94,191.10 C139.38,191.10 139.74,192.54 139.86,194.71 C140.10,197.60 140.94,200.05 140.94,203.23 Q140.94,205.54 139.74,205.54 L136.14,205.54 Q134.94,205.54 134.94,203.23 C134.94,200.05 135.78,197.60 136.02,194.71 C136.14,192.54 136.50,191.10 137.94,191.10 Z" fill="url(#mg)"/>
<ellipse cx="137.94" cy="197.60" rx="2.70" ry="5.05" fill="#4b1c9c" opacity="0.92"/>
<path d="M145.02,191.10 C146.46,191.10 146.82,192.54 146.94,194.71 C147.18,197.60 148.02,200.05 148.02,203.23 Q148.02,205.54 146.82,205.54 L143.22,205.54 Q142.02,205.54 142.02,203.23 C142.02,200.05 142.86,197.60 143.10,194.71 C143.22,192.54 143.58,191.10 145.02,191.10 Z" fill="url(#mg)"/>
<ellipse cx="145.02" cy="199.04" rx="2.10" ry="2.31" fill="#4b1c9c" opacity="0.9"/>
<path d="M152.10,191.10 C153.54,191.10 153.90,192.54 154.02,194.71 C154.26,197.60 155.10,200.05 155.10,203.23 Q155.10,205.54 153.90,205.54 L150.30,205.54 Q149.10,205.54 149.10,203.23 C149.10,200.05 149.94,197.60 150.18,194.71 C150.30,192.54 150.66,191.10 152.10,191.10 Z" fill="url(#mg)"/>
<ellipse cx="152.40" cy="196.15" rx="2.10" ry="4.33" fill="#4b1c9c" opacity="0.85"/>
<ellipse cx="152.10" cy="202.65" rx="2.10" ry="1.73" fill="#4b1c9c" opacity="0.9"/>
<path d="M159.18,191.10 C160.62,191.10 160.98,192.54 161.10,194.71 C161.34,197.60 162.18,200.05 162.18,203.23 Q162.18,205.54 160.98,205.54 L157.38,205.54 Q156.18,205.54 156.18,203.23 C156.18,200.05 157.02,197.60 157.26,194.71 C157.38,192.54 157.74,191.10 159.18,191.10 Z" fill="url(#mg)"/>
<ellipse cx="159.68" cy="196.15" rx="2.40" ry="3.61" fill="#4b1c9c" opacity="0.9"/>
<path d="M166.26,191.10 C167.70,191.10 168.06,192.54 168.18,194.71 C168.42,197.60 169.26,200.05 169.26,203.23 Q169.26,205.54 168.06,205.54 L164.46,205.54 Q163.26,205.54 163.26,203.23 C163.26,200.05 164.10,197.60 164.34,194.71 C164.46,192.54 164.82,191.10 166.26,191.10 Z" fill="url(#mgb)"/>
<rect x="134.4" y="209.6" width="35.400000000000006" height="48.00000000000003" fill="#151515" />
<path d="M137.94,210.10 C139.38,210.10 139.74,211.54 139.86,213.70 C140.10,216.58 140.94,219.03 140.94,222.20 Q140.94,224.50 139.74,224.50 L136.14,224.50 Q134.94,224.50 134.94,222.20 C134.94,219.03 135.78,216.58 136.02,213.70 C136.14,211.54 136.50,210.10 137.94,210.10 Z" fill="url(#mg)"/>
<ellipse cx="137.94" cy="220.90" rx="2.10" ry="1.73" fill="#4b1c9c" opacity="0.9"/>
<path d="M145.02,210.10 C146.46,210.10 146.82,211.54 146.94,213.70 C147.18,216.58 148.02,219.03 148.02,222.20 Q148.02,224.50 146.82,224.50 L143.22,224.50 Q142.02,224.50 142.02,222.20 C142.02,219.03 142.86,216.58 143.10,213.70 C143.22,211.54 143.58,210.10 145.02,210.10 Z" fill="url(#mg)"/>
<path d="M152.10,210.10 C153.54,210.10 153.90,211.54 154.02,213.70 C154.26,216.58 155.10,219.03 155.10,222.20 Q155.10,224.50 153.90,224.50 L150.30,224.50 Q149.10,224.50 149.10,222.20 C149.10,219.03 149.94,216.58 150.18,213.70 C150.30,211.54 150.66,210.10 152.10,210.10 Z" fill="url(#mg)"/>
<path d="M159.18,210.10 C160.62,210.10 160.98,211.54 161.10,213.70 C161.34,216.58 162.18,219.03 162.18,222.20 Q162.18,224.50 160.98,224.50 L157.38,224.50 Q156.18,224.50 156.18,222.20 C156.18,219.03 157.02,216.58 157.26,213.70 C157.38,211.54 157.74,210.10 159.18,210.10 Z" fill="url(#mg)"/>
<ellipse cx="159.68" cy="217.30" rx="1.50" ry="1.44" fill="#4b1c9c" opacity="0.9"/>
<path d="M166.26,210.10 C167.70,210.10 168.06,211.54 168.18,213.70 C168.42,216.58 169.26,219.03 169.26,222.20 Q169.26,224.50 168.06,224.50 L164.46,224.50 Q163.26,224.50 163.26,222.20 C163.26,219.03 164.10,216.58 164.34,213.70 C164.46,211.54 164.82,210.10 166.26,210.10 Z" fill="url(#mgb)"/>
<path d="M137.94,226.10 C139.38,226.10 139.74,227.54 139.86,229.70 C140.10,232.58 140.94,235.03 140.94,238.20 Q140.94,240.50 139.74,240.50 L136.14,240.50 Q134.94,240.50 134.94,238.20 C134.94,235.03 135.78,232.58 136.02,229.70 C136.14,227.54 136.50,226.10 137.94,226.10 Z" fill="url(#mg)"/>
<path d="M145.02,226.10 C146.46,226.10 146.82,227.54 146.94,229.70 C147.18,232.58 148.02,235.03 148.02,238.20 Q148.02,240.50 146.82,240.50 L143.22,240.50 Q142.02,240.50 142.02,238.20 C142.02,235.03 142.86,232.58 143.10,229.70 C143.22,227.54 143.58,226.10 145.02,226.10 Z" fill="url(#mg)"/>
<path d="M152.10,226.10 C153.54,226.10 153.90,227.54 154.02,229.70 C154.26,232.58 155.10,235.03 155.10,238.20 Q155.10,240.50 153.90,240.50 L150.30,240.50 Q149.10,240.50 149.10,238.20 C149.10,235.03 149.94,232.58 150.18,229.70 C150.30,227.54 150.66,226.10 152.10,226.10 Z" fill="url(#mg)"/>
<path d="M159.18,226.10 C160.62,226.10 160.98,227.54 161.10,229.70 C161.34,232.58 162.18,235.03 162.18,238.20 Q162.18,240.50 160.98,240.50 L157.38,240.50 Q156.18,240.50 156.18,238.20 C156.18,235.03 157.02,232.58 157.26,229.70 C157.38,227.54 157.74,226.10 159.18,226.10 Z" fill="url(#mg)"/>
<ellipse cx="159.58" cy="234.02" rx="2.28" ry="1.73" fill="#4b1c9c" opacity="0.9"/>
<path d="M166.26,226.10 C167.70,226.10 168.06,227.54 168.18,229.70 C168.42,232.58 169.26,235.03 169.26,238.20 Q169.26,240.50 168.06,240.50 L164.46,240.50 Q163.26,240.50 163.26,238.20 C163.26,235.03 164.10,232.58 164.34,229.70 C164.46,227.54 164.82,226.10 166.26,226.10 Z" fill="url(#mgb)"/>
<clipPath id="dc3"><rect x="134.70" y="241.60" width="6.48" height="16.00"/></clipPath>
<g clip-path="url(#dc3)">
<rect x="134.70000000000002" y="241.60000000000002" width="6.480000000000001" height="16.00000000000001" fill="#4a2a34" />
<path d="M115.3,241.6 L121.7,257.6 M115.3,241.6 L108.8,257.6 M121.7,241.6 L128.2,257.6 M121.7,241.6 L115.3,257.6 M128.2,241.6 L134.7,257.6 M128.2,241.6 L121.7,257.6 M134.7,241.6 L141.2,257.6 M134.7,241.6 L128.2,257.6 M141.2,241.6 L147.7,257.6 M141.2,241.6 L134.7,257.6 M147.7,241.6 L154.1,257.6 M147.7,241.6 L141.2,257.6 M154.1,241.6 L160.6,257.6 M154.1,241.6 L147.7,257.6 M160.6,241.6 L167.1,257.6 M160.6,241.6 L154.1,257.6" stroke="#74243a" stroke-width="2.00" fill="none" opacity="0.6"/>
<rect x="135.50" y="241.60" width="0.7" height="16.00" fill="#1c2420" opacity="0.45"/>
<rect x="137.80" y="241.60" width="0.7" height="16.00" fill="#1c2420" opacity="0.45"/>
<rect x="140.10" y="241.60" width="0.7" height="16.00" fill="#1c2420" opacity="0.45"/>
</g>
<path d="M145.02,242.10 C146.46,242.10 146.82,243.54 146.94,245.70 C147.18,248.58 148.02,251.03 148.02,254.20 Q148.02,256.50 146.82,256.50 L143.22,256.50 Q142.02,256.50 142.02,254.20 C142.02,251.03 142.86,248.58 143.10,245.70 C143.22,243.54 143.58,242.10 145.02,242.10 Z" fill="url(#mg)"/>
<path d="M145.02,242.10 C146.46,242.10 146.82,243.54 146.94,245.70 C147.18,248.58 148.02,251.03 148.02,254.20 Q148.02,256.50 146.82,256.50 L143.22,256.50 Q142.02,256.50 142.02,254.20 C142.02,251.03 142.86,248.58 143.10,245.70 C143.22,243.54 143.58,242.10 145.02,242.10 Z" fill="#a0c0b0" opacity="0.25"/>
<path d="M152.10,242.10 C153.54,242.10 153.90,243.54 154.02,245.70 C154.26,248.58 155.10,251.03 155.10,254.20 Q155.10,256.50 153.90,256.50 L150.30,256.50 Q149.10,256.50 149.10,254.20 C149.10,251.03 149.94,248.58 150.18,245.70 C150.30,243.54 150.66,242.10 152.10,242.10 Z" fill="url(#mg)"/>
<path d="M152.10,242.10 C153.54,242.10 153.90,243.54 154.02,245.70 C154.26,248.58 155.10,251.03 155.10,254.20 Q155.10,256.50 153.90,256.50 L150.30,256.50 Q149.10,256.50 149.10,254.20 C149.10,251.03 149.94,248.58 150.18,245.70 C150.30,243.54 150.66,242.10 152.10,242.10 Z" fill="#a0c0b0" opacity="0.25"/>
<clipPath id="dc4"><rect x="155.94" y="241.60" width="6.48" height="16.00"/></clipPath>
<g clip-path="url(#dc4)">
<rect x="155.94000000000003" y="241.60000000000002" width="6.480000000000001" height="16.00000000000001" fill="#4a2a34" />
<path d="M136.5,241.6 L143.0,257.6 M136.5,241.6 L130.0,257.6 M143.0,241.6 L149.5,257.6 M143.0,241.6 L136.5,257.6 M149.5,241.6 L155.9,257.6 M149.5,241.6 L143.0,257.6 M155.9,241.6 L162.4,257.6 M155.9,241.6 L149.5,257.6 M162.4,241.6 L168.9,257.6 M162.4,241.6 L155.9,257.6 M168.9,241.6 L175.4,257.6 M168.9,241.6 L162.4,257.6 M175.4,241.6 L181.9,257.6 M175.4,241.6 L168.9,257.6 M181.9,241.6 L188.3,257.6 M181.9,241.6 L175.4,257.6" stroke="#74243a" stroke-width="2.00" fill="none" opacity="0.6"/>
<rect x="156.74" y="241.60" width="0.7" height="16.00" fill="#1c2420" opacity="0.45"/>
<rect x="159.04" y="241.60" width="0.7" height="16.00" fill="#1c2420" opacity="0.45"/>
<rect x="161.34" y="241.60" width="0.7" height="16.00" fill="#1c2420" opacity="0.45"/>
</g>
<path d="M166.26,242.10 C167.70,242.10 168.06,243.54 168.18,245.70 C168.42,248.58 169.26,251.03 169.26,254.20 Q169.26,256.50 168.06,256.50 L164.46,256.50 Q163.26,256.50 163.26,254.20 C163.26,251.03 164.10,248.58 164.34,245.70 C164.46,243.54 164.82,242.10 166.26,242.10 Z" fill="url(#mgb)"/>
<rect x="171.8" y="190.8" width="35.79999999999998" height="15.199999999999989" fill="#151515" />
<path d="M175.38,191.10 C176.82,191.10 177.18,192.54 177.30,194.71 C177.54,197.60 178.38,200.05 178.38,203.23 Q178.38,205.54 177.18,205.54 L173.58,205.54 Q172.38,205.54 172.38,203.23 C172.38,200.05 173.22,197.60 173.46,194.71 C173.58,192.54 173.94,191.10 175.38,191.10 Z" fill="url(#mgb)"/>
<ellipse cx="175.38" cy="201.50" rx="2.40" ry="2.31" fill="#4b1c9c" opacity="0.9"/>
<path d="M182.54,191.10 C183.98,191.10 184.34,192.54 184.46,194.71 C184.70,197.60 185.54,200.05 185.54,203.23 Q185.54,205.54 184.34,205.54 L180.74,205.54 Q179.54,205.54 179.54,203.23 C179.54,200.05 180.38,197.60 180.62,194.71 C180.74,192.54 181.10,191.10 182.54,191.10 Z" fill="url(#mgb)"/>
<ellipse cx="182.54" cy="197.60" rx="2.70" ry="3.61" fill="#4b1c9c" opacity="0.9"/>
<ellipse cx="182.54" cy="193.27" rx="1.80" ry="1.44" fill="#4b1c9c" opacity="0.7"/>
<path d="M189.70,191.10 C191.14,191.10 191.50,192.54 191.62,194.71 C191.86,197.60 192.70,200.05 192.70,203.23 Q192.70,205.54 191.50,205.54 L187.90,205.54 Q186.70,205.54 186.70,203.23 C186.70,200.05 187.54,197.60 187.78,194.71 C187.90,192.54 188.26,191.10 189.70,191.10 Z" fill="url(#mgb)"/>
<ellipse cx="189.70" cy="196.15" rx="2.40" ry="2.89" fill="#4b1c9c" opacity="0.85"/>
<ellipse cx="189.70" cy="201.93" rx="1.80" ry="1.73" fill="#4b1c9c" opacity="0.8"/>
<path d="M196.86,191.10 C198.30,191.10 198.66,192.54 198.78,194.71 C199.02,197.60 199.86,200.05 199.86,203.23 Q199.86,205.54 198.66,205.54 L195.06,205.54 Q193.86,205.54 193.86,203.23 C193.86,200.05 194.70,197.60 194.94,194.71 C195.06,192.54 195.42,191.10 196.86,191.10 Z" fill="url(#mgb)"/>
<ellipse cx="196.86" cy="198.32" rx="1.20" ry="1.44" fill="#8070c0" opacity="0.6"/>
<path d="M204.02,191.10 C205.46,191.10 205.82,192.54 205.94,194.71 C206.18,197.60 207.02,200.05 207.02,203.23 Q207.02,205.54 205.82,205.54 L202.22,205.54 Q201.02,205.54 201.02,203.23 C201.02,200.05 201.86,197.60 202.10,194.71 C202.22,192.54 202.58,191.10 204.02,191.10 Z" fill="url(#mgb)"/>
<path d="M204.02,191.10 C205.46,191.10 205.82,192.54 205.94,194.71 C206.18,197.60 207.02,200.05 207.02,203.23 Q207.02,205.54 205.82,205.54 L202.22,205.54 Q201.02,205.54 201.02,203.23 C201.02,200.05 201.86,197.60 202.10,194.71 C202.22,192.54 202.58,191.10 204.02,191.10 Z" fill="url(#mg)"/>
<path d="M204.02,192.54 C205.39,192.54 205.73,193.77 205.84,195.61 C206.07,198.07 206.87,200.15 206.87,202.85 Q206.87,204.82 205.73,204.82 L202.31,204.82 Q201.17,204.82 201.17,202.85 C201.17,200.15 201.97,198.07 202.20,195.61 C202.31,193.77 202.65,192.54 204.02,192.54 Z" fill="#4b1c9c" opacity="0.92"/>
<ellipse cx="203.42" cy="196.15" rx="1.20" ry="1.73" fill="#c8b8e8" opacity="0.7"/>
<path d="M202.01999999999998,199.04200000000003 L204.01999999999998,201.93 L206.01999999999998,199.04200000000003" stroke="#f0f0f0" stroke-width="1.1" fill="none"/>
<rect x="171.8" y="209.6" width="35.8" height="32.0" fill="#2a1a70" />
<rect x="171.8" y="209.6" width="35.79999999999998" height="48.00000000000003" fill="#151515" />
<path d="M175.38,210.10 C176.89,210.10 177.27,211.54 177.40,213.70 C177.65,216.58 178.53,219.03 178.53,222.20 Q178.53,224.50 177.27,224.50 L173.49,224.50 Q172.23,224.50 172.23,222.20 C172.23,219.03 173.11,216.58 173.36,213.70 C173.49,211.54 173.87,210.10 175.38,210.10 Z" fill="#4a2cb0"/>
<ellipse cx="174.58" cy="214.42" rx="1.50" ry="2.16" fill="#d8d0f0" opacity="0.85"/>
<ellipse cx="175.88" cy="219.46" rx="1.50" ry="1.73" fill="#9080e0" opacity="0.8"/>
<ellipse cx="175.38" cy="220.90" rx="1.80" ry="2.16" fill="#e8e8f8" opacity="0.8"/>
<path d="M182.54,210.10 C184.05,210.10 184.43,211.54 184.56,213.70 C184.81,216.58 185.69,219.03 185.69,222.20 Q185.69,224.50 184.43,224.50 L180.65,224.50 Q179.39,224.50 179.39,222.20 C179.39,219.03 180.27,216.58 180.52,213.70 C180.65,211.54 181.03,210.10 182.54,210.10 Z" fill="#4a2cb0"/>
<ellipse cx="181.74" cy="214.42" rx="1.50" ry="2.16" fill="#d8d0f0" opacity="0.85"/>
<ellipse cx="183.04" cy="219.46" rx="1.50" ry="1.73" fill="#9080e0" opacity="0.8"/>
<path d="M189.70,210.10 C191.21,210.10 191.59,211.54 191.72,213.70 C191.97,216.58 192.85,219.03 192.85,222.20 Q192.85,224.50 191.59,224.50 L187.81,224.50 Q186.55,224.50 186.55,222.20 C186.55,219.03 187.43,216.58 187.68,213.70 C187.81,211.54 188.19,210.10 189.70,210.10 Z" fill="#4a2cb0"/>
<ellipse cx="188.90" cy="214.42" rx="1.50" ry="2.16" fill="#d8d0f0" opacity="0.85"/>
<ellipse cx="190.20" cy="219.46" rx="1.50" ry="1.73" fill="#9080e0" opacity="0.8"/>
<ellipse cx="189.70" cy="212.98" rx="1.80" ry="2.16" fill="#c0e060" opacity="0.85"/>
<path d="M196.86,210.10 C198.37,210.10 198.75,211.54 198.88,213.70 C199.13,216.58 200.01,219.03 200.01,222.20 Q200.01,224.50 198.75,224.50 L194.97,224.50 Q193.71,224.50 193.71,222.20 C193.71,219.03 194.59,216.58 194.84,213.70 C194.97,211.54 195.35,210.10 196.86,210.10 Z" fill="#4a2cb0"/>
<ellipse cx="196.06" cy="214.42" rx="1.50" ry="2.16" fill="#d8d0f0" opacity="0.85"/>
<ellipse cx="197.36" cy="219.46" rx="1.50" ry="1.73" fill="#9080e0" opacity="0.8"/>
<ellipse cx="196.86" cy="215.86" rx="1.21" ry="1.32" fill="#30a0d0" opacity="0.9"/>
<ellipse cx="196.86" cy="215.86" rx="0.94" ry="1.04" fill="#e0d040" opacity="0.95"/>
<ellipse cx="196.86" cy="215.86" rx="0.66" ry="0.72" fill="#e03020" opacity="1"/>
<path d="M204.02,210.10 C205.53,210.10 205.91,211.54 206.04,213.70 C206.29,216.58 207.17,219.03 207.17,222.20 Q207.17,224.50 205.91,224.50 L202.13,224.50 Q200.87,224.50 200.87,222.20 C200.87,219.03 201.75,216.58 202.00,213.70 C202.13,211.54 202.51,210.10 204.02,210.10 Z" fill="#4a2cb0"/>
<ellipse cx="203.22" cy="214.42" rx="1.50" ry="2.16" fill="#d8d0f0" opacity="0.85"/>
<ellipse cx="204.52" cy="219.46" rx="1.50" ry="1.73" fill="#9080e0" opacity="0.8"/>
<ellipse cx="204.02" cy="215.86" rx="1.21" ry="1.32" fill="#30a0d0" opacity="0.9"/>
<ellipse cx="204.02" cy="215.86" rx="0.94" ry="1.04" fill="#e0d040" opacity="0.95"/>
<ellipse cx="204.02" cy="215.86" rx="0.66" ry="0.72" fill="#e03020" opacity="1"/>
<path d="M175.38,226.10 C176.89,226.10 177.27,227.54 177.40,229.70 C177.65,232.58 178.53,235.03 178.53,238.20 Q178.53,240.50 177.27,240.50 L173.49,240.50 Q172.23,240.50 172.23,238.20 C172.23,235.03 173.11,232.58 173.36,229.70 C173.49,227.54 173.87,226.10 175.38,226.10 Z" fill="#3828a8"/>
<ellipse cx="175.38" cy="233.30" rx="1.80" ry="3.60" fill="#e0e0f8" opacity="0.85"/>
<ellipse cx="175.38" cy="237.62" rx="1.80" ry="1.44" fill="#40c0e0" opacity="0.8"/>
<path d="M182.54,226.10 C184.05,226.10 184.43,227.54 184.56,229.70 C184.81,232.58 185.69,235.03 185.69,238.20 Q185.69,240.50 184.43,240.50 L180.65,240.50 Q179.39,240.50 179.39,238.20 C179.39,235.03 180.27,232.58 180.52,229.70 C180.65,227.54 181.03,226.10 182.54,226.10 Z" fill="#3828a8"/>
<ellipse cx="182.54" cy="234.74" rx="3.00" ry="2.80" fill="#40b0d0" opacity="0.9"/>
<ellipse cx="182.54" cy="234.74" rx="2.60" ry="2.30" fill="#f0d040" opacity="0.95"/>
<ellipse cx="182.54" cy="234.45" rx="2.20" ry="1.90" fill="#f05020" opacity="1"/>
<ellipse cx="182.54" cy="234.16" rx="1.20" ry="1.10" fill="#e01818" opacity="1"/>
<path d="M189.70,226.10 C191.21,226.10 191.59,227.54 191.72,229.70 C191.97,232.58 192.85,235.03 192.85,238.20 Q192.85,240.50 191.59,240.50 L187.81,240.50 Q186.55,240.50 186.55,238.20 C186.55,235.03 187.43,232.58 187.68,229.70 C187.81,227.54 188.19,226.10 189.70,226.10 Z" fill="#3828a8"/>
<ellipse cx="189.70" cy="234.74" rx="3.00" ry="2.80" fill="#40b0d0" opacity="0.9"/>
<ellipse cx="189.70" cy="234.74" rx="2.60" ry="2.30" fill="#f0d040" opacity="0.95"/>
<ellipse cx="189.70" cy="234.45" rx="2.20" ry="1.90" fill="#f05020" opacity="1"/>
<ellipse cx="189.70" cy="234.16" rx="1.20" ry="1.10" fill="#e01818" opacity="1"/>
<path d="M196.86,226.10 C198.37,226.10 198.75,227.54 198.88,229.70 C199.13,232.58 200.01,235.03 200.01,238.20 Q200.01,240.50 198.75,240.50 L194.97,240.50 Q193.71,240.50 193.71,238.20 C193.71,235.03 194.59,232.58 194.84,229.70 C194.97,227.54 195.35,226.10 196.86,226.10 Z" fill="#3828a8"/>
<ellipse cx="196.86" cy="234.74" rx="3.00" ry="2.80" fill="#40b0d0" opacity="0.9"/>
<ellipse cx="196.86" cy="234.74" rx="2.60" ry="2.30" fill="#f0d040" opacity="0.95"/>
<ellipse cx="196.86" cy="234.45" rx="2.20" ry="1.90" fill="#f05020" opacity="1"/>
<ellipse cx="196.86" cy="234.16" rx="1.20" ry="1.10" fill="#e01818" opacity="1"/>
<path d="M204.02,226.10 C205.53,226.10 205.91,227.54 206.04,229.70 C206.29,232.58 207.17,235.03 207.17,238.20 Q207.17,240.50 205.91,240.50 L202.13,240.50 Q200.87,240.50 200.87,238.20 C200.87,235.03 201.75,232.58 202.00,229.70 C202.13,227.54 202.51,226.10 204.02,226.10 Z" fill="#3828a8"/>
<ellipse cx="204.02" cy="234.74" rx="3.00" ry="2.80" fill="#40b0d0" opacity="0.9"/>
<ellipse cx="204.02" cy="234.74" rx="2.60" ry="2.30" fill="#f0d040" opacity="0.95"/>
<ellipse cx="204.02" cy="234.45" rx="2.20" ry="1.90" fill="#f05020" opacity="1"/>
<ellipse cx="204.02" cy="234.16" rx="1.20" ry="1.10" fill="#e01818" opacity="1"/>
<clipPath id="dc5"><rect x="171.80" y="241.60" width="35.80" height="16.00"/></clipPath>
<g clip-path="url(#dc5)">
<rect x="171.8" y="241.6" width="35.8" height="16.0" fill="#2e3a33" />
<path d="M100.2,241.6 L118.1,257.6 M100.2,241.6 L82.3,257.6 M136.0,241.6 L153.9,257.6 M136.0,241.6 L118.1,257.6 M171.8,241.6 L189.7,257.6 M171.8,241.6 L153.9,257.6 M207.6,241.6 L225.5,257.6 M207.6,241.6 L189.7,257.6 M243.4,241.6 L261.3,257.6 M243.4,241.6 L225.5,257.6 M279.2,241.6 L297.1,257.6 M279.2,241.6 L261.3,257.6" stroke="#74243a" stroke-width="4.00" fill="none" opacity="0.38"/>
<rect x="172.60" y="241.60" width="0.7" height="16.00" fill="#1c2420" opacity="0.45"/>
<rect x="174.90" y="241.60" width="0.7" height="16.00" fill="#1c2420" opacity="0.45"/>
<rect x="177.20" y="241.60" width="0.7" height="16.00" fill="#1c2420" opacity="0.45"/>
<rect x="179.50" y="241.60" width="0.7" height="16.00" fill="#1c2420" opacity="0.45"/>
<rect x="181.80" y="241.60" width="0.7" height="16.00" fill="#1c2420" opacity="0.45"/>
<rect x="184.10" y="241.60" width="0.7" height="16.00" fill="#1c2420" opacity="0.45"/>
<rect x="186.40" y="241.60" width="0.7" height="16.00" fill="#1c2420" opacity="0.45"/>
<rect x="188.70" y="241.60" width="0.7" height="16.00" fill="#1c2420" opacity="0.45"/>
<rect x="191.00" y="241.60" width="0.7" height="16.00" fill="#1c2420" opacity="0.45"/>
<rect x="193.30" y="241.60" width="0.7" height="16.00" fill="#1c2420" opacity="0.45"/>
<rect x="195.60" y="241.60" width="0.7" height="16.00" fill="#1c2420" opacity="0.45"/>
<rect x="197.90" y="241.60" width="0.7" height="16.00" fill="#1c2420" opacity="0.45"/>
<rect x="200.20" y="241.60" width="0.7" height="16.00" fill="#1c2420" opacity="0.45"/>
<rect x="202.50" y="241.60" width="0.7" height="16.00" fill="#1c2420" opacity="0.45"/>
<rect x="204.80" y="241.60" width="0.7" height="16.00" fill="#1c2420" opacity="0.45"/>
<rect x="207.10" y="241.60" width="0.7" height="16.00" fill="#1c2420" opacity="0.45"/>
</g>
<rect x="209.2" y="190.8" width="36.20000000000002" height="15.199999999999989" fill="#151515" />
<path d="M212.82,191.10 C214.26,191.10 214.62,192.54 214.74,194.71 C214.98,197.60 215.82,200.05 215.82,203.23 Q215.82,205.54 214.62,205.54 L211.02,205.54 Q209.82,205.54 209.82,203.23 C209.82,200.05 210.66,197.60 210.90,194.71 C211.02,192.54 211.38,191.10 212.82,191.10 Z" fill="url(#mg)"/>
<path d="M212.82,192.54 C214.19,192.54 214.53,193.77 214.64,195.61 C214.87,198.07 215.67,200.15 215.67,202.85 Q215.67,204.82 214.53,204.82 L211.11,204.82 Q209.97,204.82 209.97,202.85 C209.97,200.15 210.77,198.07 211.00,195.61 C211.11,193.77 211.45,192.54 212.82,192.54 Z" fill="#4b1c9c" opacity="0.92"/>
<ellipse cx="212.22" cy="196.15" rx="1.20" ry="1.73" fill="#c8b8e8" opacity="0.7"/>
<ellipse cx="212.82" cy="201.21" rx="1.80" ry="2.17" fill="#c8c0e0" opacity="0.9"/>
<path d="M220.06,191.10 C221.50,191.10 221.86,192.54 221.98,194.71 C222.22,197.60 223.06,200.05 223.06,203.23 Q223.06,205.54 221.86,205.54 L218.26,205.54 Q217.06,205.54 217.06,203.23 C217.06,200.05 217.90,197.60 218.14,194.71 C218.26,192.54 218.62,191.10 220.06,191.10 Z" fill="url(#mg)"/>
<path d="M220.06,192.54 C221.43,192.54 221.77,193.77 221.88,195.61 C222.11,198.07 222.91,200.15 222.91,202.85 Q222.91,204.82 221.77,204.82 L218.35,204.82 Q217.21,204.82 217.21,202.85 C217.21,200.15 218.01,198.07 218.24,195.61 C218.35,193.77 218.69,192.54 220.06,192.54 Z" fill="#4b1c9c" opacity="0.92"/>
<ellipse cx="219.46" cy="196.15" rx="1.20" ry="1.73" fill="#c8b8e8" opacity="0.7"/>
<ellipse cx="220.06" cy="201.21" rx="1.80" ry="2.17" fill="#c8c0e0" opacity="0.9"/>
<path d="M227.30,191.10 C228.74,191.10 229.10,192.54 229.22,194.71 C229.46,197.60 230.30,200.05 230.30,203.23 Q230.30,205.54 229.10,205.54 L225.50,205.54 Q224.30,205.54 224.30,203.23 C224.30,200.05 225.14,197.60 225.38,194.71 C225.50,192.54 225.86,191.10 227.30,191.10 Z" fill="url(#mgb)"/>
<ellipse cx="227.30" cy="196.88" rx="2.10" ry="2.89" fill="#4b1c9c" opacity="0.85"/>
<path d="M234.54,191.10 C235.98,191.10 236.34,192.54 236.46,194.71 C236.70,197.60 237.54,200.05 237.54,203.23 Q237.54,205.54 236.34,205.54 L232.74,205.54 Q231.54,205.54 231.54,203.23 C231.54,200.05 232.38,197.60 232.62,194.71 C232.74,192.54 233.10,191.10 234.54,191.10 Z" fill="url(#mg)"/>
<path d="M234.54,192.54 C235.91,192.54 236.25,193.77 236.36,195.61 C236.59,198.07 237.39,200.15 237.39,202.85 Q237.39,204.82 236.25,204.82 L232.83,204.82 Q231.69,204.82 231.69,202.85 C231.69,200.15 232.49,198.07 232.72,195.61 C232.83,193.77 233.17,192.54 234.54,192.54 Z" fill="#4b1c9c" opacity="0.92"/>
<ellipse cx="233.94" cy="196.15" rx="1.20" ry="1.73" fill="#c8b8e8" opacity="0.7"/>
<ellipse cx="234.54" cy="197.60" rx="1.60" ry="1.80" fill="#60c8d8" opacity="0.9"/>
<path d="M241.78,191.10 C243.22,191.10 243.58,192.54 243.70,194.71 C243.94,197.60 244.78,200.05 244.78,203.23 Q244.78,205.54 243.58,205.54 L239.98,205.54 Q238.78,205.54 238.78,203.23 C238.78,200.05 239.62,197.60 239.86,194.71 C239.98,192.54 240.34,191.10 241.78,191.10 Z" fill="url(#mg)"/>
<path d="M241.78,192.54 C243.15,192.54 243.49,193.77 243.60,195.61 C243.83,198.07 244.63,200.15 244.63,202.85 Q244.63,204.82 243.49,204.82 L240.07,204.82 Q238.93,204.82 238.93,202.85 C238.93,200.15 239.73,198.07 239.96,195.61 C240.07,193.77 240.41,192.54 241.78,192.54 Z" fill="#4b1c9c" opacity="0.92"/>
<ellipse cx="241.18" cy="196.15" rx="1.20" ry="1.73" fill="#c8b8e8" opacity="0.7"/>
<path d="M239.78,199.04200000000003 L241.78,201.93 L243.78,199.04200000000003" stroke="#f0f0f0" stroke-width="1.1" fill="none"/>
<rect x="209.2" y="209.6" width="36.20000000000002" height="48.00000000000003" fill="#151515" />
<path d="M212.82,210.10 C214.26,210.10 214.62,211.54 214.74,213.70 C214.98,216.58 215.82,219.03 215.82,222.20 Q215.82,224.50 214.62,224.50 L211.02,224.50 Q209.82,224.50 209.82,222.20 C209.82,219.03 210.66,216.58 210.90,213.70 C211.02,211.54 211.38,210.10 212.82,210.10 Z" fill="url(#mgb)"/>
<ellipse cx="212.82" cy="218.74" rx="2.10" ry="2.88" fill="#7060c0" opacity="0.7"/>
<path d="M220.06,210.10 C221.50,210.10 221.86,211.54 221.98,213.70 C222.22,216.58 223.06,219.03 223.06,222.20 Q223.06,224.50 221.86,224.50 L218.26,224.50 Q217.06,224.50 217.06,222.20 C217.06,219.03 217.90,216.58 218.14,213.70 C218.26,211.54 218.62,210.10 220.06,210.10 Z" fill="url(#mg)"/>
<path d="M220.06,211.54 C221.43,211.54 221.77,212.76 221.88,214.60 C222.11,217.05 222.91,219.13 222.91,221.82 Q222.91,223.78 221.77,223.78 L218.35,223.78 Q217.21,223.78 217.21,221.82 C217.21,219.13 218.01,217.05 218.24,214.60 C218.35,212.76 218.69,211.54 220.06,211.54 Z" fill="#4b1c9c" opacity="0.92"/>
<ellipse cx="219.46" cy="215.14" rx="1.20" ry="1.73" fill="#c8b8e8" opacity="0.7"/>
<path d="M227.30,210.10 C228.74,210.10 229.10,211.54 229.22,213.70 C229.46,216.58 230.30,219.03 230.30,222.20 Q230.30,224.50 229.10,224.50 L225.50,224.50 Q224.30,224.50 224.30,222.20 C224.30,219.03 225.14,216.58 225.38,213.70 C225.50,211.54 225.86,210.10 227.30,210.10 Z" fill="url(#mgb)"/>
<ellipse cx="227.30" cy="218.74" rx="2.10" ry="2.88" fill="#7060c0" opacity="0.7"/>
<path d="M234.54,210.10 C235.98,210.10 236.34,211.54 236.46,213.70 C236.70,216.58 237.54,219.03 237.54,222.20 Q237.54,224.50 236.34,224.50 L232.74,224.50 Q231.54,224.50 231.54,222.20 C231.54,219.03 232.38,216.58 232.62,213.70 C232.74,211.54 233.10,210.10 234.54,210.10 Z" fill="url(#mg)"/>
<path d="M234.54,211.54 C235.91,211.54 236.25,212.76 236.36,214.60 C236.59,217.05 237.39,219.13 237.39,221.82 Q237.39,223.78 236.25,223.78 L232.83,223.78 Q231.69,223.78 231.69,221.82 C231.69,219.13 232.49,217.05 232.72,214.60 C232.83,212.76 233.17,211.54 234.54,211.54 Z" fill="#4b1c9c" opacity="0.92"/>
<ellipse cx="233.94" cy="215.14" rx="1.20" ry="1.73" fill="#c8b8e8" opacity="0.7"/>
<ellipse cx="234.54" cy="215.14" rx="2.60" ry="1.60" fill="#40c0d0" opacity="0.9"/>
<ellipse cx="234.54" cy="216.15" rx="2.20" ry="1.00" fill="#f04020" opacity="0.95"/>
<path d="M241.78,210.10 C243.22,210.10 243.58,211.54 243.70,213.70 C243.94,216.58 244.78,219.03 244.78,222.20 Q244.78,224.50 243.58,224.50 L239.98,224.50 Q238.78,224.50 238.78,222.20 C238.78,219.03 239.62,216.58 239.86,213.70 C239.98,211.54 240.34,210.10 241.78,210.10 Z" fill="url(#mg)"/>
<path d="M241.78,211.54 C243.15,211.54 243.49,212.76 243.60,214.60 C243.83,217.05 244.63,219.13 244.63,221.82 Q244.63,223.78 243.49,223.78 L240.07,223.78 Q238.93,223.78 238.93,221.82 C238.93,219.13 239.73,217.05 239.96,214.60 C240.07,212.76 240.41,211.54 241.78,211.54 Z" fill="#4b1c9c" opacity="0.92"/>
<ellipse cx="241.18" cy="215.14" rx="1.20" ry="1.73" fill="#c8b8e8" opacity="0.7"/>
<path d="M239.78,218.02 L241.78,220.9 L243.78,218.02" stroke="#f0f0f0" stroke-width="1.1" fill="none"/>
<path d="M212.82,226.10 C214.26,226.10 214.62,227.54 214.74,229.70 C214.98,232.58 215.82,235.03 215.82,238.20 Q215.82,240.50 214.62,240.50 L211.02,240.50 Q209.82,240.50 209.82,238.20 C209.82,235.03 210.66,232.58 210.90,229.70 C211.02,227.54 211.38,226.10 212.82,226.10 Z" fill="url(#mg)"/>
<path d="M212.82,227.54 C214.19,227.54 214.53,228.76 214.64,230.60 C214.87,233.05 215.67,235.13 215.67,237.82 Q215.67,239.78 214.53,239.78 L211.11,239.78 Q209.97,239.78 209.97,237.82 C209.97,235.13 210.77,233.05 211.00,230.60 C211.11,228.76 211.45,227.54 212.82,227.54 Z" fill="#4b1c9c" opacity="0.92"/>
<ellipse cx="212.22" cy="231.14" rx="1.20" ry="1.73" fill="#c8b8e8" opacity="0.7"/>
<ellipse cx="212.82" cy="234.02" rx="1.43" ry="1.56" fill="#30a0d0" opacity="0.9"/>
<ellipse cx="212.82" cy="234.02" rx="1.10" ry="1.23" fill="#e0d040" opacity="0.95"/>
<ellipse cx="212.82" cy="234.02" rx="0.78" ry="0.85" fill="#e03020" opacity="1"/>
<clipPath id="dc6"><rect x="216.74" y="225.60" width="6.64" height="16.00"/></clipPath>
<g clip-path="url(#dc6)">
<rect x="216.74" y="225.6" width="6.640000000000004" height="16.00000000000001" fill="#3e3036" />
<path d="M196.8,225.6 L203.5,241.6 M196.8,225.6 L190.2,241.6 M203.5,225.6 L210.1,241.6 M203.5,225.6 L196.8,241.6 M210.1,225.6 L216.7,241.6 M210.1,225.6 L203.5,241.6 M216.7,225.6 L223.4,241.6 M216.7,225.6 L210.1,241.6 M223.4,225.6 L230.0,241.6 M223.4,225.6 L216.7,241.6 M230.0,225.6 L236.7,241.6 M230.0,225.6 L223.4,241.6 M236.7,225.6 L243.3,241.6 M236.7,225.6 L230.0,241.6 M243.3,225.6 L249.9,241.6 M243.3,225.6 L236.7,241.6" stroke="#74243a" stroke-width="2.00" fill="none" opacity="0.6"/>
<rect x="217.54" y="225.60" width="0.7" height="16.00" fill="#1c2420" opacity="0.45"/>
<rect x="219.84" y="225.60" width="0.7" height="16.00" fill="#1c2420" opacity="0.45"/>
<rect x="222.14" y="225.60" width="0.7" height="16.00" fill="#1c2420" opacity="0.45"/>
</g>
<path d="M227.30,226.10 C228.74,226.10 229.10,227.54 229.22,229.70 C229.46,232.58 230.30,235.03 230.30,238.20 Q230.30,240.50 229.10,240.50 L225.50,240.50 Q224.30,240.50 224.30,238.20 C224.30,235.03 225.14,232.58 225.38,229.70 C225.50,227.54 225.86,226.10 227.30,226.10 Z" fill="url(#mg)"/>
<path d="M227.30,227.54 C228.67,227.54 229.01,228.76 229.12,230.60 C229.35,233.05 230.15,235.13 230.15,237.82 Q230.15,239.78 229.01,239.78 L225.59,239.78 Q224.45,239.78 224.45,237.82 C224.45,235.13 225.25,233.05 225.48,230.60 C225.59,228.76 225.93,227.54 227.30,227.54 Z" fill="#4b1c9c" opacity="0.92"/>
<ellipse cx="226.70" cy="231.14" rx="1.20" ry="1.73" fill="#c8b8e8" opacity="0.7"/>
<ellipse cx="227.30" cy="234.02" rx="1.87" ry="2.04" fill="#30a0d0" opacity="0.9"/>
<ellipse cx="227.30" cy="234.02" rx="1.44" ry="1.61" fill="#e0d040" opacity="0.95"/>
<ellipse cx="227.30" cy="234.02" rx="1.02" ry="1.10" fill="#e03020" opacity="1"/>
<path d="M234.54,226.10 C235.98,226.10 236.34,227.54 236.46,229.70 C236.70,232.58 237.54,235.03 237.54,238.20 Q237.54,240.50 236.34,240.50 L232.74,240.50 Q231.54,240.50 231.54,238.20 C231.54,235.03 232.38,232.58 232.62,229.70 C232.74,227.54 233.10,226.10 234.54,226.10 Z" fill="url(#mg)"/>
<path d="M234.54,227.54 C235.91,227.54 236.25,228.76 236.36,230.60 C236.59,233.05 237.39,235.13 237.39,237.82 Q237.39,239.78 236.25,239.78 L232.83,239.78 Q231.69,239.78 231.69,237.82 C231.69,235.13 232.49,233.05 232.72,230.60 C232.83,228.76 233.17,227.54 234.54,227.54 Z" fill="#4b1c9c" opacity="0.92"/>
<ellipse cx="233.94" cy="231.14" rx="1.20" ry="1.73" fill="#c8b8e8" opacity="0.7"/>
<ellipse cx="234.54" cy="234.02" rx="1.87" ry="2.04" fill="#30a0d0" opacity="0.9"/>
<ellipse cx="234.54" cy="234.02" rx="1.44" ry="1.61" fill="#e0d040" opacity="0.95"/>
<ellipse cx="234.54" cy="234.02" rx="1.02" ry="1.10" fill="#e03020" opacity="1"/>
<clipPath id="dc7"><rect x="238.46" y="225.60" width="6.64" height="16.00"/></clipPath>
<g clip-path="url(#dc7)">
<rect x="238.46" y="225.6" width="6.640000000000004" height="16.00000000000001" fill="#3e3036" />
<path d="M218.5,225.6 L225.2,241.6 M218.5,225.6 L211.9,241.6 M225.2,225.6 L231.8,241.6 M225.2,225.6 L218.5,241.6 M231.8,225.6 L238.5,241.6 M231.8,225.6 L225.2,241.6 M238.5,225.6 L245.1,241.6 M238.5,225.6 L231.8,241.6 M245.1,225.6 L251.7,241.6 M245.1,225.6 L238.5,241.6 M251.7,225.6 L258.4,241.6 M251.7,225.6 L245.1,241.6 M258.4,225.6 L265.0,241.6 M258.4,225.6 L251.7,241.6 M265.0,225.6 L271.7,241.6 M265.0,225.6 L258.4,241.6" stroke="#74243a" stroke-width="2.00" fill="none" opacity="0.6"/>
<rect x="239.26" y="225.60" width="0.7" height="16.00" fill="#1c2420" opacity="0.45"/>
<rect x="241.56" y="225.60" width="0.7" height="16.00" fill="#1c2420" opacity="0.45"/>
<rect x="243.86" y="225.60" width="0.7" height="16.00" fill="#1c2420" opacity="0.45"/>
</g>
<clipPath id="dc8"><rect x="209.20" y="241.60" width="36.20" height="16.00"/></clipPath>
<g clip-path="url(#dc8)">
<rect x="209.2" y="241.6" width="36.2" height="16.0" fill="#2e3a33" />
<path d="M136.8,241.6 L154.9,257.6 M136.8,241.6 L118.7,257.6 M173.0,241.6 L191.1,257.6 M173.0,241.6 L154.9,257.6 M209.2,241.6 L227.3,257.6 M209.2,241.6 L191.1,257.6 M245.4,241.6 L263.5,257.6 M245.4,241.6 L227.3,257.6 M281.6,241.6 L299.7,257.6 M281.6,241.6 L263.5,257.6 M317.8,241.6 L335.9,257.6 M317.8,241.6 L299.7,257.6" stroke="#74243a" stroke-width="4.00" fill="none" opacity="0.38"/>
<rect x="210.00" y="241.60" width="0.7" height="16.00" fill="#1c2420" opacity="0.45"/>
<rect x="212.30" y="241.60" width="0.7" height="16.00" fill="#1c2420" opacity="0.45"/>
<rect x="214.60" y="241.60" width="0.7" height="16.00" fill="#1c2420" opacity="0.45"/>
<rect x="216.90" y="241.60" width="0.7" height="16.00" fill="#1c2420" opacity="0.45"/>
<rect x="219.20" y="241.60" width="0.7" height="16.00" fill="#1c2420" opacity="0.45"/>
<rect x="221.50" y="241.60" width="0.7" height="16.00" fill="#1c2420" opacity="0.45"/>
<rect x="223.80" y="241.60" width="0.7" height="16.00" fill="#1c2420" opacity="0.45"/>
<rect x="226.10" y="241.60" width="0.7" height="16.00" fill="#1c2420" opacity="0.45"/>
<rect x="228.40" y="241.60" width="0.7" height="16.00" fill="#1c2420" opacity="0.45"/>
<rect x="230.70" y="241.60" width="0.7" height="16.00" fill="#1c2420" opacity="0.45"/>
<rect x="233.00" y="241.60" width="0.7" height="16.00" fill="#1c2420" opacity="0.45"/>
<rect x="235.30" y="241.60" width="0.7" height="16.00" fill="#1c2420" opacity="0.45"/>
<rect x="237.60" y="241.60" width="0.7" height="16.00" fill="#1c2420" opacity="0.45"/>
<rect x="239.90" y="241.60" width="0.7" height="16.00" fill="#1c2420" opacity="0.45"/>
<rect x="242.20" y="241.60" width="0.7" height="16.00" fill="#1c2420" opacity="0.45"/>
<rect x="244.50" y="241.60" width="0.7" height="16.00" fill="#1c2420" opacity="0.45"/>
</g>
</g>
<rect x="249.3" y="182.7" width="2.6" height="27.3" fill="url(#cb_rainbow)" />
<rect x="249.3" y="221.5" width="2.6" height="30.1" fill="url(#cb_rainbow)" />
<text x="252.6" y="184.7" font-size="3.2" fill="#555" >1.00</text>
<text x="252.6" y="210.5" font-size="3.2" fill="#555" >0.05</text>
<text x="259.5" y="196.35" font-size="3.0" fill="#555" text-anchor="middle" transform="rotate(90 259.5 196.35)" >Radiance</text>
<text x="254.5" y="196.35" font-size="2.6" fill="#999" text-anchor="middle" transform="rotate(90 254.5 196.35)" >(p/sec/cm²/sr)</text>
<text x="249" y="214.5" font-size="2.8" fill="#444" textLength="15" lengthAdjust="spacingAndGlyphs" >Min=1.00e5</text>
<text x="249" y="218.5" font-size="2.8" fill="#444" textLength="15" lengthAdjust="spacingAndGlyphs" >Max=1.00e7</text>
<text x="252.6" y="223.5" font-size="3.2" fill="#555" >1.00</text>
<text x="252.6" y="252.1" font-size="3.2" fill="#555" >0.05</text>
<text x="259.5" y="236.55" font-size="3.0" fill="#555" text-anchor="middle" transform="rotate(90 259.5 236.55)" >Radiance</text>
<text x="254.5" y="236.55" font-size="2.6" fill="#999" text-anchor="middle" transform="rotate(90 254.5 236.55)" >(p/sec/cm²/sr)</text>
<text x="249" y="256.1" font-size="2.8" fill="#444" textLength="15" lengthAdjust="spacingAndGlyphs" >Min=1.00e5</text>
<text x="249" y="260.1" font-size="2.8" fill="#444" textLength="15" lengthAdjust="spacingAndGlyphs" >Max=1.00e7</text>
<text x="275.9" y="160.6" font-size="11.5" fill="#111" stroke="#111" stroke-width="0.35" font-weight="bold" textLength="8.4" lengthAdjust="spacingAndGlyphs" >G</text>
<text x="296" y="175.2" font-size="7" fill="#d98c3e" stroke="#d98c3e" stroke-width="0.16" textLength="27" lengthAdjust="spacingAndGlyphs" >CD86-28z</text>
<text x="327" y="175.2" font-size="7" fill="#55b2e0" stroke="#55b2e0" stroke-width="0.16" textLength="28.6" lengthAdjust="spacingAndGlyphs" >CD30-28z</text>
<text x="359.6" y="175.2" font-size="7" fill="#444" stroke="#444" stroke-width="0.16" textLength="29.4" lengthAdjust="spacingAndGlyphs" >CD19-28z</text>
<line x1="303.1" y1="177.8" x2="303.1" y2="267.1" stroke="#222" stroke-width="1.4" />
<line x1="302.4" y1="266.4" x2="386.3" y2="266.4" stroke="#222" stroke-width="1.4" />
<line x1="299.9" y1="266.4" x2="303.1" y2="266.4" stroke="#222" stroke-width="1.1" />
<text x="297.9" y="268.7" font-size="6.3" fill="#2e2e2e" stroke="#2e2e2e" stroke-width="0.1" text-anchor="end" >10<tspan font-size="3.91" dy="-2.65">4</tspan></text>
<line x1="299.9" y1="248.84999999999997" x2="303.1" y2="248.84999999999997" stroke="#222" stroke-width="1.1" />
<text x="297.9" y="251.14999999999998" font-size="6.3" fill="#2e2e2e" stroke="#2e2e2e" stroke-width="0.1" text-anchor="end" >10<tspan font-size="3.91" dy="-2.65">5</tspan></text>
<line x1="299.9" y1="231.29999999999998" x2="303.1" y2="231.29999999999998" stroke="#222" stroke-width="1.1" />
<text x="297.9" y="233.6" font-size="6.3" fill="#2e2e2e" stroke="#2e2e2e" stroke-width="0.1" text-anchor="end" >10<tspan font-size="3.91" dy="-2.65">6</tspan></text>
<line x1="299.9" y1="213.74999999999997" x2="303.1" y2="213.74999999999997" stroke="#222" stroke-width="1.1" />
<text x="297.9" y="216.04999999999998" font-size="6.3" fill="#2e2e2e" stroke="#2e2e2e" stroke-width="0.1" text-anchor="end" >10<tspan font-size="3.91" dy="-2.65">7</tspan></text>
<line x1="299.9" y1="196.2" x2="303.1" y2="196.2" stroke="#222" stroke-width="1.1" />
<text x="297.9" y="198.5" font-size="6.3" fill="#2e2e2e" stroke="#2e2e2e" stroke-width="0.1" text-anchor="end" >10<tspan font-size="3.91" dy="-2.65">8</tspan></text>
<line x1="299.9" y1="178.64999999999998" x2="303.1" y2="178.64999999999998" stroke="#222" stroke-width="1.1" />
<text x="297.9" y="180.95" font-size="6.3" fill="#2e2e2e" stroke="#2e2e2e" stroke-width="0.1" text-anchor="end" >10<tspan font-size="3.91" dy="-2.65">9</tspan></text>
<line x1="313.7" y1="266.4" x2="313.7" y2="269.3" stroke="#222" stroke-width="1.1" />
<text x="313.7" y="279.3" font-size="6.8" fill="#2e2e2e" stroke="#2e2e2e" stroke-width="0.1" text-anchor="middle" >0</text>
<line x1="334.7" y1="266.4" x2="334.7" y2="269.3" stroke="#222" stroke-width="1.1" />
<text x="334.7" y="279.3" font-size="6.8" fill="#2e2e2e" stroke="#2e2e2e" stroke-width="0.1" text-anchor="middle" >2</text>
<line x1="355.7" y1="266.4" x2="355.7" y2="269.3" stroke="#222" stroke-width="1.1" />
<text x="355.7" y="279.3" font-size="6.8" fill="#2e2e2e" stroke="#2e2e2e" stroke-width="0.1" text-anchor="middle" >4</text>
<line x1="376.7" y1="266.4" x2="376.7" y2="269.3" stroke="#222" stroke-width="1.1" />
<text x="376.7" y="279.3" font-size="6.8" fill="#2e2e2e" stroke="#2e2e2e" stroke-width="0.1" text-anchor="middle" >6</text>
<text x="345.3" y="290.3" font-size="7.6" fill="#2e2e2e" stroke="#2e2e2e" stroke-width="0.16" text-anchor="middle" textLength="39.6" lengthAdjust="spacingAndGlyphs" >Weeks to ACT</text>
<text x="282.5" y="223.5" font-size="7.6" fill="#2e2e2e" stroke="#2e2e2e" stroke-width="0.16" text-anchor="middle" textLength="93" lengthAdjust="spacingAndGlyphs" transform="rotate(-90 282.5 223.5)" >Average radiance [p/sec/cm<tspan font-size="4.8" dy="-2.8">2</tspan><tspan dy="2.8">/sr]</tspan></text>
<polyline points="313.7,248.8 334.7,240.1 355.7,257.6" fill="none" stroke="#dd9448" stroke-width="0.7" stroke-linejoin="round" opacity="1"/>
<polyline points="313.7,247.1 334.7,245.3 355.7,236.6 376.7,261.1" fill="none" stroke="#dd9448" stroke-width="0.7" stroke-linejoin="round" opacity="1"/>
<polyline points="313.7,254.1 334.7,259.4 355.7,257.6 376.7,255.9" fill="none" stroke="#dd9448" stroke-width="0.7" stroke-linejoin="round" opacity="1"/>
<polyline points="313.7,257.6 334.7,264.6 355.7,262.9" fill="none" stroke="#dd9448" stroke-width="0.7" stroke-linejoin="round" opacity="1"/>
<polyline points="313.7,255.9 334.7,261.1 355.7,259.4" fill="none" stroke="#dd9448" stroke-width="0.7" stroke-linejoin="round" opacity="1"/>
<polyline points="313.7,250.6 334.7,241.8 355.7,248.8 376.7,262.9" fill="none" stroke="#dd9448" stroke-width="0.7" stroke-linejoin="round" opacity="1"/>
<polyline points="313.7,243.6 334.7,205.0 355.7,203.2" fill="none" stroke="#4aa8d8" stroke-width="0.7" stroke-linejoin="round" opacity="1"/>
<polyline points="313.7,245.3 334.7,213.7 355.7,192.7" fill="none" stroke="#4aa8d8" stroke-width="0.7" stroke-linejoin="round" opacity="1"/>
<polyline points="313.7,241.8 334.7,219.0 355.7,196.2" fill="none" stroke="#4aa8d8" stroke-width="0.7" stroke-linejoin="round" opacity="1"/>
<polyline points="313.7,238.3 334.7,206.7 355.7,198.0" fill="none" stroke="#4aa8d8" stroke-width="0.7" stroke-linejoin="round" opacity="1"/>
<polyline points="313.7,248.8 334.7,215.5 355.7,199.7" fill="none" stroke="#4aa8d8" stroke-width="0.7" stroke-linejoin="round" opacity="1"/>
<polyline points="313.7,240.1 334.7,222.5 355.7,194.4" fill="none" stroke="#4aa8d8" stroke-width="0.7" stroke-linejoin="round" opacity="1"/>
<polyline points="313.7,233.1 334.7,217.3 355.7,208.5" fill="none" stroke="#4a505c" stroke-width="0.7" stroke-linejoin="round" opacity="1"/>
<polyline points="313.7,252.4 334.7,240.1 355.7,199.7" fill="none" stroke="#4a505c" stroke-width="0.7" stroke-linejoin="round" opacity="1"/>
<polyline points="313.7,245.3 334.7,205.0 355.7,203.2" fill="none" stroke="#4a505c" stroke-width="0.7" stroke-linejoin="round" opacity="1"/>
<line x1="307.6" y1="185.5" x2="312.5" y2="185.5" stroke="#d98c3e" stroke-width="0.9" />
<line x1="307.6" y1="193.0" x2="312.5" y2="193.0" stroke="#55b2e0" stroke-width="0.9" />
<line x1="307.6" y1="200.0" x2="312.5" y2="200.0" stroke="#4a4d55" stroke-width="0.9" />
<line x1="316" y1="186" x2="316" y2="200" stroke="#555" stroke-width="0.6" />
<circle cx="318.60" cy="183.80" r="0.75" fill="#222"/>
<circle cx="318.60" cy="186.33" r="0.75" fill="#222"/>
<circle cx="318.60" cy="188.87" r="0.75" fill="#222"/>
<circle cx="318.60" cy="191.40" r="0.75" fill="#222"/>
<text x="318.9" y="196.2" font-size="4.5" fill="#8a5a7a" text-anchor="middle" transform="rotate(-90 318.9 196.2)" >ns</text>
<line x1="322" y1="186" x2="322" y2="200" stroke="#555" stroke-width="0.6" />
<circle cx="325.20" cy="189.80" r="0.75" fill="#222"/>
<circle cx="325.20" cy="192.50" r="0.75" fill="#222"/>
<circle cx="325.20" cy="195.20" r="0.75" fill="#222"/>
<circle cx="325.20" cy="197.90" r="0.75" fill="#222"/>
<text x="398.8" y="160.6" font-size="11" fill="#111" stroke="#111" stroke-width="0.35" font-weight="bold" textLength="8.4" lengthAdjust="spacingAndGlyphs" >H</text>
<text x="419" y="174.6" font-size="7" fill="#d98c3e" stroke="#d98c3e" stroke-width="0.16" textLength="28" lengthAdjust="spacingAndGlyphs" >CD86-28z</text>
<text x="451" y="174.6" font-size="7" fill="#55b2e0" stroke="#55b2e0" stroke-width="0.16" textLength="27.7" lengthAdjust="spacingAndGlyphs" >CD30-28z</text>
<text x="484" y="174.6" font-size="7" fill="#444" stroke="#444" stroke-width="0.16" textLength="27.8" lengthAdjust="spacingAndGlyphs" >CD19-28z</text>
<line x1="427.0" y1="178.8" x2="427.0" y2="268.3" stroke="#222" stroke-width="1.4" />
<line x1="426.3" y1="267.6" x2="507.7" y2="267.6" stroke="#222" stroke-width="1.4" />
<line x1="423.9" y1="267.6" x2="427.0" y2="267.6" stroke="#222" stroke-width="1.1" />
<text x="421.6" y="270.0" font-size="7" fill="#2e2e2e" stroke="#2e2e2e" stroke-width="0.16" text-anchor="end" >0</text>
<line x1="423.9" y1="250.06000000000003" x2="427.0" y2="250.06000000000003" stroke="#222" stroke-width="1.1" />
<text x="421.6" y="252.46000000000004" font-size="7" fill="#2e2e2e" stroke="#2e2e2e" stroke-width="0.16" text-anchor="end" >20</text>
<line x1="423.9" y1="232.52000000000004" x2="427.0" y2="232.52000000000004" stroke="#222" stroke-width="1.1" />
<text x="421.6" y="234.92000000000004" font-size="7" fill="#2e2e2e" stroke="#2e2e2e" stroke-width="0.16" text-anchor="end" >40</text>
<line x1="423.9" y1="214.98000000000002" x2="427.0" y2="214.98000000000002" stroke="#222" stroke-width="1.1" />
<text x="421.6" y="217.38000000000002" font-size="7" fill="#2e2e2e" stroke="#2e2e2e" stroke-width="0.16" text-anchor="end" >60</text>
<line x1="423.9" y1="197.44000000000003" x2="427.0" y2="197.44000000000003" stroke="#222" stroke-width="1.1" />
<text x="421.6" y="199.84000000000003" font-size="7" fill="#2e2e2e" stroke="#2e2e2e" stroke-width="0.16" text-anchor="end" >80</text>
<line x1="423.9" y1="179.90000000000003" x2="427.0" y2="179.90000000000003" stroke="#222" stroke-width="1.1" />
<text x="421.6" y="182.30000000000004" font-size="7" fill="#2e2e2e" stroke="#2e2e2e" stroke-width="0.16" text-anchor="end" >100</text>
<line x1="427.0" y1="267.6" x2="427.0" y2="270.5" stroke="#222" stroke-width="1.1" />
<text x="427.0" y="279" font-size="6.8" fill="#2e2e2e" stroke="#2e2e2e" stroke-width="0.1" text-anchor="middle" >0</text>
<line x1="441.96" y1="267.6" x2="441.96" y2="270.5" stroke="#222" stroke-width="1.1" />
<text x="441.96" y="279" font-size="6.8" fill="#2e2e2e" stroke="#2e2e2e" stroke-width="0.1" text-anchor="middle" >10</text>
<line x1="456.92" y1="267.6" x2="456.92" y2="270.5" stroke="#222" stroke-width="1.1" />
<text x="456.92" y="279" font-size="6.8" fill="#2e2e2e" stroke="#2e2e2e" stroke-width="0.1" text-anchor="middle" >20</text>
<line x1="471.88" y1="267.6" x2="471.88" y2="270.5" stroke="#222" stroke-width="1.1" />
<text x="471.88" y="279" font-size="6.8" fill="#2e2e2e" stroke="#2e2e2e" stroke-width="0.1" text-anchor="middle" >30</text>
<line x1="486.84000000000003" y1="267.6" x2="486.84000000000003" y2="270.5" stroke="#222" stroke-width="1.1" />
<text x="486.84000000000003" y="279" font-size="6.8" fill="#2e2e2e" stroke="#2e2e2e" stroke-width="0.1" text-anchor="middle" >40</text>
<line x1="501.8" y1="267.6" x2="501.8" y2="270.5" stroke="#222" stroke-width="1.1" />
<text x="501.8" y="279" font-size="6.8" fill="#2e2e2e" stroke="#2e2e2e" stroke-width="0.1" text-anchor="middle" >50</text>
<text x="467.9" y="290.8" font-size="7.8" fill="#2e2e2e" stroke="#2e2e2e" stroke-width="0.16" text-anchor="middle" textLength="76.8" lengthAdjust="spacingAndGlyphs" >Days after tumor injection</text>
<text x="405.2" y="222.5" font-size="7.8" fill="#2e2e2e" stroke="#2e2e2e" stroke-width="0.16" text-anchor="middle" textLength="35.2" lengthAdjust="spacingAndGlyphs" transform="rotate(-90 405.2 222.5)" >Survival [%]</text>
<polyline points="427.0,179.9 480.6,179.9 480.6,179.9 480.6,179.9 480.6,215.0 483.1,215.0 483.1,250.1 493.1,250.1 493.1,267.6" fill="none" stroke="#61656e" stroke-width="0.85" stroke-linejoin="round" />
<polyline points="427.0,179.9 493.5,179.9 493.5,179.9 493.5,179.9 493.5,232.5 494.8,232.5 494.8,267.6" fill="none" stroke="#6bb8e0" stroke-width="0.85" stroke-linejoin="round" />
<polyline points="427.0,179.9 499.4,179.9 499.4,179.9 499.4,179.9 499.4,197.4 504.0,197.4 504.0,215.0 508.8,215.0 508.8,215.0" fill="none" stroke="#d89a52" stroke-width="0.85" stroke-linejoin="round" />
<line x1="432" y1="185.5" x2="439" y2="185.5" stroke="#e8a04a" stroke-width="0.9" />
<line x1="432" y1="193.0" x2="439" y2="193.0" stroke="#6bb8e0" stroke-width="0.9" />
<line x1="432" y1="200.4" x2="439" y2="200.4" stroke="#4a4d55" stroke-width="0.9" />
<line x1="441" y1="186" x2="441" y2="192" stroke="#444" stroke-width="0.6" />
<line x1="441" y1="194" x2="441" y2="199.5" stroke="#444" stroke-width="0.6" />
<circle cx="444.20" cy="187.60" r="0.75" fill="#222"/>
<circle cx="444.20" cy="190.00" r="0.75" fill="#222"/>
<circle cx="444.20" cy="196.50" r="0.75" fill="#222"/>
<line x1="447" y1="186" x2="447" y2="200" stroke="#444" stroke-width="0.6" />
<circle cx="450.00" cy="191.80" r="0.75" fill="#222"/>
<circle cx="450.00" cy="194.20" r="0.75" fill="#222"/>
<text x="10.2" y="311.8" font-size="11" fill="#111" stroke="#111" stroke-width="0.35" font-weight="bold" textLength="3.4" lengthAdjust="spacingAndGlyphs" >I</text>
<rect x="6" y="357" width="22" height="42" rx="4" fill="#efefef" filter="url(#sh)"/>
<text x="30" y="321.3" font-size="6.6" fill="#2e2e2e" stroke="#2e2e2e" stroke-width="0.1" textLength="17.4" lengthAdjust="spacingAndGlyphs" >Day -1</text>
<ellipse cx="42.10" cy="329.80" rx="2.70" ry="2.60" fill="#c83848" opacity="1"/>
<ellipse cx="41.50" cy="329.20" rx="1.20" ry="1.10" fill="#e07080" opacity="1"/>
<path d="M33,346 Q31,341 35.5,339.5 Q40,338.5 42,341 Q43,344 40,346.5 Q36,348 33,346 Z" fill="#d8d8dc"/>
<path d="M41.5,340.5 Q45,338 48.2,335.3 M34,346.5 L32.5,348 M39.5,346.8 L40.5,348.3" stroke="#c8c8cc" stroke-width="0.7" fill="none"/>
<text x="30" y="355.2" font-size="6.6" fill="#2e2e2e" stroke="#2e2e2e" stroke-width="0.1" textLength="16.3" lengthAdjust="spacingAndGlyphs" >Day 0</text>
<ellipse cx="21.50" cy="359.70" rx="1.00" ry="0.90" fill="#a86020" opacity="1"/>
<ellipse cx="22.80" cy="358.30" rx="0.70" ry="0.70" fill="#a86020" opacity="1"/>
<ellipse cx="22.50" cy="363.90" rx="2.80" ry="2.80" fill="#d98c3e" opacity="1"/>
<ellipse cx="19.80" cy="368.50" rx="2.90" ry="2.80" fill="#d98c3e" opacity="1"/>
<ellipse cx="25.20" cy="368.50" rx="2.90" ry="2.80" fill="#d98c3e" opacity="1"/>
<ellipse cx="22.50" cy="366.90" rx="2.40" ry="2.30" fill="#d98c3e" opacity="1"/>
<ellipse cx="21.90" cy="367.70" rx="1.80" ry="1.60" fill="#a86020" opacity="0.45"/>
<ellipse cx="23.70" cy="364.30" rx="1.20" ry="1.10" fill="#a86020" opacity="0.35"/>
<ellipse cx="20.00" cy="369.30" rx="1.20" ry="1.10" fill="#a86020" opacity="0.35"/>
<ellipse cx="25.40" cy="369.60" rx="1.20" ry="1.10" fill="#a86020" opacity="0.35"/>
<ellipse cx="20.70" cy="373.90" rx="1.50" ry="1.30" fill="#a86020" opacity="0.9"/>
<ellipse cx="25.50" cy="374.30" rx="1.40" ry="1.30" fill="#a86020" opacity="0.9"/>
<text x="30" y="369" font-size="7" fill="#d98c3e" stroke="#d98c3e" stroke-width="0.16" textLength="28" lengthAdjust="spacingAndGlyphs" >CD86-28z</text>
<text x="35.3" y="374.9" font-size="6.6" fill="#444" stroke="#444" stroke-width="0.1" textLength="15.9" lengthAdjust="spacingAndGlyphs" >teLuc</text>
<ellipse cx="21.50" cy="384.00" rx="1.00" ry="0.90" fill="#30343e" opacity="1"/>
<ellipse cx="22.80" cy="382.60" rx="0.70" ry="0.70" fill="#30343e" opacity="1"/>
<ellipse cx="22.50" cy="388.20" rx="2.80" ry="2.80" fill="#5a6070" opacity="1"/>
<ellipse cx="19.80" cy="392.80" rx="2.90" ry="2.80" fill="#5a6070" opacity="1"/>
<ellipse cx="25.20" cy="392.80" rx="2.90" ry="2.80" fill="#5a6070" opacity="1"/>
<ellipse cx="22.50" cy="391.20" rx="2.40" ry="2.30" fill="#5a6070" opacity="1"/>
<ellipse cx="21.90" cy="392.00" rx="1.80" ry="1.60" fill="#30343e" opacity="0.45"/>
<ellipse cx="23.70" cy="388.60" rx="1.20" ry="1.10" fill="#30343e" opacity="0.35"/>
<ellipse cx="20.00" cy="393.60" rx="1.20" ry="1.10" fill="#30343e" opacity="0.35"/>
<ellipse cx="25.40" cy="393.90" rx="1.20" ry="1.10" fill="#30343e" opacity="0.35"/>
<ellipse cx="20.70" cy="398.20" rx="1.50" ry="1.30" fill="#30343e" opacity="0.9"/>
<ellipse cx="25.50" cy="398.60" rx="1.40" ry="1.30" fill="#30343e" opacity="0.9"/>
<text x="29.4" y="389.6" font-size="7" fill="#444" stroke="#444" stroke-width="0.16" textLength="28.6" lengthAdjust="spacingAndGlyphs" >CD19-28z</text>
<text x="35.3" y="395.3" font-size="6.6" fill="#444" stroke="#444" stroke-width="0.1" textLength="15.9" lengthAdjust="spacingAndGlyphs" >teLuc</text>
<line x1="62.2" y1="316.8" x2="62.2" y2="403" stroke="#6a6a6a" stroke-width="0.9" />
<path d="M60.6,402.4 L63.800000000000004,402.4 L62.2,405 Z" fill="#222"/>
<text x="68.6" y="321.3" font-size="6.6" fill="#2e2e2e" stroke="#2e2e2e" stroke-width="0.1" textLength="30.7" lengthAdjust="spacingAndGlyphs" >Tumor (i.v.)</text>
<text x="66.4" y="333.1" font-size="6.6" fill="#2e2e2e" stroke="#2e2e2e" stroke-width="0.1" >2.0 ×10<tspan font-size="4.2" dy="-2.8">6</tspan></text>
<text x="66.4" y="340.2" font-size="6.6" fill="#2e2e2e" stroke="#2e2e2e" stroke-width="0.1" textLength="30.8" lengthAdjust="spacingAndGlyphs" >L-540_fLuc</text>
<text x="68.1" y="355.2" font-size="6.6" fill="#2e2e2e" stroke="#2e2e2e" stroke-width="0.1" textLength="21.5" lengthAdjust="spacingAndGlyphs" >ACT i.v.</text>
<text x="66.4" y="378.9" font-size="6.6" fill="#2e2e2e" stroke="#2e2e2e" stroke-width="0.1" >1.35 ×10<tspan font-size="4.2" dy="-2.8">6</tspan></text>
<text x="66.4" y="386.0" font-size="6.6" fill="#2e2e2e" stroke="#2e2e2e" stroke-width="0.1" textLength="31.8" lengthAdjust="spacingAndGlyphs" >CAR T cells</text>
<text x="58" y="410.4" font-size="6.6" fill="#2e2e2e" stroke="#2e2e2e" stroke-width="0.1" textLength="8.4" lengthAdjust="spacingAndGlyphs" >BLI</text>
<text x="156" y="312" font-size="11" fill="#111" stroke="#111" stroke-width="0.35" font-weight="bold" textLength="5.5" lengthAdjust="spacingAndGlyphs" >J</text>
<text x="188.3" y="325.2" font-size="7" fill="#2e2e2e" stroke="#2e2e2e" stroke-width="0.16" textLength="79.7" lengthAdjust="spacingAndGlyphs" >Tumor signal (fLuc:Luciferin)</text>
<line x1="176.7" y1="327.6" x2="279.5" y2="327.6" stroke="#8a8a8a" stroke-width="1.1" />
<text x="182.5" y="335.6" font-size="6.4" fill="#e0a060" stroke="#e0a060" stroke-width="0.1" textLength="23.1" lengthAdjust="spacingAndGlyphs" >CD86-28z</text>
<text x="216" y="335.6" font-size="6.4" fill="#4a4a4a" stroke="#4a4a4a" stroke-width="0.1" textLength="24" lengthAdjust="spacingAndGlyphs" >CD19-28z</text>
<text x="249" y="335.6" font-size="6.4" fill="#e8a850" stroke="#e8a850" stroke-width="0.1" textLength="23.3" lengthAdjust="spacingAndGlyphs" >CD86-28z</text>
<text x="164.3" y="367.3" font-size="7.6" fill="#2e2e2e" stroke="#2e2e2e" stroke-width="0.16" text-anchor="middle" textLength="32.5" lengthAdjust="spacingAndGlyphs" transform="rotate(-90 164.3 367.3)" >Days to ACT</text>
<text x="173.4" y="354.8" font-size="6.8" fill="#2e2e2e" stroke="#2e2e2e" stroke-width="0.1" text-anchor="middle" transform="rotate(-90 173.4 354.8)" >0</text>
<text x="173.4" y="379.3" font-size="6.8" fill="#2e2e2e" stroke="#2e2e2e" stroke-width="0.1" text-anchor="middle" transform="rotate(-90 173.4 379.3)" >5</text>
<line x1="176.7" y1="399.4" x2="240.2" y2="399.4" stroke="#8a8a8a" stroke-width="1.1" />
<text x="198" y="406.4" font-size="7" fill="#2e2e2e" stroke="#2e2e2e" stroke-width="0.16" textLength="21" lengthAdjust="spacingAndGlyphs" >+ L-540</text>
<line x1="243.2" y1="399.4" x2="279.5" y2="399.4" stroke="#8a8a8a" stroke-width="1.1" />
<text x="250.4" y="406.4" font-size="7" fill="#2e2e2e" stroke="#2e2e2e" stroke-width="0.16" textLength="21.3" lengthAdjust="spacingAndGlyphs" >– L-540</text>
<g filter="url(#bl)">
<rect x="176.7" y="337.9" width="36.0" height="55.900000000000034" fill="#181818" />
<path d="M182.70,338.90 C184.47,338.90 185.26,340.98 185.85,343.57 C187.42,345.65 187.62,350.58 187.52,355.77 C187.42,360.96 186.83,364.07 184.67,364.85 L180.73,364.85 C178.57,364.07 177.98,360.96 177.88,355.77 C177.78,350.58 177.98,345.65 179.55,343.57 C180.14,340.98 180.93,338.90 182.70,338.90 Z" fill="url(#mgj)"/>
<ellipse cx="182.70" cy="348.76" rx="4.13" ry="4.15" fill="#4b1c9c" opacity="0.95"/>
<ellipse cx="183.20" cy="353.17" rx="2.95" ry="2.60" fill="#4b1c9c" opacity="0.8"/>
<ellipse cx="179.26" cy="358.36" rx="1.48" ry="3.11" fill="#4b1c9c" opacity="0.8"/>
<path d="M194.70,338.90 C196.47,338.90 197.26,340.98 197.85,343.57 C199.42,345.65 199.62,350.58 199.52,355.77 C199.42,360.96 198.83,364.07 196.67,364.85 L192.73,364.85 C190.57,364.07 189.98,360.96 189.88,355.77 C189.78,350.58 189.98,345.65 191.55,343.57 C192.14,340.98 192.93,338.90 194.70,338.90 Z" fill="url(#mgj)"/>
<ellipse cx="194.70" cy="348.76" rx="4.13" ry="4.15" fill="#4b1c9c" opacity="0.95"/>
<ellipse cx="195.20" cy="353.17" rx="2.95" ry="2.60" fill="#4b1c9c" opacity="0.8"/>
<ellipse cx="191.26" cy="358.36" rx="1.48" ry="3.11" fill="#4b1c9c" opacity="0.8"/>
<path d="M206.70,338.90 C208.47,338.90 209.26,340.98 209.85,343.57 C211.42,345.65 211.62,350.58 211.52,355.77 C211.42,360.96 210.83,364.07 208.67,364.85 L204.73,364.85 C202.57,364.07 201.98,360.96 201.88,355.77 C201.78,350.58 201.98,345.65 203.55,343.57 C204.14,340.98 204.93,338.90 206.70,338.90 Z" fill="url(#mgj)"/>
<ellipse cx="206.70" cy="348.76" rx="4.13" ry="4.15" fill="#4b1c9c" opacity="0.95"/>
<ellipse cx="207.20" cy="353.17" rx="2.95" ry="2.60" fill="#4b1c9c" opacity="0.8"/>
<ellipse cx="203.26" cy="358.36" rx="1.48" ry="3.11" fill="#4b1c9c" opacity="0.8"/>
<ellipse cx="208.67" cy="359.66" rx="2.95" ry="3.63" fill="#4b1c9c" opacity="0.85"/>
<path d="M182.70,366.85 C184.47,366.85 185.26,368.93 185.85,371.52 C187.42,373.60 187.62,378.53 187.52,383.72 C187.42,388.91 186.83,392.02 184.67,392.80 L180.73,392.80 C178.57,392.02 177.98,388.91 177.88,383.72 C177.78,378.53 177.98,373.60 179.55,371.52 C180.14,368.93 180.93,366.85 182.70,366.85 Z" fill="url(#mgj)"/>
<ellipse cx="182.70" cy="382.94" rx="0.90" ry="0.90" fill="#302050" opacity="1"/>
<ellipse cx="182.40" cy="387.09" rx="0.80" ry="0.80" fill="#302050" opacity="1"/>
<path d="M194.70,366.85 C196.47,366.85 197.26,368.93 197.85,371.52 C199.42,373.60 199.62,378.53 199.52,383.72 C199.42,388.91 198.83,392.02 196.67,392.80 L192.73,392.80 C190.57,392.02 189.98,388.91 189.88,383.72 C189.78,378.53 189.98,373.60 191.55,371.52 C192.14,368.93 192.93,366.85 194.70,366.85 Z" fill="url(#mgj)"/>
<ellipse cx="194.70" cy="383.72" rx="1.60" ry="1.40" fill="#4b1c9c" opacity="1"/>
<path d="M206.70,366.85 C208.47,366.85 209.26,368.93 209.85,371.52 C211.42,373.60 211.62,378.53 211.52,383.72 C211.42,388.91 210.83,392.02 208.67,392.80 L204.73,392.80 C202.57,392.02 201.98,388.91 201.88,383.72 C201.78,378.53 201.98,373.60 203.55,371.52 C204.14,368.93 204.93,366.85 206.70,366.85 Z" fill="url(#mgj)"/>
<ellipse cx="205.70" cy="378.53" rx="0.80" ry="0.80" fill="#302050" opacity="1"/>
<rect x="216" y="337.9" width="24.19999999999999" height="55.900000000000034" fill="#181818" />
<path d="M222.05,338.90 C223.84,338.90 224.63,340.98 225.23,343.57 C226.81,345.65 227.01,350.58 226.91,355.77 C226.81,360.96 226.22,364.07 224.03,364.85 L220.07,364.85 C217.88,364.07 217.29,360.96 217.19,355.77 C217.09,350.58 217.29,345.65 218.87,343.57 C219.47,340.98 220.26,338.90 222.05,338.90 Z" fill="url(#mgj)"/>
<ellipse cx="222.05" cy="349.28" rx="4.46" ry="3.89" fill="#4b1c9c" opacity="0.95"/>
<ellipse cx="222.05" cy="357.06" rx="2.98" ry="2.60" fill="#7050c0" opacity="0.6"/>
<path d="M234.15,338.90 C235.94,338.90 236.73,340.98 237.33,343.57 C238.91,345.65 239.11,350.58 239.01,355.77 C238.91,360.96 238.32,364.07 236.13,364.85 L232.17,364.85 C229.98,364.07 229.39,360.96 229.29,355.77 C229.19,350.58 229.39,345.65 230.97,343.57 C231.57,340.98 232.36,338.90 234.15,338.90 Z" fill="url(#mgj)"/>
<ellipse cx="234.15" cy="349.28" rx="4.46" ry="3.89" fill="#4b1c9c" opacity="0.95"/>
<ellipse cx="234.15" cy="357.06" rx="2.98" ry="2.60" fill="#7050c0" opacity="0.6"/>
<rect x="216.0" y="365.85" width="12.099999999999994" height="27.950000000000017" fill="#4a1a9a" />
<path d="M222.05,366.85 C223.84,366.85 224.63,368.93 225.23,371.52 C226.81,373.60 227.01,378.53 226.91,383.72 C226.81,388.91 226.22,392.02 224.03,392.80 L220.07,392.80 C217.88,392.02 217.29,388.91 217.19,383.72 C217.09,378.53 217.29,373.60 218.87,371.52 C219.47,368.93 220.26,366.85 222.05,366.85 Z" fill="none" stroke="#c8b8f0" stroke-width="0.9"/>
<ellipse cx="222.05" cy="378.53" rx="3.77" ry="7.79" fill="#5828b0" opacity="0.95"/>
<ellipse cx="222.05" cy="390.21" rx="2.98" ry="2.08" fill="#d0c0f0" opacity="0.7"/>
<rect x="228.1" y="365.85" width="12.099999999999994" height="27.950000000000017" fill="#4a1a9a" />
<path d="M234.15,366.85 C235.94,366.85 236.73,368.93 237.33,371.52 C238.91,373.60 239.11,378.53 239.01,383.72 C238.91,388.91 238.32,392.02 236.13,392.80 L232.17,392.80 C229.98,392.02 229.39,388.91 229.29,383.72 C229.19,378.53 229.39,373.60 230.97,371.52 C231.57,368.93 232.36,366.85 234.15,366.85 Z" fill="none" stroke="#c8b8f0" stroke-width="0.9"/>
<ellipse cx="234.15" cy="378.53" rx="3.77" ry="7.79" fill="#5828b0" opacity="0.95"/>
<ellipse cx="234.15" cy="390.21" rx="2.98" ry="2.08" fill="#d0c0f0" opacity="0.7"/>
<rect x="243.2" y="337.9" width="36.30000000000001" height="55.900000000000034" fill="#181818" />
<path d="M249.25,338.90 C251.04,338.90 251.83,340.98 252.43,343.57 C254.01,345.65 254.21,350.58 254.11,355.77 C254.01,360.96 253.42,364.07 251.23,364.85 L247.27,364.85 C245.08,364.07 244.49,360.96 244.39,355.77 C244.29,350.58 244.49,345.65 246.07,343.57 C246.67,340.98 247.46,338.90 249.25,338.90 Z" fill="url(#mg)"/>
<path d="M261.35,338.90 C263.14,338.90 263.93,340.98 264.53,343.57 C266.11,345.65 266.31,350.58 266.21,355.77 C266.11,360.96 265.52,364.07 263.33,364.85 L259.37,364.85 C257.18,364.07 256.59,360.96 256.49,355.77 C256.39,350.58 256.59,345.65 258.17,343.57 C258.77,340.98 259.56,338.90 261.35,338.90 Z" fill="url(#mg)"/>
<path d="M273.45,338.90 C275.24,338.90 276.03,340.98 276.63,343.57 C278.21,345.65 278.41,350.58 278.31,355.77 C278.21,360.96 277.62,364.07 275.43,364.85 L271.47,364.85 C269.28,364.07 268.69,360.96 268.59,355.77 C268.49,350.58 268.69,345.65 270.27,343.57 C270.87,340.98 271.66,338.90 273.45,338.90 Z" fill="url(#mg)"/>
<path d="M249.25,366.85 C251.04,366.85 251.83,368.93 252.43,371.52 C254.01,373.60 254.21,378.53 254.11,383.72 C254.01,388.91 253.42,392.02 251.23,392.80 L247.27,392.80 C245.08,392.02 244.49,388.91 244.39,383.72 C244.29,378.53 244.49,373.60 246.07,371.52 C246.67,368.93 247.46,366.85 249.25,366.85 Z" fill="url(#mg)"/>
<path d="M261.35,366.85 C263.14,366.85 263.93,368.93 264.53,371.52 C266.11,373.60 266.31,378.53 266.21,383.72 C266.11,388.91 265.52,392.02 263.33,392.80 L259.37,392.80 C257.18,392.02 256.59,388.91 256.49,383.72 C256.39,378.53 256.59,373.60 258.17,371.52 C258.77,368.93 259.56,366.85 261.35,366.85 Z" fill="url(#mg)"/>
<path d="M273.45,366.85 C275.24,366.85 276.03,368.93 276.63,371.52 C278.21,373.60 278.41,378.53 278.31,383.72 C278.21,388.91 277.62,392.02 275.43,392.80 L271.47,392.80 C269.28,392.02 268.69,388.91 268.59,383.72 C268.49,378.53 268.69,373.60 270.27,371.52 C270.87,368.93 271.66,366.85 273.45,366.85 Z" fill="url(#mg)"/>
</g>
<rect x="282.7" y="355.6" width="2.2" height="26.5" fill="url(#cb_rainbow)" />
<text x="285.4" y="357.5" font-size="3.2" fill="#555" >1.00</text>
<text x="285.4" y="383.5" font-size="3.2" fill="#555" >0.05</text>
<text x="293.5" y="370.5" font-size="2.8" fill="#666" text-anchor="middle" transform="rotate(90 293.5 370.5)" >Radiance</text>
<text x="289.5" y="370.5" font-size="2.5" fill="#888" text-anchor="middle" transform="rotate(90 289.5 370.5)" >(p/sec/cm²/sr)</text>
<text x="282.5" y="389.5" font-size="2.8" fill="#444" textLength="15.5" lengthAdjust="spacingAndGlyphs" >Min=1.00e5</text>
<text x="282.5" y="393.3" font-size="2.8" fill="#444" textLength="15.5" lengthAdjust="spacingAndGlyphs" >Max=1.00e7</text>
<text x="353.5" y="312" font-size="11" fill="#111" stroke="#111" stroke-width="0.35" font-weight="bold" textLength="7.6" lengthAdjust="spacingAndGlyphs" >K</text>
<text x="383.6" y="325.2" font-size="7" fill="#2e2e2e" stroke="#2e2e2e" stroke-width="0.16" textLength="83.4" lengthAdjust="spacingAndGlyphs" >CAR T cell signal (teLuc:DTZ)</text>
<line x1="374.7" y1="327.6" x2="476" y2="327.6" stroke="#8a8a8a" stroke-width="1.1" />
<text x="379.7" y="335.6" font-size="6.4" fill="#e0a060" stroke="#e0a060" stroke-width="0.1" textLength="23.3" lengthAdjust="spacingAndGlyphs" >CD86-28z</text>
<text x="413.4" y="335.6" font-size="6.4" fill="#4a4a4a" stroke="#4a4a4a" stroke-width="0.1" textLength="23.1" lengthAdjust="spacingAndGlyphs" >CD19-28z</text>
<text x="446" y="335.6" font-size="6.4" fill="#e8a850" stroke="#e8a850" stroke-width="0.1" textLength="23" lengthAdjust="spacingAndGlyphs" >CD86-28z</text>
<text x="361.0" y="367.3" font-size="7.6" fill="#2e2e2e" stroke="#2e2e2e" stroke-width="0.16" text-anchor="middle" textLength="32.5" lengthAdjust="spacingAndGlyphs" transform="rotate(-90 361.0 367.3)" >Days to ACT</text>
<text x="371.3" y="354.8" font-size="6.8" fill="#2e2e2e" stroke="#2e2e2e" stroke-width="0.1" text-anchor="middle" transform="rotate(-90 371.3 354.8)" >0</text>
<text x="371.3" y="379.3" font-size="6.8" fill="#2e2e2e" stroke="#2e2e2e" stroke-width="0.1" text-anchor="middle" transform="rotate(-90 371.3 379.3)" >5</text>
<line x1="373.4" y1="399.4" x2="437.4" y2="399.4" stroke="#8a8a8a" stroke-width="1.1" />
<text x="395.2" y="406.4" font-size="7" fill="#2e2e2e" stroke="#2e2e2e" stroke-width="0.16" textLength="22.3" lengthAdjust="spacingAndGlyphs" >+ L-540</text>
<line x1="440.8" y1="399.4" x2="476.8" y2="399.4" stroke="#8a8a8a" stroke-width="1.1" />
<text x="448.5" y="406.4" font-size="7" fill="#2e2e2e" stroke="#2e2e2e" stroke-width="0.16" textLength="20.3" lengthAdjust="spacingAndGlyphs" >– L-540</text>
<g filter="url(#bl)">
<rect x="373.4" y="338.3" width="36.60000000000002" height="56.099999999999966" fill="#181818" />
<path d="M379.50,339.30 C381.30,339.30 382.10,341.38 382.70,343.99 C384.30,346.07 384.50,351.02 384.40,356.23 C384.30,361.44 383.70,364.57 381.50,365.35 L377.50,365.35 C375.30,364.57 374.70,361.44 374.60,356.23 C374.50,351.02 374.70,346.07 376.30,343.99 C376.90,341.38 377.70,339.30 379.50,339.30 Z" fill="url(#mgj)"/>
<path d="M379.50,339.30 C381.30,339.30 382.10,340.24 382.70,341.41 C384.30,342.35 384.50,344.58 384.40,346.92 C384.30,349.26 383.70,350.67 381.50,351.02 L377.50,351.02 C375.30,350.67 374.70,349.26 374.60,346.92 C374.50,344.58 374.70,342.35 376.30,341.41 C376.90,340.24 377.70,339.30 379.50,339.30 Z" fill="#5a8ede" opacity="0.8"/>
<ellipse cx="380.30" cy="345.75" rx="1.80" ry="2.08" fill="#c8d8f4" opacity="0.7"/>
<ellipse cx="379.50" cy="362.75" rx="4.20" ry="2.34" fill="#5a8ede" opacity="0.75"/>
<ellipse cx="375.30" cy="356.23" rx="0.80" ry="5.21" fill="#5a8ede" opacity="0.6"/>
<ellipse cx="383.70" cy="356.23" rx="0.80" ry="5.21" fill="#5a8ede" opacity="0.6"/>
<ellipse cx="378.70" cy="345.03" rx="1.40" ry="1.60" fill="#e8e860" opacity="0.9"/>
<ellipse cx="379.50" cy="365.09" rx="5.00" ry="0.60" fill="#d8d840" opacity="0.7"/>
<path d="M391.70,339.30 C393.50,339.30 394.30,341.38 394.90,343.99 C396.50,346.07 396.70,351.02 396.60,356.23 C396.50,361.44 395.90,364.57 393.70,365.35 L389.70,365.35 C387.50,364.57 386.90,361.44 386.80,356.23 C386.70,351.02 386.90,346.07 388.50,343.99 C389.10,341.38 389.90,339.30 391.70,339.30 Z" fill="url(#mgj)"/>
<path d="M391.70,339.30 C393.50,339.30 394.30,340.24 394.90,341.41 C396.50,342.35 396.70,344.58 396.60,346.92 C396.50,349.26 395.90,350.67 393.70,351.02 L389.70,351.02 C387.50,350.67 386.90,349.26 386.80,346.92 C386.70,344.58 386.90,342.35 388.50,341.41 C389.10,340.24 389.90,339.30 391.70,339.30 Z" fill="#5a8ede" opacity="0.8"/>
<ellipse cx="392.50" cy="345.75" rx="1.80" ry="2.08" fill="#c8d8f4" opacity="0.7"/>
<ellipse cx="391.70" cy="362.75" rx="4.20" ry="2.34" fill="#5a8ede" opacity="0.75"/>
<ellipse cx="387.50" cy="356.23" rx="0.80" ry="5.21" fill="#5a8ede" opacity="0.6"/>
<ellipse cx="395.90" cy="356.23" rx="0.80" ry="5.21" fill="#5a8ede" opacity="0.6"/>
<ellipse cx="391.70" cy="365.09" rx="5.00" ry="0.60" fill="#d8d840" opacity="0.7"/>
<path d="M403.90,339.30 C405.70,339.30 406.50,341.38 407.10,343.99 C408.70,346.07 408.90,351.02 408.80,356.23 C408.70,361.44 408.10,364.57 405.90,365.35 L401.90,365.35 C399.70,364.57 399.10,361.44 399.00,356.23 C398.90,351.02 399.10,346.07 400.70,343.99 C401.30,341.38 402.10,339.30 403.90,339.30 Z" fill="url(#mgj)"/>
<path d="M403.90,339.30 C405.70,339.30 406.50,340.24 407.10,341.41 C408.70,342.35 408.90,344.58 408.80,346.92 C408.70,349.26 408.10,350.67 405.90,351.02 L401.90,351.02 C399.70,350.67 399.10,349.26 399.00,346.92 C398.90,344.58 399.10,342.35 400.70,341.41 C401.30,340.24 402.10,339.30 403.90,339.30 Z" fill="#5a8ede" opacity="0.8"/>
<ellipse cx="404.70" cy="345.75" rx="1.80" ry="2.08" fill="#c8d8f4" opacity="0.7"/>
<ellipse cx="403.90" cy="362.75" rx="4.20" ry="2.34" fill="#5a8ede" opacity="0.75"/>
<ellipse cx="399.70" cy="356.23" rx="0.80" ry="5.21" fill="#5a8ede" opacity="0.6"/>
<ellipse cx="408.10" cy="356.23" rx="0.80" ry="5.21" fill="#5a8ede" opacity="0.6"/>
<ellipse cx="403.90" cy="365.09" rx="5.00" ry="0.60" fill="#d8d840" opacity="0.7"/>
<path d="M379.50,367.35 C381.30,367.35 382.10,369.43 382.70,372.04 C384.30,374.12 384.50,379.07 384.40,384.28 C384.30,389.49 383.70,392.62 381.50,393.40 L377.50,393.40 C375.30,392.62 374.70,389.49 374.60,384.28 C374.50,379.07 374.70,374.12 376.30,372.04 C376.90,369.43 377.70,367.35 379.50,367.35 Z" fill="url(#mgj)"/>
<path d="M379.50,367.35 C381.30,367.35 382.10,368.60 382.70,370.16 C384.30,371.41 384.50,374.38 384.40,377.51 C384.30,380.64 383.70,382.51 381.50,382.98 L377.50,382.98 C375.30,382.51 374.70,380.64 374.60,377.51 C374.50,374.38 374.70,371.41 376.30,370.16 C376.90,368.60 377.70,367.35 379.50,367.35 Z" fill="#5a8ede" opacity="0.8"/>
<ellipse cx="380.30" cy="375.95" rx="1.80" ry="2.08" fill="#c8d8f4" opacity="0.7"/>
<ellipse cx="379.50" cy="390.80" rx="4.20" ry="2.34" fill="#5a8ede" opacity="0.75"/>
<ellipse cx="375.30" cy="384.28" rx="0.80" ry="5.21" fill="#5a8ede" opacity="0.6"/>
<ellipse cx="383.70" cy="384.28" rx="0.80" ry="5.21" fill="#5a8ede" opacity="0.6"/>
<ellipse cx="379.50" cy="392.62" rx="3.50" ry="0.80" fill="#d8d840" opacity="0.6"/>
<path d="M391.70,367.35 C393.50,367.35 394.30,369.43 394.90,372.04 C396.50,374.12 396.70,379.07 396.60,384.28 C396.50,389.49 395.90,392.62 393.70,393.40 L389.70,393.40 C387.50,392.62 386.90,389.49 386.80,384.28 C386.70,379.07 386.90,374.12 388.50,372.04 C389.10,369.43 389.90,367.35 391.70,367.35 Z" fill="url(#mgj)"/>
<path d="M391.70,367.35 C393.50,367.35 394.30,368.60 394.90,370.16 C396.50,371.41 396.70,374.38 396.60,377.51 C396.50,380.64 395.90,382.51 393.70,382.98 L389.70,382.98 C387.50,382.51 386.90,380.64 386.80,377.51 C386.70,374.38 386.90,371.41 388.50,370.16 C389.10,368.60 389.90,367.35 391.70,367.35 Z" fill="#5a8ede" opacity="0.8"/>
<ellipse cx="392.50" cy="375.95" rx="1.80" ry="2.08" fill="#c8d8f4" opacity="0.7"/>
<ellipse cx="391.70" cy="390.80" rx="4.20" ry="2.34" fill="#5a8ede" opacity="0.75"/>
<ellipse cx="387.50" cy="384.28" rx="0.80" ry="5.21" fill="#5a8ede" opacity="0.6"/>
<ellipse cx="395.90" cy="384.28" rx="0.80" ry="5.21" fill="#5a8ede" opacity="0.6"/>
<ellipse cx="391.70" cy="377.77" rx="1.40" ry="1.60" fill="#e8e860" opacity="0.9"/>
<ellipse cx="391.70" cy="392.62" rx="3.50" ry="0.80" fill="#d8d840" opacity="0.6"/>
<path d="M403.90,367.35 C405.70,367.35 406.50,369.43 407.10,372.04 C408.70,374.12 408.90,379.07 408.80,384.28 C408.70,389.49 408.10,392.62 405.90,393.40 L401.90,393.40 C399.70,392.62 399.10,389.49 399.00,384.28 C398.90,379.07 399.10,374.12 400.70,372.04 C401.30,369.43 402.10,367.35 403.90,367.35 Z" fill="url(#mgj)"/>
<path d="M403.90,367.35 C405.70,367.35 406.50,368.60 407.10,370.16 C408.70,371.41 408.90,374.38 408.80,377.51 C408.70,380.64 408.10,382.51 405.90,382.98 L401.90,382.98 C399.70,382.51 399.10,380.64 399.00,377.51 C398.90,374.38 399.10,371.41 400.70,370.16 C401.30,368.60 402.10,367.35 403.90,367.35 Z" fill="#5a8ede" opacity="0.8"/>
<ellipse cx="404.70" cy="375.95" rx="1.80" ry="2.08" fill="#c8d8f4" opacity="0.7"/>
<ellipse cx="403.90" cy="390.80" rx="4.20" ry="2.34" fill="#5a8ede" opacity="0.75"/>
<ellipse cx="399.70" cy="384.28" rx="0.80" ry="5.21" fill="#5a8ede" opacity="0.6"/>
<ellipse cx="408.10" cy="384.28" rx="0.80" ry="5.21" fill="#5a8ede" opacity="0.6"/>
<ellipse cx="403.90" cy="377.77" rx="1.40" ry="1.60" fill="#e8e860" opacity="0.9"/>
<ellipse cx="403.90" cy="392.62" rx="3.50" ry="0.80" fill="#d8d840" opacity="0.6"/>
<rect x="412.7" y="338.3" width="24.69999999999999" height="56.099999999999966" fill="#181818" />
<path d="M418.88,339.30 C420.70,339.30 421.51,341.38 422.12,343.99 C423.74,346.07 423.94,351.02 423.84,356.23 C423.74,361.44 423.13,364.57 420.90,365.35 L416.85,365.35 C414.62,364.57 414.01,361.44 413.91,356.23 C413.81,351.02 414.01,346.07 415.63,343.99 C416.24,341.38 417.05,339.30 418.88,339.30 Z" fill="url(#mgj)"/>
<path d="M418.88,339.30 C420.70,339.30 421.51,340.24 422.12,341.41 C423.74,342.35 423.94,344.58 423.84,346.92 C423.74,349.26 423.13,350.67 420.90,351.02 L416.85,351.02 C414.62,350.67 414.01,349.26 413.91,346.92 C413.81,344.58 414.01,342.35 415.63,341.41 C416.24,340.24 417.05,339.30 418.88,339.30 Z" fill="#5a8ede" opacity="0.78"/>
<ellipse cx="419.38" cy="345.81" rx="1.82" ry="1.82" fill="#c8d8f4" opacity="0.7"/>
<ellipse cx="418.88" cy="362.22" rx="4.56" ry="2.34" fill="#5a8ede" opacity="0.78"/>
<path d="M431.22,339.30 C433.05,339.30 433.86,341.38 434.47,343.99 C436.09,346.07 436.29,351.02 436.19,356.23 C436.09,361.44 435.48,364.57 433.25,365.35 L429.20,365.35 C426.97,364.57 426.36,361.44 426.26,356.23 C426.16,351.02 426.36,346.07 427.98,343.99 C428.59,341.38 429.40,339.30 431.22,339.30 Z" fill="url(#mgj)"/>
<path d="M431.22,339.30 C433.05,339.30 433.86,340.24 434.47,341.41 C436.09,342.35 436.29,344.58 436.19,346.92 C436.09,349.26 435.48,350.67 433.25,351.02 L429.20,351.02 C426.97,350.67 426.36,349.26 426.26,346.92 C426.16,344.58 426.36,342.35 427.98,341.41 C428.59,340.24 429.40,339.30 431.22,339.30 Z" fill="#5a8ede" opacity="0.78"/>
<ellipse cx="431.72" cy="345.81" rx="1.82" ry="1.82" fill="#c8d8f4" opacity="0.7"/>
<ellipse cx="431.22" cy="362.22" rx="4.56" ry="2.34" fill="#5a8ede" opacity="0.78"/>
<path d="M418.88,367.35 C420.70,367.35 421.51,369.43 422.12,372.04 C423.74,374.12 423.94,379.07 423.84,384.28 C423.74,389.49 423.13,392.62 420.90,393.40 L416.85,393.40 C414.62,392.62 414.01,389.49 413.91,384.28 C413.81,379.07 414.01,374.12 415.63,372.04 C416.24,369.43 417.05,367.35 418.88,367.35 Z" fill="url(#mgj)"/>
<path d="M431.22,367.35 C433.05,367.35 433.86,369.43 434.47,372.04 C436.09,374.12 436.29,379.07 436.19,384.28 C436.09,389.49 435.48,392.62 433.25,393.40 L429.20,393.40 C426.97,392.62 426.36,389.49 426.26,384.28 C426.16,379.07 426.36,374.12 427.98,372.04 C428.59,369.43 429.40,367.35 431.22,367.35 Z" fill="url(#mgj)"/>
<rect x="440.8" y="338.3" width="36.0" height="56.099999999999966" fill="#181818" />
<path d="M446.80,339.30 C448.57,339.30 449.36,341.38 449.95,343.99 C451.52,346.07 451.72,351.02 451.62,356.23 C451.52,361.44 450.93,364.57 448.77,365.35 L444.83,365.35 C442.67,364.57 442.08,361.44 441.98,356.23 C441.88,351.02 442.08,346.07 443.65,343.99 C444.24,341.38 445.03,339.30 446.80,339.30 Z" fill="url(#mg)"/>
<path d="M458.80,339.30 C460.57,339.30 461.36,341.38 461.95,343.99 C463.52,346.07 463.72,351.02 463.62,356.23 C463.52,361.44 462.93,364.57 460.77,365.35 L456.83,365.35 C454.67,364.57 454.08,361.44 453.98,356.23 C453.88,351.02 454.08,346.07 455.65,343.99 C456.24,341.38 457.03,339.30 458.80,339.30 Z" fill="url(#mg)"/>
<ellipse cx="458.80" cy="345.81" rx="2.95" ry="3.13" fill="#5a8ad8" opacity="0.5"/>
<path d="M470.80,339.30 C472.57,339.30 473.36,341.38 473.95,343.99 C475.52,346.07 475.72,351.02 475.62,356.23 C475.52,361.44 474.93,364.57 472.77,365.35 L468.83,365.35 C466.67,364.57 466.08,361.44 465.98,356.23 C465.88,351.02 466.08,346.07 467.65,343.99 C468.24,341.38 469.03,339.30 470.80,339.30 Z" fill="url(#mg)"/>
<ellipse cx="470.80" cy="345.81" rx="2.95" ry="3.13" fill="#5a8ad8" opacity="0.8"/>
<path d="M446.80,367.35 C448.57,367.35 449.36,369.43 449.95,372.04 C451.52,374.12 451.72,379.07 451.62,384.28 C451.52,389.49 450.93,392.62 448.77,393.40 L444.83,393.40 C442.67,392.62 442.08,389.49 441.98,384.28 C441.88,379.07 442.08,374.12 443.65,372.04 C444.24,369.43 445.03,367.35 446.80,367.35 Z" fill="url(#mg)"/>
<path d="M458.80,367.35 C460.57,367.35 461.36,369.43 461.95,372.04 C463.52,374.12 463.72,379.07 463.62,384.28 C463.52,389.49 462.93,392.62 460.77,393.40 L456.83,393.40 C454.67,392.62 454.08,389.49 453.98,384.28 C453.88,379.07 454.08,374.12 455.65,372.04 C456.24,369.43 457.03,367.35 458.80,367.35 Z" fill="url(#mg)"/>
<path d="M470.80,367.35 C472.57,367.35 473.36,369.43 473.95,372.04 C475.52,374.12 475.72,379.07 475.62,384.28 C475.52,389.49 474.93,392.62 472.77,393.40 L468.83,393.40 C466.67,392.62 466.08,389.49 465.98,384.28 C465.88,379.07 466.08,374.12 467.65,372.04 C468.24,369.43 469.03,367.35 470.80,367.35 Z" fill="url(#mg)"/>
</g>
<linearGradient id="cb_k" x1="0" y1="0" x2="0" y2="1"><stop offset="0" stop-color="#300000"/><stop offset="0.3" stop-color="#c02020"/><stop offset="0.55" stop-color="#f0e060"/><stop offset="0.75" stop-color="#f8f8f0"/><stop offset="1" stop-color="#3060c0"/></linearGradient>
<rect x="479.9" y="355.5" width="1.8" height="29.3" fill="url(#cb_k)" />
<text x="482.3" y="357.3" font-size="3.2" fill="#555" >1.00</text>
<text x="482.3" y="385.5" font-size="3.2" fill="#555" >0.10</text>
<text x="490" y="370" font-size="2.8" fill="#666" text-anchor="middle" transform="rotate(90 490 370)" >Radiance</text>
<text x="486" y="370" font-size="2.5" fill="#888" text-anchor="middle" transform="rotate(90 486 370)" >(p/sec/cm²/sr)</text>
<text x="479" y="389.5" font-size="2.8" fill="#444" textLength="16" lengthAdjust="spacingAndGlyphs" >Min=3.00e5</text>
<text x="479" y="393.3" font-size="2.8" fill="#444" textLength="16" lengthAdjust="spacingAndGlyphs" >Max=1.00e7</text>
<text x="82.6" y="431.7" font-size="11" fill="#111" stroke="#111" stroke-width="0.35" font-weight="bold" textLength="5.6" lengthAdjust="spacingAndGlyphs" >L</text>
<line x1="128.6" y1="433.3" x2="128.6" y2="533.7" stroke="#222" stroke-width="1.4" />
<line x1="127.9" y1="533" x2="223.8" y2="533" stroke="#222" stroke-width="1.4" />
<line x1="126" y1="533.0" x2="128.6" y2="533.0" stroke="#222" stroke-width="1" />
<text x="123.3" y="535.2" font-size="6.2" fill="#2e2e2e" stroke="#2e2e2e" stroke-width="0.1" text-anchor="end" >0</text>
<line x1="126" y1="508.42" x2="128.6" y2="508.42" stroke="#222" stroke-width="1" />
<text x="122.6" y="510.62" font-size="6.1" fill="#2e2e2e" stroke="#2e2e2e" stroke-width="0.1" text-anchor="end" >1×10<tspan font-size="3.8" dy="-2.6">5</tspan></text>
<line x1="126" y1="483.84000000000003" x2="128.6" y2="483.84000000000003" stroke="#222" stroke-width="1" />
<text x="122.6" y="486.04" font-size="6.1" fill="#2e2e2e" stroke="#2e2e2e" stroke-width="0.1" text-anchor="end" >2×10<tspan font-size="3.8" dy="-2.6">5</tspan></text>
<line x1="126" y1="459.26" x2="128.6" y2="459.26" stroke="#222" stroke-width="1" />
<text x="122.6" y="461.46" font-size="6.1" fill="#2e2e2e" stroke="#2e2e2e" stroke-width="0.1" text-anchor="end" >3×10<tspan font-size="3.8" dy="-2.6">5</tspan></text>
<line x1="126" y1="434.68" x2="128.6" y2="434.68" stroke="#222" stroke-width="1" />
<text x="122.6" y="436.88" font-size="6.1" fill="#2e2e2e" stroke="#2e2e2e" stroke-width="0.1" text-anchor="end" >4×10<tspan font-size="3.8" dy="-2.6">5</tspan></text>
<line x1="145.5" y1="533" x2="145.5" y2="535.6" stroke="#222" stroke-width="1" />
<text x="145.5" y="545.5" font-size="6.6" fill="#2e2e2e" stroke="#2e2e2e" stroke-width="0.1" text-anchor="middle" >0</text>
<line x1="180" y1="533" x2="180" y2="535.6" stroke="#222" stroke-width="1" />
<text x="180" y="545.5" font-size="6.6" fill="#2e2e2e" stroke="#2e2e2e" stroke-width="0.1" text-anchor="middle" >2</text>
<line x1="214.5" y1="533" x2="214.5" y2="535.6" stroke="#222" stroke-width="1" />
<text x="214.5" y="545.5" font-size="6.6" fill="#2e2e2e" stroke="#2e2e2e" stroke-width="0.1" text-anchor="middle" >5</text>
<text x="180" y="556.5" font-size="7.8" fill="#2e2e2e" stroke="#2e2e2e" stroke-width="0.16" text-anchor="middle" textLength="32.5" lengthAdjust="spacingAndGlyphs" >Days to ACT</text>
<text x="100.6" y="482.3" font-size="7.0" fill="#2e2e2e" stroke="#2e2e2e" stroke-width="0.16" text-anchor="middle" textLength="99" lengthAdjust="spacingAndGlyphs" transform="rotate(-90 100.6 482.3)" font-style="italic">Average radiance [p/sec/cm<tspan font-size="4.5" dy="-2.6">2</tspan><tspan dy="2.6">/sr]</tspan></text>
<line x1="145.5" y1="492.4" x2="145.5" y2="508.4" stroke="#e09040" stroke-width="0.6" />
<line x1="144.2" y1="492.4" x2="146.8" y2="492.4" stroke="#e09040" stroke-width="0.6" />
<line x1="144.2" y1="508.4" x2="146.8" y2="508.4" stroke="#e09040" stroke-width="0.6" />
<line x1="180" y1="522.2" x2="180" y2="526.2" stroke="#e09040" stroke-width="0.6" />
<line x1="178.7" y1="522.2" x2="181.3" y2="522.2" stroke="#e09040" stroke-width="0.6" />
<line x1="178.7" y1="526.2" x2="181.3" y2="526.2" stroke="#e09040" stroke-width="0.6" />
<line x1="214.5" y1="528.2" x2="214.5" y2="530.2" stroke="#e09040" stroke-width="0.6" />
<line x1="213.2" y1="528.2" x2="215.8" y2="528.2" stroke="#e09040" stroke-width="0.6" />
<line x1="213.2" y1="530.2" x2="215.8" y2="530.2" stroke="#e09040" stroke-width="0.6" />
<polyline points="145.5,500.6 180.0,524.2 214.5,529.2" fill="none" stroke="#e09040" stroke-width="0.85" stroke-linejoin="round" />
<line x1="145.5" y1="505.5" x2="145.5" y2="517" stroke="#5a6a80" stroke-width="0.6" />
<line x1="144.2" y1="505.5" x2="146.8" y2="505.5" stroke="#5a6a80" stroke-width="0.6" />
<line x1="144.2" y1="517" x2="146.8" y2="517" stroke="#5a6a80" stroke-width="0.6" />
<line x1="180" y1="482.6" x2="180" y2="514.3" stroke="#5a6a80" stroke-width="0.6" />
<line x1="178.7" y1="482.6" x2="181.3" y2="482.6" stroke="#5a6a80" stroke-width="0.6" />
<line x1="178.7" y1="514.3" x2="181.3" y2="514.3" stroke="#5a6a80" stroke-width="0.6" />
<line x1="214.5" y1="452.5" x2="214.5" y2="463.5" stroke="#5a6a80" stroke-width="0.6" />
<line x1="213.2" y1="452.5" x2="215.8" y2="452.5" stroke="#5a6a80" stroke-width="0.6" />
<line x1="213.2" y1="463.5" x2="215.8" y2="463.5" stroke="#5a6a80" stroke-width="0.6" />
<polyline points="145.5,511.2 180.0,498.8 214.5,458.3" fill="none" stroke="#5a6a80" stroke-width="0.85" stroke-linejoin="round" />
<line x1="132.8" y1="435.4" x2="142.3" y2="435.4" stroke="#e09040" stroke-width="0.9" />
<text x="143.7" y="437.8" font-size="6.6" fill="#e09040" stroke="#e09040" stroke-width="0.1" textLength="53.3" lengthAdjust="spacingAndGlyphs" >CD86-28z + L-540</text>
<line x1="132.8" y1="441.8" x2="142.3" y2="441.8" stroke="#5a6a80" stroke-width="0.9" />
<text x="143.7" y="444.2" font-size="6.6" fill="#5a6a80" stroke="#5a6a80" stroke-width="0.1" textLength="53.3" lengthAdjust="spacingAndGlyphs" >CD19-28z + L-540</text>
<line x1="200" y1="433.5" x2="200" y2="444.5" stroke="#444" stroke-width="0.6" />
<circle cx="202.40" cy="435.80" r="0.75" fill="#222"/>
<circle cx="202.40" cy="438.70" r="0.75" fill="#222"/>
<circle cx="202.40" cy="441.60" r="0.75" fill="#222"/>
<text x="260.7" y="432.8" font-size="11" fill="#111" stroke="#111" stroke-width="0.35" font-weight="bold" textLength="10.1" lengthAdjust="spacingAndGlyphs" >M</text>
<line x1="313.2" y1="433.8" x2="313.2" y2="534.1" stroke="#222" stroke-width="1.4" />
<line x1="312.5" y1="533.4" x2="414.6" y2="533.4" stroke="#222" stroke-width="1.4" />
<line x1="310.6" y1="533.4" x2="313.2" y2="533.4" stroke="#222" stroke-width="1" />
<text x="307.6" y="535.6" font-size="6.2" fill="#2e2e2e" stroke="#2e2e2e" stroke-width="0.1" text-anchor="end" >0.0</text>
<line x1="310.6" y1="500.84999999999997" x2="313.2" y2="500.84999999999997" stroke="#222" stroke-width="1" />
<text x="307.6" y="503.04999999999995" font-size="6.2" fill="#2e2e2e" stroke="#2e2e2e" stroke-width="0.1" text-anchor="end" >5.0×10<tspan font-size="3.6" dy="-2.5">5</tspan></text>
<line x1="310.6" y1="468.29999999999995" x2="313.2" y2="468.29999999999995" stroke="#222" stroke-width="1" />
<text x="307.6" y="470.49999999999994" font-size="6.2" fill="#2e2e2e" stroke="#2e2e2e" stroke-width="0.1" text-anchor="end" >1.0×10<tspan font-size="3.6" dy="-2.5">6</tspan></text>
<line x1="310.6" y1="435.75" x2="313.2" y2="435.75" stroke="#222" stroke-width="1" />
<text x="307.6" y="437.95" font-size="6.2" fill="#2e2e2e" stroke="#2e2e2e" stroke-width="0.1" text-anchor="end" >1.5×10<tspan font-size="3.6" dy="-2.5">6</tspan></text>
<line x1="329.8" y1="533.4" x2="329.8" y2="536" stroke="#222" stroke-width="1" />
<text x="329.8" y="545.3" font-size="6.6" fill="#2e2e2e" stroke="#2e2e2e" stroke-width="0.1" text-anchor="middle" >0</text>
<line x1="364.3" y1="533.4" x2="364.3" y2="536" stroke="#222" stroke-width="1" />
<text x="364.3" y="545.3" font-size="6.6" fill="#2e2e2e" stroke="#2e2e2e" stroke-width="0.1" text-anchor="middle" >2</text>
<line x1="398.5" y1="533.4" x2="398.5" y2="536" stroke="#222" stroke-width="1" />
<text x="398.5" y="545.3" font-size="6.6" fill="#2e2e2e" stroke="#2e2e2e" stroke-width="0.1" text-anchor="middle" >5</text>
<text x="364.5" y="557" font-size="7.8" fill="#2e2e2e" stroke="#2e2e2e" stroke-width="0.16" text-anchor="middle" textLength="34.5" lengthAdjust="spacingAndGlyphs" >Days to ACT</text>
<text x="279.8" y="480.6" font-size="7.5" fill="#2e2e2e" stroke="#2e2e2e" stroke-width="0.16" text-anchor="middle" textLength="101.5" lengthAdjust="spacingAndGlyphs" transform="rotate(-90 279.8 480.6)" >Average radiance [p/sec/cm<tspan font-size="4.6" dy="-2.7">2</tspan><tspan dy="2.7">/sr]</tspan></text>
<line x1="329.8" y1="478.5" x2="329.8" y2="484.5" stroke="#d88838" stroke-width="0.6" />
<line x1="328.5" y1="478.5" x2="331.1" y2="478.5" stroke="#d88838" stroke-width="0.6" />
<line x1="328.5" y1="484.5" x2="331.1" y2="484.5" stroke="#d88838" stroke-width="0.6" />
<line x1="364.3" y1="480.4" x2="364.3" y2="503.3" stroke="#d88838" stroke-width="0.6" />
<line x1="363.0" y1="480.4" x2="365.6" y2="480.4" stroke="#d88838" stroke-width="0.6" />
<line x1="363.0" y1="503.3" x2="365.6" y2="503.3" stroke="#d88838" stroke-width="0.6" />
<line x1="398.5" y1="445.4" x2="398.5" y2="482.5" stroke="#d88838" stroke-width="0.6" />
<line x1="397.2" y1="445.4" x2="399.8" y2="445.4" stroke="#d88838" stroke-width="0.6" />
<line x1="397.2" y1="482.5" x2="399.8" y2="482.5" stroke="#d88838" stroke-width="0.6" />
<polyline points="329.8,481.0 364.3,491.2 398.5,464.2" fill="none" stroke="#d88838" stroke-width="0.85" stroke-linejoin="round" />
<line x1="329.8" y1="483" x2="329.8" y2="496.5" stroke="#5a6a80" stroke-width="0.6" />
<line x1="328.5" y1="483" x2="331.1" y2="483" stroke="#5a6a80" stroke-width="0.6" />
<line x1="328.5" y1="496.5" x2="331.1" y2="496.5" stroke="#5a6a80" stroke-width="0.6" />
<line x1="364.3" y1="514.9" x2="364.3" y2="522.1" stroke="#5a6a80" stroke-width="0.6" />
<line x1="363.0" y1="514.9" x2="365.6" y2="514.9" stroke="#5a6a80" stroke-width="0.6" />
<line x1="363.0" y1="522.1" x2="365.6" y2="522.1" stroke="#5a6a80" stroke-width="0.6" />
<line x1="398.5" y1="530.5" x2="398.5" y2="532.5" stroke="#5a6a80" stroke-width="0.6" />
<line x1="397.2" y1="530.5" x2="399.8" y2="530.5" stroke="#5a6a80" stroke-width="0.6" />
<line x1="397.2" y1="532.5" x2="399.8" y2="532.5" stroke="#5a6a80" stroke-width="0.6" />
<polyline points="329.8,489.8 364.3,519.4 398.5,531.5" fill="none" stroke="#5a6a80" stroke-width="0.85" stroke-linejoin="round" />
<line x1="329.8" y1="508.7" x2="329.8" y2="516.7" stroke="#f0a840" stroke-width="0.6" />
<line x1="328.5" y1="508.7" x2="331.1" y2="508.7" stroke="#f0a840" stroke-width="0.6" />
<line x1="328.5" y1="516.7" x2="331.1" y2="516.7" stroke="#f0a840" stroke-width="0.6" />
<line x1="364.3" y1="522" x2="364.3" y2="530.2" stroke="#f0a840" stroke-width="0.6" />
<line x1="363.0" y1="522" x2="365.6" y2="522" stroke="#f0a840" stroke-width="0.6" />
<line x1="363.0" y1="530.2" x2="365.6" y2="530.2" stroke="#f0a840" stroke-width="0.6" />
<line x1="398.5" y1="524.8" x2="398.5" y2="529.4" stroke="#f0a840" stroke-width="0.6" />
<line x1="397.2" y1="524.8" x2="399.8" y2="524.8" stroke="#f0a840" stroke-width="0.6" />
<line x1="397.2" y1="529.4" x2="399.8" y2="529.4" stroke="#f0a840" stroke-width="0.6" />
<polyline points="329.8,512.7 364.3,525.6 398.5,526.7" fill="none" stroke="#f0a840" stroke-width="0.85" stroke-linejoin="round" />
<line x1="315.8" y1="437.5" x2="324.4" y2="437.5" stroke="#d88838" stroke-width="0.9" />
<text x="326.4" y="439.8" font-size="6.6" fill="#d88838" stroke="#d88838" stroke-width="0.1" textLength="52.6" lengthAdjust="spacingAndGlyphs" >CD86-28z + L-540</text>
<line x1="315.8" y1="444.2" x2="324.4" y2="444.2" stroke="#5a6a80" stroke-width="0.9" />
<text x="326.4" y="446.5" font-size="6.6" fill="#5a6a80" stroke="#5a6a80" stroke-width="0.1" textLength="52.6" lengthAdjust="spacingAndGlyphs" >CD19-28z + L-540</text>
<line x1="315.8" y1="450.4" x2="324.4" y2="450.4" stroke="#f0a840" stroke-width="0.9" />
<text x="326.4" y="452.7" font-size="6.6" fill="#f0a840" stroke="#f0a840" stroke-width="0.1" textLength="52.6" lengthAdjust="spacingAndGlyphs" >CD86-28z – L-540</text>
<line x1="382.4" y1="435.5" x2="382.4" y2="443.8" stroke="#444" stroke-width="0.6" />
<circle cx="384.90" cy="437.00" r="0.75" fill="#222"/>
<circle cx="384.90" cy="439.95" r="0.75" fill="#222"/>
<circle cx="384.90" cy="442.90" r="0.75" fill="#222"/>
<line x1="387.3" y1="435.8" x2="387.3" y2="452.5" stroke="#444" stroke-width="0.6" />
<circle cx="389.90" cy="442.50" r="0.75" fill="#222"/>
<circle cx="389.90" cy="445.35" r="0.75" fill="#222"/>
<circle cx="389.90" cy="448.20" r="0.75" fill="#222"/>
<rect x="0.5" y="0.5" width="519" height="565" fill="none" stroke="#505050" stroke-width="1.1"/>
</g></svg></body></html>
